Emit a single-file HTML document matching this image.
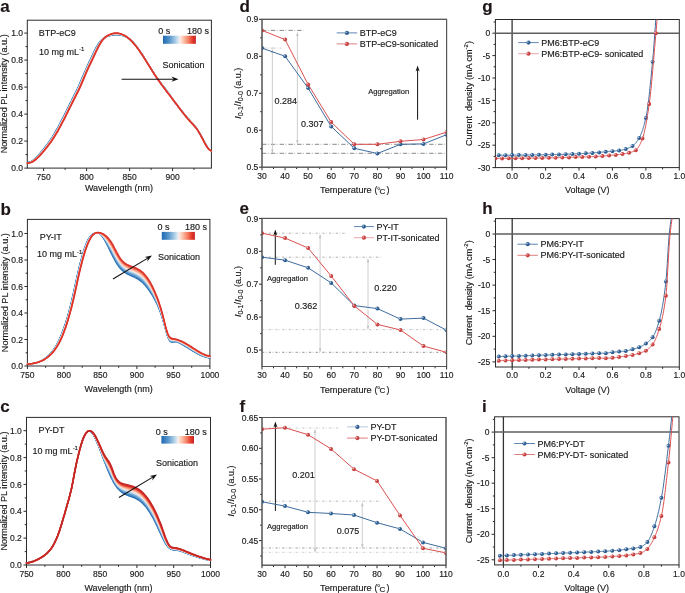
<!DOCTYPE html>
<html><head><meta charset="utf-8"><style>html,body{margin:0;padding:0;background:#fff;width:685px;height:593px;overflow:hidden}svg{display:block;will-change:transform}</style></head>
<body><svg width="685" height="593" viewBox="0 0 685 593" font-family="'Liberation Sans', sans-serif"><style>text{stroke:#1a1a1a;stroke-width:0.15;paint-order:fill}</style><defs><linearGradient id="cb1" x1="0" x2="1" y1="0" y2="0"><stop offset="0.0" stop-color="rgb(31, 104, 178)"/><stop offset="0.2" stop-color="rgb(88, 150, 203)"/><stop offset="0.38" stop-color="rgb(170, 204, 229)"/><stop offset="0.48" stop-color="rgb(225, 234, 244)"/><stop offset="0.52" stop-color="rgb(253, 236, 228)"/><stop offset="0.62" stop-color="rgb(251, 196, 174)"/><stop offset="0.78" stop-color="rgb(244, 126, 98)"/><stop offset="0.9" stop-color="rgb(229, 57, 44)"/><stop offset="1.0" stop-color="rgb(198, 38, 36)"/></linearGradient><linearGradient id="cb2" x1="0" x2="1" y1="0" y2="0"><stop offset="0.0" stop-color="rgb(31, 104, 178)"/><stop offset="0.2" stop-color="rgb(88, 150, 203)"/><stop offset="0.38" stop-color="rgb(170, 204, 229)"/><stop offset="0.48" stop-color="rgb(225, 234, 244)"/><stop offset="0.52" stop-color="rgb(253, 236, 228)"/><stop offset="0.62" stop-color="rgb(251, 196, 174)"/><stop offset="0.78" stop-color="rgb(244, 126, 98)"/><stop offset="0.9" stop-color="rgb(229, 57, 44)"/><stop offset="1.0" stop-color="rgb(198, 38, 36)"/></linearGradient><linearGradient id="cb3" x1="0" x2="1" y1="0" y2="0"><stop offset="0.0" stop-color="rgb(31, 104, 178)"/><stop offset="0.2" stop-color="rgb(88, 150, 203)"/><stop offset="0.38" stop-color="rgb(170, 204, 229)"/><stop offset="0.48" stop-color="rgb(225, 234, 244)"/><stop offset="0.52" stop-color="rgb(253, 236, 228)"/><stop offset="0.62" stop-color="rgb(251, 196, 174)"/><stop offset="0.78" stop-color="rgb(244, 126, 98)"/><stop offset="0.9" stop-color="rgb(229, 57, 44)"/><stop offset="1.0" stop-color="rgb(198, 38, 36)"/></linearGradient><radialGradient id="mb" cx="0.45" cy="0.4" r="0.6"><stop offset="0" stop-color="#dce8f5"/><stop offset="0.2" stop-color="#7fa3cb"/><stop offset="0.5" stop-color="#3d6c9f"/><stop offset="1" stop-color="#255583"/></radialGradient><radialGradient id="mr" cx="0.45" cy="0.4" r="0.6"><stop offset="0" stop-color="#fbe0e0"/><stop offset="0.2" stop-color="#e99494"/><stop offset="0.5" stop-color="#d24c4c"/><stop offset="1" stop-color="#b93636"/></radialGradient><clipPath id="cp1"><rect x="262" y="19.3" width="184.6" height="147.9"/></clipPath><clipPath id="cp2"><rect x="262" y="218.4" width="184.6" height="148.1"/></clipPath><clipPath id="cp3"><rect x="262" y="417.5" width="184" height="147.7"/></clipPath><clipPath id="cp4"><rect x="495.4" y="19.5" width="183.9" height="148.1"/></clipPath><clipPath id="cp5"><rect x="495.4" y="19.5" width="183.9" height="148.1"/></clipPath><clipPath id="cp6"><rect x="495.5" y="218.6" width="183.8" height="148.4"/></clipPath><clipPath id="cp7"><rect x="495.5" y="218.6" width="183.8" height="148.4"/></clipPath><clipPath id="cp8"><rect x="494.6" y="416.8" width="184.4" height="148.1"/></clipPath><clipPath id="cp9"><rect x="494.6" y="416.8" width="184.4" height="148.1"/></clipPath></defs><rect width="685" height="593" fill="#fff"/><text x="0.3" y="12.2" font-size="17" text-anchor="start" font-weight="bold" fill="#1e1414" >a</text><rect x="27.3" y="20.2" width="184.1" height="147.9" fill="none" stroke="#2b2b2b" stroke-width="1"/><line x1="43.6" y1="168.1" x2="43.6" y2="171.1" stroke="#2b2b2b" stroke-width="1" /><line x1="86.6" y1="168.1" x2="86.6" y2="171.1" stroke="#2b2b2b" stroke-width="1" /><line x1="129.6" y1="168.1" x2="129.6" y2="171.1" stroke="#2b2b2b" stroke-width="1" /><line x1="172.6" y1="168.1" x2="172.6" y2="171.1" stroke="#2b2b2b" stroke-width="1" /><line x1="65.1" y1="168.1" x2="65.1" y2="169.9" stroke="#2b2b2b" stroke-width="1" /><line x1="108.1" y1="168.1" x2="108.1" y2="169.9" stroke="#2b2b2b" stroke-width="1" /><line x1="151.1" y1="168.1" x2="151.1" y2="169.9" stroke="#2b2b2b" stroke-width="1" /><line x1="194" y1="168.1" x2="194" y2="169.9" stroke="#2b2b2b" stroke-width="1" /><text x="43.6" y="180" font-size="8.5" text-anchor="middle" font-weight="normal" fill="#1a1a1a" >750</text><text x="86.6" y="180" font-size="8.5" text-anchor="middle" font-weight="normal" fill="#1a1a1a" >800</text><text x="129.6" y="180" font-size="8.5" text-anchor="middle" font-weight="normal" fill="#1a1a1a" >850</text><text x="172.6" y="180" font-size="8.5" text-anchor="middle" font-weight="normal" fill="#1a1a1a" >900</text><line x1="24.3" y1="168.1" x2="27.3" y2="168.1" stroke="#2b2b2b" stroke-width="1" /><line x1="24.3" y1="141.1" x2="27.3" y2="141.1" stroke="#2b2b2b" stroke-width="1" /><line x1="24.3" y1="114.1" x2="27.3" y2="114.1" stroke="#2b2b2b" stroke-width="1" /><line x1="24.3" y1="87.1" x2="27.3" y2="87.1" stroke="#2b2b2b" stroke-width="1" /><line x1="24.3" y1="60.1" x2="27.3" y2="60.1" stroke="#2b2b2b" stroke-width="1" /><line x1="24.3" y1="33.1" x2="27.3" y2="33.1" stroke="#2b2b2b" stroke-width="1" /><line x1="25.5" y1="154.6" x2="27.3" y2="154.6" stroke="#2b2b2b" stroke-width="1" /><line x1="25.5" y1="127.6" x2="27.3" y2="127.6" stroke="#2b2b2b" stroke-width="1" /><line x1="25.5" y1="100.6" x2="27.3" y2="100.6" stroke="#2b2b2b" stroke-width="1" /><line x1="25.5" y1="73.6" x2="27.3" y2="73.6" stroke="#2b2b2b" stroke-width="1" /><line x1="25.5" y1="46.6" x2="27.3" y2="46.6" stroke="#2b2b2b" stroke-width="1" /><text x="23" y="171.2" font-size="8.5" text-anchor="end" font-weight="normal" fill="#1a1a1a" >0.0</text><text x="23" y="144.2" font-size="8.5" text-anchor="end" font-weight="normal" fill="#1a1a1a" >0.2</text><text x="23" y="117.2" font-size="8.5" text-anchor="end" font-weight="normal" fill="#1a1a1a" >0.4</text><text x="23" y="90.2" font-size="8.5" text-anchor="end" font-weight="normal" fill="#1a1a1a" >0.6</text><text x="23" y="63.2" font-size="8.5" text-anchor="end" font-weight="normal" fill="#1a1a1a" >0.8</text><text x="23" y="36.2" font-size="8.5" text-anchor="end" font-weight="normal" fill="#1a1a1a" >1.0</text><text x="119" y="191.2" font-size="9" text-anchor="middle" font-weight="normal" fill="#1a1a1a" >Wavelength (nm)</text><text x="0" y="0" font-size="9.1" text-anchor="middle" font-weight="normal" fill="#1a1a1a" transform="translate(7.4,93.8) rotate(-90)">Normalized PL intensity (a.u.)</text><text x="38.8" y="36.4" font-size="9" text-anchor="start" font-weight="normal" fill="#1a1a1a" >BTP-eC9</text><text x="39" y="54.8" font-size="9" text-anchor="start" font-weight="normal" fill="#1a1a1a" >10 mg mL<tspan font-size="6" dy="-3.5">-1</tspan></text><rect x="163" y="35.7" width="32.9" height="8.1" fill="url(#cb1)"/><text x="164.2" y="33.6" font-size="9" text-anchor="middle" font-weight="normal" fill="#1a1a1a" >0 s</text><text x="209" y="33.6" font-size="9" text-anchor="end" font-weight="normal" fill="#1a1a1a" >180 s</text><text x="162.6" y="68.1" font-size="9" text-anchor="start" font-weight="normal" fill="#1a1a1a" >Sonication</text><path d="M27.3,162.5 L28,162.4 L28.7,162.3 L29.4,162.1 L30.1,161.9 L30.9,161.6 L31.6,161.2 L32.3,160.7 L33,160.3 L33.7,159.7 L34.4,159.1 L35.1,158.5 L35.8,157.8 L36.5,157.1 L37.3,156.4 L38,155.6 L38.7,154.8 L39.4,154 L40.1,153.1 L40.8,152.3 L41.5,151.4 L42.2,150.6 L42.9,149.7 L43.6,148.8 L44.4,148 L45.1,147 L45.8,146.1 L46.5,145.2 L47.2,144.3 L47.9,143.3 L48.6,142.3 L49.3,141.3 L50,140.3 L50.8,139.2 L51.5,138.2 L52.2,137.1 L52.9,135.9 L53.6,134.8 L54.3,133.6 L55,132.4 L55.7,131.2 L56.4,129.9 L57.2,128.7 L57.9,127.4 L58.6,126.1 L59.3,124.7 L60,123.4 L60.7,122 L61.4,120.6 L62.1,119.3 L62.8,117.9 L63.6,116.4 L64.3,115 L65,113.6 L65.7,112.2 L66.4,110.8 L67.1,109.3 L67.8,107.9 L68.5,106.4 L69.2,105 L69.9,103.6 L70.7,102.1 L71.4,100.7 L72.1,99.3 L72.8,97.9 L73.5,96.5 L74.2,95.1 L74.9,93.7 L75.6,92.3 L76.3,90.8 L77.1,89.4 L77.8,87.9 L78.5,86.3 L79.2,84.7 L79.9,83.1 L80.6,81.4 L81.3,79.7 L82,78.1 L82.7,76.4 L83.5,74.7 L84.2,73.1 L84.9,71.5 L85.6,69.9 L86.3,68.3 L87,66.7 L87.7,65.1 L88.4,63.6 L89.1,62.1 L89.9,60.5 L90.6,59 L91.3,57.5 L92,56 L92.7,54.5 L93.4,53 L94.1,51.6 L94.8,50.1 L95.5,48.7 L96.2,47.4 L97,46.1 L97.7,44.9 L98.4,43.7 L99.1,42.7 L99.8,41.8 L100.5,40.9 L101.2,40.2 L101.9,39.5 L102.6,38.9 L103.4,38.4 L104.1,37.9 L104.8,37.5 L105.5,37.2 L106.2,36.9 L106.9,36.6 L107.6,36.3 L108.3,36.1 L109,35.9 L109.8,35.7 L110.5,35.5 L111.2,35.4 L111.9,35.2 L112.6,35.1 L113.3,35 L114,34.9 L114.7,34.8 L115.4,34.8 L116.2,34.8 L116.9,34.8 L117.6,34.8 L118.3,34.8 L119,34.9 L119.7,35 L120.4,35.1 L121.1,35.2 L121.8,35.4 L122.5,35.6 L123.3,35.8 L124,36 L124.7,36.3 L125.4,36.6 L126.1,36.9 L126.8,37.3 L127.5,37.7 L128.2,38.1 L128.9,38.6 L129.7,39.1 L130.4,39.7 L131.1,40.3 L131.8,40.9 L132.5,41.6 L133.2,42.4 L133.9,43.1 L134.6,43.9 L135.3,44.8 L136.1,45.7 L136.8,46.6 L137.5,47.5 L138.2,48.5 L138.9,49.5 L139.6,50.5 L140.3,51.6 L141,52.7 L141.7,53.7 L142.5,54.9 L143.2,56 L143.9,57.1 L144.6,58.2 L145.3,59.4 L146,60.6 L146.7,61.7 L147.4,62.9 L148.1,64.1 L148.8,65.2 L149.6,66.4 L150.3,67.5 L151,68.7 L151.7,69.8 L152.4,71 L153.1,72.1 L153.8,73.2 L154.5,74.3 L155.2,75.3 L156,76.4 L156.7,77.4 L157.4,78.4 L158.1,79.4 L158.8,80.3 L159.5,81.3 L160.2,82.2 L160.9,83.1 L161.6,84 L162.4,84.9 L163.1,85.8 L163.8,86.7 L164.5,87.6 L165.2,88.5 L165.9,89.4 L166.6,90.4 L167.3,91.4 L168,92.4 L168.8,93.4 L169.5,94.4 L170.2,95.5 L170.9,96.5 L171.6,97.5 L172.3,98.6 L173,99.6 L173.7,100.6 L174.4,101.6 L175.1,102.6 L175.9,103.6 L176.6,104.6 L177.3,105.5 L178,106.4 L178.7,107.3 L179.4,108.2 L180.1,109.1 L180.8,110 L181.5,110.8 L182.3,111.7 L183,112.5 L183.7,113.3 L184.4,114.1 L185.1,115 L185.8,115.8 L186.5,116.6 L187.2,117.4 L187.9,118.2 L188.7,119 L189.4,119.8 L190.1,120.6 L190.8,121.4 L191.5,122.3 L192.2,123.1 L192.9,123.9 L193.6,124.8 L194.3,125.7 L195.1,126.6 L195.8,127.5 L196.5,128.5 L197.2,129.4 L197.9,130.5 L198.6,131.5 L199.3,132.6 L200,133.7 L200.7,134.9 L201.4,136.2 L202.2,137.4 L202.9,138.8 L203.6,140.1 L204.3,141.5 L205,142.8 L205.7,144.1 L206.4,145.4 L207.1,146.5 L207.8,147.6 L208.6,148.6 L209.3,149.4 L210,150.1 L210.7,150.5 L211.4,150.8" fill="none" stroke="#1f68b2" stroke-width="1.3" stroke-linejoin="round" stroke-linecap="round" /><path d="M27.3,162.5 L28,162.5 L28.7,162.4 L29.4,162.2 L30.1,162 L30.9,161.7 L31.6,161.3 L32.3,160.9 L33,160.4 L33.7,159.9 L34.4,159.3 L35.1,158.7 L35.8,158 L36.5,157.3 L37.3,156.6 L38,155.8 L38.7,155 L39.4,154.2 L40.1,153.4 L40.8,152.6 L41.5,151.7 L42.2,150.9 L42.9,150 L43.6,149.1 L44.4,148.2 L45.1,147.3 L45.8,146.4 L46.5,145.5 L47.2,144.6 L47.9,143.6 L48.6,142.6 L49.3,141.6 L50,140.6 L50.8,139.6 L51.5,138.5 L52.2,137.4 L52.9,136.3 L53.6,135.1 L54.3,134 L55,132.8 L55.7,131.6 L56.4,130.3 L57.2,129.1 L57.9,127.8 L58.6,126.5 L59.3,125.1 L60,123.8 L60.7,122.4 L61.4,121.1 L62.1,119.7 L62.8,118.3 L63.6,116.9 L64.3,115.5 L65,114 L65.7,112.6 L66.4,111.2 L67.1,109.8 L67.8,108.3 L68.5,106.9 L69.2,105.5 L69.9,104 L70.7,102.6 L71.4,101.2 L72.1,99.8 L72.8,98.3 L73.5,96.9 L74.2,95.6 L74.9,94.1 L75.6,92.7 L76.3,91.3 L77.1,89.8 L77.8,88.3 L78.5,86.8 L79.2,85.2 L79.9,83.6 L80.6,81.9 L81.3,80.3 L82,78.6 L82.7,76.9 L83.5,75.2 L84.2,73.6 L84.9,72 L85.6,70.3 L86.3,68.8 L87,67.2 L87.7,65.6 L88.4,64.1 L89.1,62.5 L89.9,61 L90.6,59.5 L91.3,58 L92,56.5 L92.7,55 L93.4,53.5 L94.1,52.1 L94.8,50.6 L95.5,49.2 L96.2,47.8 L97,46.5 L97.7,45.3 L98.4,44.1 L99.1,43 L99.8,42.1 L100.5,41.2 L101.2,40.4 L101.9,39.7 L102.6,39.1 L103.4,38.5 L104.1,38 L104.8,37.6 L105.5,37.2 L106.2,36.8 L106.9,36.5 L107.6,36.3 L108.3,36 L109,35.8 L109.8,35.6 L110.5,35.4 L111.2,35.2 L111.9,35.1 L112.6,34.9 L113.3,34.8 L114,34.7 L114.7,34.7 L115.4,34.6 L116.2,34.6 L116.9,34.6 L117.6,34.6 L118.3,34.7 L119,34.7 L119.7,34.8 L120.4,34.9 L121.1,35.1 L121.8,35.3 L122.5,35.5 L123.3,35.7 L124,35.9 L124.7,36.2 L125.4,36.5 L126.1,36.9 L126.8,37.3 L127.5,37.7 L128.2,38.1 L128.9,38.6 L129.7,39.1 L130.4,39.7 L131.1,40.3 L131.8,41 L132.5,41.7 L133.2,42.4 L133.9,43.2 L134.6,44 L135.3,44.9 L136.1,45.7 L136.8,46.7 L137.5,47.6 L138.2,48.6 L138.9,49.6 L139.6,50.6 L140.3,51.7 L141,52.7 L141.7,53.8 L142.5,54.9 L143.2,56 L143.9,57.2 L144.6,58.3 L145.3,59.4 L146,60.6 L146.7,61.8 L147.4,62.9 L148.1,64.1 L148.8,65.2 L149.6,66.4 L150.3,67.6 L151,68.7 L151.7,69.9 L152.4,71 L153.1,72.1 L153.8,73.2 L154.5,74.3 L155.2,75.4 L156,76.4 L156.7,77.4 L157.4,78.5 L158.1,79.4 L158.8,80.4 L159.5,81.3 L160.2,82.3 L160.9,83.2 L161.6,84.1 L162.4,85 L163.1,85.9 L163.8,86.8 L164.5,87.7 L165.2,88.6 L165.9,89.6 L166.6,90.5 L167.3,91.5 L168,92.5 L168.8,93.5 L169.5,94.5 L170.2,95.5 L170.9,96.5 L171.6,97.6 L172.3,98.6 L173,99.6 L173.7,100.6 L174.4,101.6 L175.1,102.6 L175.9,103.6 L176.6,104.5 L177.3,105.5 L178,106.4 L178.7,107.3 L179.4,108.2 L180.1,109.1 L180.8,110 L181.5,110.8 L182.3,111.7 L183,112.5 L183.7,113.4 L184.4,114.2 L185.1,115 L185.8,115.8 L186.5,116.7 L187.2,117.5 L187.9,118.3 L188.7,119.1 L189.4,119.9 L190.1,120.7 L190.8,121.5 L191.5,122.3 L192.2,123.1 L192.9,124 L193.6,124.8 L194.3,125.7 L195.1,126.6 L195.8,127.5 L196.5,128.5 L197.2,129.4 L197.9,130.5 L198.6,131.5 L199.3,132.6 L200,133.8 L200.7,135 L201.4,136.2 L202.2,137.5 L202.9,138.8 L203.6,140.2 L204.3,141.6 L205,142.9 L205.7,144.2 L206.4,145.4 L207.1,146.6 L207.8,147.7 L208.6,148.6 L209.3,149.4 L210,150.1 L210.7,150.5 L211.4,150.8" fill="none" stroke="#3c80bf" stroke-width="1.3" stroke-linejoin="round" stroke-linecap="round" /><path d="M27.3,162.6 L28,162.6 L28.7,162.5 L29.4,162.3 L30.1,162.1 L30.9,161.8 L31.6,161.4 L32.3,161 L33,160.5 L33.7,160 L34.4,159.4 L35.1,158.8 L35.8,158.2 L36.5,157.5 L37.3,156.8 L38,156 L38.7,155.2 L39.4,154.4 L40.1,153.6 L40.8,152.8 L41.5,152 L42.2,151.1 L42.9,150.3 L43.6,149.4 L44.4,148.5 L45.1,147.6 L45.8,146.7 L46.5,145.8 L47.2,144.8 L47.9,143.9 L48.6,142.9 L49.3,141.9 L50,140.9 L50.8,139.9 L51.5,138.8 L52.2,137.7 L52.9,136.6 L53.6,135.5 L54.3,134.3 L55,133.2 L55.7,131.9 L56.4,130.7 L57.2,129.4 L57.9,128.2 L58.6,126.9 L59.3,125.5 L60,124.2 L60.7,122.9 L61.4,121.5 L62.1,120.1 L62.8,118.7 L63.6,117.3 L64.3,115.9 L65,114.5 L65.7,113.1 L66.4,111.6 L67.1,110.2 L67.8,108.8 L68.5,107.3 L69.2,105.9 L69.9,104.5 L70.7,103 L71.4,101.6 L72.1,100.2 L72.8,98.8 L73.5,97.4 L74.2,96 L74.9,94.6 L75.6,93.2 L76.3,91.8 L77.1,90.3 L77.8,88.8 L78.5,87.3 L79.2,85.7 L79.9,84.1 L80.6,82.4 L81.3,80.8 L82,79.1 L82.7,77.4 L83.5,75.8 L84.2,74.1 L84.9,72.5 L85.6,70.8 L86.3,69.2 L87,67.7 L87.7,66.1 L88.4,64.5 L89.1,63 L89.9,61.5 L90.6,60 L91.3,58.5 L92,57 L92.7,55.5 L93.4,54 L94.1,52.5 L94.8,51.1 L95.5,49.7 L96.2,48.3 L97,46.9 L97.7,45.7 L98.4,44.5 L99.1,43.4 L99.8,42.4 L100.5,41.4 L101.2,40.6 L101.9,39.9 L102.6,39.2 L103.4,38.6 L104.1,38.1 L104.8,37.6 L105.5,37.2 L106.2,36.8 L106.9,36.5 L107.6,36.2 L108.3,35.9 L109,35.7 L109.8,35.4 L110.5,35.2 L111.2,35 L111.9,34.9 L112.6,34.7 L113.3,34.6 L114,34.5 L114.7,34.5 L115.4,34.4 L116.2,34.4 L116.9,34.4 L117.6,34.4 L118.3,34.5 L119,34.6 L119.7,34.7 L120.4,34.8 L121.1,34.9 L121.8,35.1 L122.5,35.3 L123.3,35.6 L124,35.8 L124.7,36.1 L125.4,36.5 L126.1,36.8 L126.8,37.2 L127.5,37.6 L128.2,38.1 L128.9,38.6 L129.7,39.2 L130.4,39.7 L131.1,40.4 L131.8,41 L132.5,41.7 L133.2,42.5 L133.9,43.3 L134.6,44.1 L135.3,44.9 L136.1,45.8 L136.8,46.7 L137.5,47.7 L138.2,48.7 L138.9,49.7 L139.6,50.7 L140.3,51.7 L141,52.8 L141.7,53.9 L142.5,55 L143.2,56.1 L143.9,57.2 L144.6,58.3 L145.3,59.5 L146,60.6 L146.7,61.8 L147.4,62.9 L148.1,64.1 L148.8,65.3 L149.6,66.4 L150.3,67.6 L151,68.7 L151.7,69.9 L152.4,71 L153.1,72.1 L153.8,73.2 L154.5,74.3 L155.2,75.4 L156,76.4 L156.7,77.5 L157.4,78.5 L158.1,79.5 L158.8,80.4 L159.5,81.4 L160.2,82.3 L160.9,83.2 L161.6,84.2 L162.4,85.1 L163.1,86 L163.8,86.9 L164.5,87.8 L165.2,88.7 L165.9,89.7 L166.6,90.6 L167.3,91.6 L168,92.6 L168.8,93.6 L169.5,94.6 L170.2,95.6 L170.9,96.6 L171.6,97.6 L172.3,98.6 L173,99.6 L173.7,100.6 L174.4,101.6 L175.1,102.6 L175.9,103.5 L176.6,104.5 L177.3,105.4 L178,106.4 L178.7,107.3 L179.4,108.2 L180.1,109.1 L180.8,110 L181.5,110.8 L182.3,111.7 L183,112.6 L183.7,113.4 L184.4,114.3 L185.1,115.1 L185.8,115.9 L186.5,116.7 L187.2,117.6 L187.9,118.4 L188.7,119.2 L189.4,120 L190.1,120.8 L190.8,121.6 L191.5,122.4 L192.2,123.2 L192.9,124 L193.6,124.9 L194.3,125.7 L195.1,126.6 L195.8,127.5 L196.5,128.5 L197.2,129.5 L197.9,130.5 L198.6,131.6 L199.3,132.7 L200,133.8 L200.7,135 L201.4,136.3 L202.2,137.6 L202.9,138.9 L203.6,140.3 L204.3,141.6 L205,143 L205.7,144.3 L206.4,145.5 L207.1,146.7 L207.8,147.7 L208.6,148.7 L209.3,149.5 L210,150.1 L210.7,150.6 L211.4,150.8" fill="none" stroke="#5b98cc" stroke-width="1.3" stroke-linejoin="round" stroke-linecap="round" /><path d="M27.3,162.7 L28,162.7 L28.7,162.6 L29.4,162.4 L30.1,162.2 L30.9,161.9 L31.6,161.5 L32.3,161.1 L33,160.7 L33.7,160.2 L34.4,159.6 L35.1,159 L35.8,158.4 L36.5,157.7 L37.3,157 L38,156.2 L38.7,155.5 L39.4,154.7 L40.1,153.9 L40.8,153.1 L41.5,152.2 L42.2,151.4 L42.9,150.5 L43.6,149.7 L44.4,148.8 L45.1,147.9 L45.8,147 L46.5,146.1 L47.2,145.1 L47.9,144.2 L48.6,143.2 L49.3,142.2 L50,141.2 L50.8,140.2 L51.5,139.2 L52.2,138.1 L52.9,137 L53.6,135.9 L54.3,134.7 L55,133.5 L55.7,132.3 L56.4,131.1 L57.2,129.8 L57.9,128.6 L58.6,127.3 L59.3,126 L60,124.6 L60.7,123.3 L61.4,121.9 L62.1,120.5 L62.8,119.1 L63.6,117.7 L64.3,116.3 L65,114.9 L65.7,113.5 L66.4,112.1 L67.1,110.6 L67.8,109.2 L68.5,107.8 L69.2,106.3 L69.9,104.9 L70.7,103.5 L71.4,102.1 L72.1,100.6 L72.8,99.2 L73.5,97.8 L74.2,96.4 L74.9,95 L75.6,93.6 L76.3,92.2 L77.1,90.8 L77.8,89.3 L78.5,87.8 L79.2,86.2 L79.9,84.6 L80.6,83 L81.3,81.3 L82,79.6 L82.7,77.9 L83.5,76.3 L84.2,74.6 L84.9,73 L85.6,71.3 L86.3,69.7 L87,68.1 L87.7,66.6 L88.4,65 L89.1,63.5 L89.9,62 L90.6,60.5 L91.3,59 L92,57.5 L92.7,56 L93.4,54.5 L94.1,53 L94.8,51.6 L95.5,50.1 L96.2,48.7 L97,47.4 L97.7,46.1 L98.4,44.8 L99.1,43.7 L99.8,42.6 L100.5,41.7 L101.2,40.8 L101.9,40 L102.6,39.3 L103.4,38.7 L104.1,38.1 L104.8,37.6 L105.5,37.2 L106.2,36.8 L106.9,36.4 L107.6,36.1 L108.3,35.8 L109,35.5 L109.8,35.3 L110.5,35.1 L111.2,34.9 L111.9,34.7 L112.6,34.6 L113.3,34.4 L114,34.4 L114.7,34.3 L115.4,34.2 L116.2,34.2 L116.9,34.2 L117.6,34.2 L118.3,34.3 L119,34.4 L119.7,34.5 L120.4,34.6 L121.1,34.8 L121.8,35 L122.5,35.2 L123.3,35.5 L124,35.7 L124.7,36.1 L125.4,36.4 L126.1,36.8 L126.8,37.2 L127.5,37.6 L128.2,38.1 L128.9,38.6 L129.7,39.2 L130.4,39.8 L131.1,40.4 L131.8,41.1 L132.5,41.8 L133.2,42.5 L133.9,43.3 L134.6,44.1 L135.3,45 L136.1,45.9 L136.8,46.8 L137.5,47.8 L138.2,48.7 L138.9,49.7 L139.6,50.7 L140.3,51.8 L141,52.8 L141.7,53.9 L142.5,55 L143.2,56.1 L143.9,57.2 L144.6,58.4 L145.3,59.5 L146,60.7 L146.7,61.8 L147.4,63 L148.1,64.1 L148.8,65.3 L149.6,66.4 L150.3,67.6 L151,68.7 L151.7,69.9 L152.4,71 L153.1,72.1 L153.8,73.2 L154.5,74.3 L155.2,75.4 L156,76.5 L156.7,77.5 L157.4,78.5 L158.1,79.5 L158.8,80.5 L159.5,81.4 L160.2,82.4 L160.9,83.3 L161.6,84.2 L162.4,85.2 L163.1,86.1 L163.8,87 L164.5,87.9 L165.2,88.9 L165.9,89.8 L166.6,90.7 L167.3,91.7 L168,92.7 L168.8,93.7 L169.5,94.7 L170.2,95.6 L170.9,96.6 L171.6,97.6 L172.3,98.6 L173,99.6 L173.7,100.6 L174.4,101.6 L175.1,102.6 L175.9,103.5 L176.6,104.5 L177.3,105.4 L178,106.4 L178.7,107.3 L179.4,108.2 L180.1,109.1 L180.8,110 L181.5,110.9 L182.3,111.7 L183,112.6 L183.7,113.5 L184.4,114.3 L185.1,115.2 L185.8,116 L186.5,116.8 L187.2,117.6 L187.9,118.5 L188.7,119.3 L189.4,120.1 L190.1,120.9 L190.8,121.7 L191.5,122.5 L192.2,123.3 L192.9,124.1 L193.6,124.9 L194.3,125.8 L195.1,126.6 L195.8,127.5 L196.5,128.5 L197.2,129.5 L197.9,130.5 L198.6,131.6 L199.3,132.7 L200,133.9 L200.7,135.1 L201.4,136.4 L202.2,137.7 L202.9,139 L203.6,140.4 L204.3,141.7 L205,143.1 L205.7,144.4 L206.4,145.6 L207.1,146.7 L207.8,147.8 L208.6,148.7 L209.3,149.5 L210,150.1 L210.7,150.6 L211.4,150.8" fill="none" stroke="#8ab7db" stroke-width="1.3" stroke-linejoin="round" stroke-linecap="round" /><path d="M27.3,162.7 L28,162.7 L28.7,162.6 L29.4,162.5 L30.1,162.3 L30.9,162 L31.6,161.6 L32.3,161.2 L33,160.8 L33.7,160.3 L34.4,159.8 L35.1,159.2 L35.8,158.5 L36.5,157.9 L37.3,157.2 L38,156.5 L38.7,155.7 L39.4,154.9 L40.1,154.1 L40.8,153.3 L41.5,152.5 L42.2,151.6 L42.9,150.8 L43.6,149.9 L44.4,149.1 L45.1,148.2 L45.8,147.3 L46.5,146.4 L47.2,145.4 L47.9,144.5 L48.6,143.5 L49.3,142.6 L50,141.6 L50.8,140.5 L51.5,139.5 L52.2,138.4 L52.9,137.3 L53.6,136.2 L54.3,135.1 L55,133.9 L55.7,132.7 L56.4,131.5 L57.2,130.2 L57.9,129 L58.6,127.7 L59.3,126.4 L60,125 L60.7,123.7 L61.4,122.3 L62.1,121 L62.8,119.6 L63.6,118.2 L64.3,116.8 L65,115.4 L65.7,113.9 L66.4,112.5 L67.1,111.1 L67.8,109.7 L68.5,108.2 L69.2,106.8 L69.9,105.4 L70.7,103.9 L71.4,102.5 L72.1,101.1 L72.8,99.7 L73.5,98.3 L74.2,96.9 L74.9,95.5 L75.6,94.1 L76.3,92.7 L77.1,91.2 L77.8,89.7 L78.5,88.2 L79.2,86.7 L79.9,85.1 L80.6,83.5 L81.3,81.8 L82,80.1 L82.7,78.5 L83.5,76.8 L84.2,75.1 L84.9,73.5 L85.6,71.8 L86.3,70.2 L87,68.6 L87.7,67.1 L88.4,65.5 L89.1,64 L89.9,62.5 L90.6,60.9 L91.3,59.4 L92,58 L92.7,56.5 L93.4,55 L94.1,53.5 L94.8,52 L95.5,50.6 L96.2,49.2 L97,47.8 L97.7,46.5 L98.4,45.2 L99.1,44 L99.8,42.9 L100.5,41.9 L101.2,41 L101.9,40.2 L102.6,39.4 L103.4,38.8 L104.1,38.2 L104.8,37.6 L105.5,37.1 L106.2,36.7 L106.9,36.3 L107.6,36 L108.3,35.7 L109,35.4 L109.8,35.2 L110.5,34.9 L111.2,34.7 L111.9,34.5 L112.6,34.4 L113.3,34.3 L114,34.2 L114.7,34.1 L115.4,34 L116.2,34 L116.9,34 L117.6,34.1 L118.3,34.1 L119,34.2 L119.7,34.3 L120.4,34.5 L121.1,34.7 L121.8,34.9 L122.5,35.1 L123.3,35.4 L124,35.6 L124.7,36 L125.4,36.3 L126.1,36.7 L126.8,37.1 L127.5,37.6 L128.2,38.1 L128.9,38.6 L129.7,39.2 L130.4,39.8 L131.1,40.4 L131.8,41.1 L132.5,41.8 L133.2,42.6 L133.9,43.4 L134.6,44.2 L135.3,45.1 L136.1,46 L136.8,46.9 L137.5,47.8 L138.2,48.8 L138.9,49.8 L139.6,50.8 L140.3,51.8 L141,52.9 L141.7,54 L142.5,55.1 L143.2,56.2 L143.9,57.3 L144.6,58.4 L145.3,59.6 L146,60.7 L146.7,61.8 L147.4,63 L148.1,64.1 L148.8,65.3 L149.6,66.5 L150.3,67.6 L151,68.7 L151.7,69.9 L152.4,71 L153.1,72.1 L153.8,73.2 L154.5,74.3 L155.2,75.4 L156,76.5 L156.7,77.5 L157.4,78.5 L158.1,79.6 L158.8,80.5 L159.5,81.5 L160.2,82.5 L160.9,83.4 L161.6,84.3 L162.4,85.3 L163.1,86.2 L163.8,87.1 L164.5,88 L165.2,89 L165.9,89.9 L166.6,90.9 L167.3,91.8 L168,92.8 L168.8,93.8 L169.5,94.7 L170.2,95.7 L170.9,96.7 L171.6,97.7 L172.3,98.6 L173,99.6 L173.7,100.6 L174.4,101.6 L175.1,102.5 L175.9,103.5 L176.6,104.5 L177.3,105.4 L178,106.3 L178.7,107.3 L179.4,108.2 L180.1,109.1 L180.8,110 L181.5,110.9 L182.3,111.8 L183,112.6 L183.7,113.5 L184.4,114.4 L185.1,115.2 L185.8,116.1 L186.5,116.9 L187.2,117.7 L187.9,118.5 L188.7,119.4 L189.4,120.2 L190.1,121 L190.8,121.7 L191.5,122.5 L192.2,123.3 L192.9,124.1 L193.6,124.9 L194.3,125.8 L195.1,126.7 L195.8,127.6 L196.5,128.5 L197.2,129.5 L197.9,130.5 L198.6,131.6 L199.3,132.7 L200,133.9 L200.7,135.1 L201.4,136.4 L202.2,137.7 L202.9,139.1 L203.6,140.5 L204.3,141.8 L205,143.1 L205.7,144.4 L206.4,145.7 L207.1,146.8 L207.8,147.8 L208.6,148.7 L209.3,149.5 L210,150.1 L210.7,150.6 L211.4,150.8" fill="none" stroke="#bcd6ea" stroke-width="1.3" stroke-linejoin="round" stroke-linecap="round" /><path d="M27.3,162.8 L28,162.8 L28.7,162.7 L29.4,162.6 L30.1,162.4 L30.9,162.1 L31.6,161.8 L32.3,161.4 L33,160.9 L33.7,160.4 L34.4,159.9 L35.1,159.3 L35.8,158.7 L36.5,158.1 L37.3,157.4 L38,156.7 L38.7,155.9 L39.4,155.2 L40.1,154.4 L40.8,153.6 L41.5,152.7 L42.2,151.9 L42.9,151.1 L43.6,150.2 L44.4,149.3 L45.1,148.5 L45.8,147.6 L46.5,146.7 L47.2,145.7 L47.9,144.8 L48.6,143.9 L49.3,142.9 L50,141.9 L50.8,140.9 L51.5,139.8 L52.2,138.8 L52.9,137.7 L53.6,136.6 L54.3,135.4 L55,134.3 L55.7,133.1 L56.4,131.9 L57.2,130.6 L57.9,129.4 L58.6,128.1 L59.3,126.8 L60,125.4 L60.7,124.1 L61.4,122.8 L62.1,121.4 L62.8,120 L63.6,118.6 L64.3,117.2 L65,115.8 L65.7,114.4 L66.4,113 L67.1,111.5 L67.8,110.1 L68.5,108.7 L69.2,107.2 L69.9,105.8 L70.7,104.4 L71.4,102.9 L72.1,101.5 L72.8,100.1 L73.5,98.7 L74.2,97.3 L74.9,95.9 L75.6,94.5 L76.3,93.1 L77.1,91.7 L77.8,90.2 L78.5,88.7 L79.2,87.2 L79.9,85.6 L80.6,84 L81.3,82.3 L82,80.7 L82.7,79 L83.5,77.3 L84.2,75.6 L84.9,74 L85.6,72.3 L86.3,70.7 L87,69.1 L87.7,67.5 L88.4,66 L89.1,64.5 L89.9,62.9 L90.6,61.4 L91.3,59.9 L92,58.4 L92.7,56.9 L93.4,55.5 L94.1,54 L94.8,52.5 L95.5,51 L96.2,49.6 L97,48.2 L97.7,46.9 L98.4,45.6 L99.1,44.4 L99.8,43.2 L100.5,42.2 L101.2,41.2 L101.9,40.3 L102.6,39.6 L103.4,38.9 L104.1,38.2 L104.8,37.6 L105.5,37.1 L106.2,36.7 L106.9,36.3 L107.6,35.9 L108.3,35.6 L109,35.3 L109.8,35 L110.5,34.8 L111.2,34.6 L111.9,34.4 L112.6,34.2 L113.3,34.1 L114,34 L114.7,33.9 L115.4,33.9 L116.2,33.8 L116.9,33.8 L117.6,33.9 L118.3,34 L119,34 L119.7,34.2 L120.4,34.3 L121.1,34.5 L121.8,34.7 L122.5,35 L123.3,35.2 L124,35.5 L124.7,35.9 L125.4,36.3 L126.1,36.7 L126.8,37.1 L127.5,37.6 L128.2,38.1 L128.9,38.6 L129.7,39.2 L130.4,39.8 L131.1,40.5 L131.8,41.1 L132.5,41.9 L133.2,42.6 L133.9,43.4 L134.6,44.3 L135.3,45.1 L136.1,46 L136.8,46.9 L137.5,47.9 L138.2,48.9 L138.9,49.9 L139.6,50.9 L140.3,51.9 L141,53 L141.7,54 L142.5,55.1 L143.2,56.2 L143.9,57.3 L144.6,58.5 L145.3,59.6 L146,60.7 L146.7,61.9 L147.4,63 L148.1,64.2 L148.8,65.3 L149.6,66.5 L150.3,67.6 L151,68.8 L151.7,69.9 L152.4,71 L153.1,72.1 L153.8,73.3 L154.5,74.3 L155.2,75.4 L156,76.5 L156.7,77.6 L157.4,78.6 L158.1,79.6 L158.8,80.6 L159.5,81.6 L160.2,82.5 L160.9,83.5 L161.6,84.4 L162.4,85.4 L163.1,86.3 L163.8,87.2 L164.5,88.2 L165.2,89.1 L165.9,90 L166.6,91 L167.3,91.9 L168,92.9 L168.8,93.8 L169.5,94.8 L170.2,95.8 L170.9,96.7 L171.6,97.7 L172.3,98.7 L173,99.6 L173.7,100.6 L174.4,101.6 L175.1,102.5 L175.9,103.5 L176.6,104.4 L177.3,105.4 L178,106.3 L178.7,107.2 L179.4,108.2 L180.1,109.1 L180.8,110 L181.5,110.9 L182.3,111.8 L183,112.7 L183.7,113.6 L184.4,114.4 L185.1,115.3 L185.8,116.1 L186.5,117 L187.2,117.8 L187.9,118.6 L188.7,119.4 L189.4,120.2 L190.1,121 L190.8,121.8 L191.5,122.6 L192.2,123.4 L192.9,124.2 L193.6,125 L194.3,125.8 L195.1,126.7 L195.8,127.6 L196.5,128.5 L197.2,129.5 L197.9,130.5 L198.6,131.6 L199.3,132.8 L200,134 L200.7,135.2 L201.4,136.5 L202.2,137.8 L202.9,139.2 L203.6,140.5 L204.3,141.9 L205,143.2 L205.7,144.5 L206.4,145.7 L207.1,146.9 L207.8,147.9 L208.6,148.8 L209.3,149.6 L210,150.2 L210.7,150.6 L211.4,150.8" fill="none" stroke="#fbece5" stroke-width="1.3" stroke-linejoin="round" stroke-linecap="round" /><path d="M27.3,162.9 L28,162.9 L28.7,162.8 L29.4,162.7 L30.1,162.5 L30.9,162.2 L31.6,161.9 L32.3,161.5 L33,161.1 L33.7,160.6 L34.4,160.1 L35.1,159.5 L35.8,158.9 L36.5,158.3 L37.3,157.6 L38,156.9 L38.7,156.2 L39.4,155.4 L40.1,154.6 L40.8,153.8 L41.5,153 L42.2,152.2 L42.9,151.3 L43.6,150.5 L44.4,149.6 L45.1,148.8 L45.8,147.9 L46.5,147 L47.2,146 L47.9,145.1 L48.6,144.2 L49.3,143.2 L50,142.2 L50.8,141.2 L51.5,140.2 L52.2,139.1 L52.9,138 L53.6,136.9 L54.3,135.8 L55,134.6 L55.7,133.5 L56.4,132.2 L57.2,131 L57.9,129.8 L58.6,128.5 L59.3,127.2 L60,125.9 L60.7,124.5 L61.4,123.2 L62.1,121.8 L62.8,120.4 L63.6,119 L64.3,117.6 L65,116.2 L65.7,114.8 L66.4,113.4 L67.1,112 L67.8,110.5 L68.5,109.1 L69.2,107.7 L69.9,106.2 L70.7,104.8 L71.4,103.4 L72.1,102 L72.8,100.6 L73.5,99.2 L74.2,97.8 L74.9,96.4 L75.6,95 L76.3,93.6 L77.1,92.1 L77.8,90.7 L78.5,89.2 L79.2,87.7 L79.9,86.1 L80.6,84.5 L81.3,82.9 L82,81.2 L82.7,79.5 L83.5,77.8 L84.2,76.1 L84.9,74.5 L85.6,72.8 L86.3,71.2 L87,69.6 L87.7,68 L88.4,66.5 L89.1,64.9 L89.9,63.4 L90.6,61.9 L91.3,60.4 L92,58.9 L92.7,57.4 L93.4,55.9 L94.1,54.5 L94.8,53 L95.5,51.5 L96.2,50.1 L97,48.6 L97.7,47.3 L98.4,45.9 L99.1,44.7 L99.8,43.5 L100.5,42.4 L101.2,41.4 L101.9,40.5 L102.6,39.7 L103.4,38.9 L104.1,38.3 L104.8,37.7 L105.5,37.1 L106.2,36.6 L106.9,36.2 L107.6,35.8 L108.3,35.5 L109,35.2 L109.8,34.9 L110.5,34.6 L111.2,34.4 L111.9,34.2 L112.6,34 L113.3,33.9 L114,33.8 L114.7,33.7 L115.4,33.7 L116.2,33.7 L116.9,33.7 L117.6,33.7 L118.3,33.8 L119,33.9 L119.7,34 L120.4,34.2 L121.1,34.4 L121.8,34.6 L122.5,34.8 L123.3,35.1 L124,35.5 L124.7,35.8 L125.4,36.2 L126.1,36.6 L126.8,37.1 L127.5,37.5 L128.2,38.1 L128.9,38.6 L129.7,39.2 L130.4,39.8 L131.1,40.5 L131.8,41.2 L132.5,41.9 L133.2,42.7 L133.9,43.5 L134.6,44.3 L135.3,45.2 L136.1,46.1 L136.8,47 L137.5,48 L138.2,48.9 L138.9,49.9 L139.6,50.9 L140.3,52 L141,53 L141.7,54.1 L142.5,55.2 L143.2,56.3 L143.9,57.4 L144.6,58.5 L145.3,59.6 L146,60.8 L146.7,61.9 L147.4,63 L148.1,64.2 L148.8,65.3 L149.6,66.5 L150.3,67.6 L151,68.8 L151.7,69.9 L152.4,71 L153.1,72.2 L153.8,73.3 L154.5,74.4 L155.2,75.4 L156,76.5 L156.7,77.6 L157.4,78.6 L158.1,79.6 L158.8,80.6 L159.5,81.6 L160.2,82.6 L160.9,83.6 L161.6,84.5 L162.4,85.5 L163.1,86.4 L163.8,87.3 L164.5,88.3 L165.2,89.2 L165.9,90.1 L166.6,91.1 L167.3,92 L168,93 L168.8,93.9 L169.5,94.9 L170.2,95.8 L170.9,96.8 L171.6,97.7 L172.3,98.7 L173,99.6 L173.7,100.6 L174.4,101.6 L175.1,102.5 L175.9,103.5 L176.6,104.4 L177.3,105.4 L178,106.3 L178.7,107.2 L179.4,108.2 L180.1,109.1 L180.8,110 L181.5,110.9 L182.3,111.8 L183,112.7 L183.7,113.6 L184.4,114.5 L185.1,115.4 L185.8,116.2 L186.5,117.1 L187.2,117.9 L187.9,118.7 L188.7,119.5 L189.4,120.3 L190.1,121.1 L190.8,121.9 L191.5,122.7 L192.2,123.4 L192.9,124.2 L193.6,125 L194.3,125.8 L195.1,126.7 L195.8,127.6 L196.5,128.5 L197.2,129.5 L197.9,130.5 L198.6,131.6 L199.3,132.8 L200,134 L200.7,135.3 L201.4,136.6 L202.2,137.9 L202.9,139.3 L203.6,140.6 L204.3,142 L205,143.3 L205.7,144.6 L206.4,145.8 L207.1,146.9 L207.8,147.9 L208.6,148.8 L209.3,149.6 L210,150.2 L210.7,150.6 L211.4,150.8" fill="none" stroke="#fbc4ae" stroke-width="1.3" stroke-linejoin="round" stroke-linecap="round" /><path d="M27.3,162.9 L28,162.9 L28.7,162.9 L29.4,162.7 L30.1,162.5 L30.9,162.3 L31.6,162 L32.3,161.6 L33,161.2 L33.7,160.7 L34.4,160.2 L35.1,159.7 L35.8,159.1 L36.5,158.5 L37.3,157.8 L38,157.1 L38.7,156.4 L39.4,155.6 L40.1,154.9 L40.8,154.1 L41.5,153.3 L42.2,152.4 L42.9,151.6 L43.6,150.8 L44.4,149.9 L45.1,149 L45.8,148.2 L46.5,147.3 L47.2,146.3 L47.9,145.4 L48.6,144.5 L49.3,143.5 L50,142.5 L50.8,141.5 L51.5,140.5 L52.2,139.5 L52.9,138.4 L53.6,137.3 L54.3,136.2 L55,135 L55.7,133.8 L56.4,132.6 L57.2,131.4 L57.9,130.2 L58.6,128.9 L59.3,127.6 L60,126.3 L60.7,124.9 L61.4,123.6 L62.1,122.2 L62.8,120.9 L63.6,119.5 L64.3,118.1 L65,116.7 L65.7,115.3 L66.4,113.8 L67.1,112.4 L67.8,111 L68.5,109.6 L69.2,108.1 L69.9,106.7 L70.7,105.3 L71.4,103.8 L72.1,102.4 L72.8,101 L73.5,99.6 L74.2,98.2 L74.9,96.8 L75.6,95.4 L76.3,94 L77.1,92.6 L77.8,91.2 L78.5,89.7 L79.2,88.2 L79.9,86.6 L80.6,85 L81.3,83.4 L82,81.7 L82.7,80 L83.5,78.3 L84.2,76.6 L84.9,75 L85.6,73.3 L86.3,71.7 L87,70.1 L87.7,68.5 L88.4,66.9 L89.1,65.4 L89.9,63.9 L90.6,62.4 L91.3,60.9 L92,59.4 L92.7,57.9 L93.4,56.4 L94.1,54.9 L94.8,53.5 L95.5,52 L96.2,50.5 L97,49.1 L97.7,47.7 L98.4,46.3 L99.1,45 L99.8,43.8 L100.5,42.7 L101.2,41.6 L101.9,40.7 L102.6,39.8 L103.4,39 L104.1,38.3 L104.8,37.7 L105.5,37.1 L106.2,36.6 L106.9,36.1 L107.6,35.7 L108.3,35.4 L109,35 L109.8,34.7 L110.5,34.5 L111.2,34.2 L111.9,34 L112.6,33.9 L113.3,33.7 L114,33.6 L114.7,33.5 L115.4,33.5 L116.2,33.5 L116.9,33.5 L117.6,33.5 L118.3,33.6 L119,33.7 L119.7,33.8 L120.4,34 L121.1,34.2 L121.8,34.5 L122.5,34.7 L123.3,35 L124,35.4 L124.7,35.7 L125.4,36.1 L126.1,36.5 L126.8,37 L127.5,37.5 L128.2,38 L128.9,38.6 L129.7,39.2 L130.4,39.9 L131.1,40.5 L131.8,41.2 L132.5,42 L133.2,42.8 L133.9,43.6 L134.6,44.4 L135.3,45.3 L136.1,46.2 L136.8,47.1 L137.5,48 L138.2,49 L138.9,50 L139.6,51 L140.3,52 L141,53.1 L141.7,54.2 L142.5,55.2 L143.2,56.3 L143.9,57.4 L144.6,58.5 L145.3,59.7 L146,60.8 L146.7,61.9 L147.4,63.1 L148.1,64.2 L148.8,65.4 L149.6,66.5 L150.3,67.6 L151,68.8 L151.7,69.9 L152.4,71 L153.1,72.2 L153.8,73.3 L154.5,74.4 L155.2,75.5 L156,76.5 L156.7,77.6 L157.4,78.6 L158.1,79.7 L158.8,80.7 L159.5,81.7 L160.2,82.7 L160.9,83.6 L161.6,84.6 L162.4,85.6 L163.1,86.5 L163.8,87.4 L164.5,88.4 L165.2,89.3 L165.9,90.3 L166.6,91.2 L167.3,92.1 L168,93.1 L168.8,94 L169.5,94.9 L170.2,95.9 L170.9,96.8 L171.6,97.8 L172.3,98.7 L173,99.7 L173.7,100.6 L174.4,101.5 L175.1,102.5 L175.9,103.4 L176.6,104.4 L177.3,105.3 L178,106.3 L178.7,107.2 L179.4,108.2 L180.1,109.1 L180.8,110 L181.5,110.9 L182.3,111.8 L183,112.8 L183.7,113.7 L184.4,114.5 L185.1,115.4 L185.8,116.3 L186.5,117.1 L187.2,118 L187.9,118.8 L188.7,119.6 L189.4,120.4 L190.1,121.2 L190.8,122 L191.5,122.7 L192.2,123.5 L192.9,124.3 L193.6,125.1 L194.3,125.9 L195.1,126.7 L195.8,127.6 L196.5,128.5 L197.2,129.5 L197.9,130.5 L198.6,131.6 L199.3,132.8 L200,134 L200.7,135.3 L201.4,136.6 L202.2,138 L202.9,139.3 L203.6,140.7 L204.3,142.1 L205,143.4 L205.7,144.7 L206.4,145.9 L207.1,147 L207.8,148 L208.6,148.9 L209.3,149.6 L210,150.2 L210.7,150.6 L211.4,150.8" fill="none" stroke="#f6977d" stroke-width="1.3" stroke-linejoin="round" stroke-linecap="round" /><path d="M27.3,163 L28,163 L28.7,162.9 L29.4,162.8 L30.1,162.6 L30.9,162.4 L31.6,162.1 L32.3,161.7 L33,161.3 L33.7,160.9 L34.4,160.4 L35.1,159.9 L35.8,159.3 L36.5,158.7 L37.3,158 L38,157.3 L38.7,156.6 L39.4,155.9 L40.1,155.1 L40.8,154.3 L41.5,153.5 L42.2,152.7 L42.9,151.9 L43.6,151 L44.4,150.2 L45.1,149.3 L45.8,148.4 L46.5,147.6 L47.2,146.6 L47.9,145.7 L48.6,144.8 L49.3,143.8 L50,142.9 L50.8,141.9 L51.5,140.8 L52.2,139.8 L52.9,138.7 L53.6,137.6 L54.3,136.5 L55,135.4 L55.7,134.2 L56.4,133 L57.2,131.8 L57.9,130.6 L58.6,129.3 L59.3,128 L60,126.7 L60.7,125.4 L61.4,124 L62.1,122.7 L62.8,121.3 L63.6,119.9 L64.3,118.5 L65,117.1 L65.7,115.7 L66.4,114.3 L67.1,112.9 L67.8,111.4 L68.5,110 L69.2,108.6 L69.9,107.1 L70.7,105.7 L71.4,104.3 L72.1,102.9 L72.8,101.4 L73.5,100 L74.2,98.6 L74.9,97.2 L75.6,95.9 L76.3,94.5 L77.1,93.1 L77.8,91.6 L78.5,90.2 L79.2,88.7 L79.9,87.1 L80.6,85.5 L81.3,83.9 L82,82.2 L82.7,80.5 L83.5,78.8 L84.2,77.1 L84.9,75.5 L85.6,73.8 L86.3,72.2 L87,70.6 L87.7,69 L88.4,67.4 L89.1,65.9 L89.9,64.4 L90.6,62.9 L91.3,61.4 L92,59.9 L92.7,58.4 L93.4,56.9 L94.1,55.4 L94.8,53.9 L95.5,52.4 L96.2,50.9 L97,49.5 L97.7,48.1 L98.4,46.7 L99.1,45.3 L99.8,44.1 L100.5,42.9 L101.2,41.8 L101.9,40.8 L102.6,39.9 L103.4,39.1 L104.1,38.4 L104.8,37.7 L105.5,37.1 L106.2,36.6 L106.9,36.1 L107.6,35.6 L108.3,35.3 L109,34.9 L109.8,34.6 L110.5,34.3 L111.2,34.1 L111.9,33.9 L112.6,33.7 L113.3,33.5 L114,33.4 L114.7,33.3 L115.4,33.3 L116.2,33.3 L116.9,33.3 L117.6,33.3 L118.3,33.4 L119,33.5 L119.7,33.7 L120.4,33.9 L121.1,34.1 L121.8,34.3 L122.5,34.6 L123.3,34.9 L124,35.3 L124.7,35.6 L125.4,36 L126.1,36.5 L126.8,37 L127.5,37.5 L128.2,38 L128.9,38.6 L129.7,39.2 L130.4,39.9 L131.1,40.6 L131.8,41.3 L132.5,42 L133.2,42.8 L133.9,43.6 L134.6,44.5 L135.3,45.3 L136.1,46.2 L136.8,47.2 L137.5,48.1 L138.2,49.1 L138.9,50.1 L139.6,51.1 L140.3,52.1 L141,53.2 L141.7,54.2 L142.5,55.3 L143.2,56.4 L143.9,57.5 L144.6,58.6 L145.3,59.7 L146,60.8 L146.7,62 L147.4,63.1 L148.1,64.2 L148.8,65.4 L149.6,66.5 L150.3,67.7 L151,68.8 L151.7,69.9 L152.4,71.1 L153.1,72.2 L153.8,73.3 L154.5,74.4 L155.2,75.5 L156,76.6 L156.7,77.6 L157.4,78.7 L158.1,79.7 L158.8,80.7 L159.5,81.7 L160.2,82.7 L160.9,83.7 L161.6,84.7 L162.4,85.7 L163.1,86.6 L163.8,87.6 L164.5,88.5 L165.2,89.4 L165.9,90.4 L166.6,91.3 L167.3,92.2 L168,93.2 L168.8,94.1 L169.5,95 L170.2,95.9 L170.9,96.9 L171.6,97.8 L172.3,98.7 L173,99.7 L173.7,100.6 L174.4,101.5 L175.1,102.5 L175.9,103.4 L176.6,104.4 L177.3,105.3 L178,106.3 L178.7,107.2 L179.4,108.1 L180.1,109.1 L180.8,110 L181.5,111 L182.3,111.9 L183,112.8 L183.7,113.7 L184.4,114.6 L185.1,115.5 L185.8,116.4 L186.5,117.2 L187.2,118.1 L187.9,118.9 L188.7,119.7 L189.4,120.5 L190.1,121.3 L190.8,122.1 L191.5,122.8 L192.2,123.6 L192.9,124.3 L193.6,125.1 L194.3,125.9 L195.1,126.7 L195.8,127.6 L196.5,128.5 L197.2,129.5 L197.9,130.5 L198.6,131.7 L199.3,132.8 L200,134.1 L200.7,135.4 L201.4,136.7 L202.2,138 L202.9,139.4 L203.6,140.8 L204.3,142.2 L205,143.5 L205.7,144.7 L206.4,145.9 L207.1,147 L207.8,148 L208.6,148.9 L209.3,149.6 L210,150.2 L210.7,150.6 L211.4,150.8" fill="none" stroke="#ee634d" stroke-width="1.3" stroke-linejoin="round" stroke-linecap="round" /><path d="M27.3,163.1 L28,163.1 L28.7,163 L29.4,162.9 L30.1,162.7 L30.9,162.5 L31.6,162.2 L32.3,161.9 L33,161.5 L33.7,161 L34.4,160.6 L35.1,160 L35.8,159.5 L36.5,158.9 L37.3,158.2 L38,157.5 L38.7,156.8 L39.4,156.1 L40.1,155.4 L40.8,154.6 L41.5,153.8 L42.2,153 L42.9,152.1 L43.6,151.3 L44.4,150.5 L45.1,149.6 L45.8,148.7 L46.5,147.8 L47.2,146.9 L47.9,146 L48.6,145.1 L49.3,144.1 L50,143.2 L50.8,142.2 L51.5,141.2 L52.2,140.1 L52.9,139.1 L53.6,138 L54.3,136.9 L55,135.8 L55.7,134.6 L56.4,133.4 L57.2,132.2 L57.9,131 L58.6,129.7 L59.3,128.4 L60,127.1 L60.7,125.8 L61.4,124.4 L62.1,123.1 L62.8,121.7 L63.6,120.3 L64.3,119 L65,117.6 L65.7,116.1 L66.4,114.7 L67.1,113.3 L67.8,111.9 L68.5,110.4 L69.2,109 L69.9,107.6 L70.7,106.2 L71.4,104.7 L72.1,103.3 L72.8,101.9 L73.5,100.5 L74.2,99.1 L74.9,97.7 L75.6,96.3 L76.3,94.9 L77.1,93.5 L77.8,92.1 L78.5,90.7 L79.2,89.2 L79.9,87.6 L80.6,86.1 L81.3,84.4 L82,82.8 L82.7,81.1 L83.5,79.4 L84.2,77.6 L84.9,76 L85.6,74.3 L86.3,72.6 L87,71 L87.7,69.5 L88.4,67.9 L89.1,66.4 L89.9,64.9 L90.6,63.3 L91.3,61.9 L92,60.4 L92.7,58.9 L93.4,57.4 L94.1,55.9 L94.8,54.4 L95.5,52.9 L96.2,51.4 L97,49.9 L97.7,48.4 L98.4,47 L99.1,45.7 L99.8,44.4 L100.5,43.2 L101.2,42 L101.9,41 L102.6,40.1 L103.4,39.2 L104.1,38.4 L104.8,37.7 L105.5,37.1 L106.2,36.5 L106.9,36 L107.6,35.6 L108.3,35.2 L109,34.8 L109.8,34.5 L110.5,34.2 L111.2,33.9 L111.9,33.7 L112.6,33.5 L113.3,33.4 L114,33.2 L114.7,33.2 L115.4,33.1 L116.2,33.1 L116.9,33.1 L117.6,33.2 L118.3,33.2 L119,33.4 L119.7,33.5 L120.4,33.7 L121.1,33.9 L121.8,34.2 L122.5,34.5 L123.3,34.8 L124,35.2 L124.7,35.6 L125.4,36 L126.1,36.4 L126.8,36.9 L127.5,37.5 L128.2,38 L128.9,38.6 L129.7,39.2 L130.4,39.9 L131.1,40.6 L131.8,41.3 L132.5,42.1 L133.2,42.9 L133.9,43.7 L134.6,44.5 L135.3,45.4 L136.1,46.3 L136.8,47.2 L137.5,48.2 L138.2,49.1 L138.9,50.1 L139.6,51.1 L140.3,52.2 L141,53.2 L141.7,54.3 L142.5,55.3 L143.2,56.4 L143.9,57.5 L144.6,58.6 L145.3,59.7 L146,60.9 L146.7,62 L147.4,63.1 L148.1,64.3 L148.8,65.4 L149.6,66.5 L150.3,67.7 L151,68.8 L151.7,69.9 L152.4,71.1 L153.1,72.2 L153.8,73.3 L154.5,74.4 L155.2,75.5 L156,76.6 L156.7,77.7 L157.4,78.7 L158.1,79.8 L158.8,80.8 L159.5,81.8 L160.2,82.8 L160.9,83.8 L161.6,84.8 L162.4,85.8 L163.1,86.7 L163.8,87.7 L164.5,88.6 L165.2,89.6 L165.9,90.5 L166.6,91.4 L167.3,92.3 L168,93.3 L168.8,94.2 L169.5,95.1 L170.2,96 L170.9,96.9 L171.6,97.8 L172.3,98.8 L173,99.7 L173.7,100.6 L174.4,101.5 L175.1,102.5 L175.9,103.4 L176.6,104.3 L177.3,105.3 L178,106.2 L178.7,107.2 L179.4,108.1 L180.1,109.1 L180.8,110 L181.5,111 L182.3,111.9 L183,112.8 L183.7,113.7 L184.4,114.7 L185.1,115.6 L185.8,116.4 L186.5,117.3 L187.2,118.2 L187.9,119 L188.7,119.8 L189.4,120.6 L190.1,121.4 L190.8,122.1 L191.5,122.9 L192.2,123.6 L192.9,124.4 L193.6,125.1 L194.3,125.9 L195.1,126.8 L195.8,127.6 L196.5,128.5 L197.2,129.5 L197.9,130.6 L198.6,131.7 L199.3,132.9 L200,134.1 L200.7,135.4 L201.4,136.8 L202.2,138.1 L202.9,139.5 L203.6,140.9 L204.3,142.2 L205,143.6 L205.7,144.8 L206.4,146 L207.1,147.1 L207.8,148.1 L208.6,149 L209.3,149.7 L210,150.2 L210.7,150.6 L211.4,150.8" fill="none" stroke="#dc332a" stroke-width="1.7" stroke-linejoin="round" stroke-linecap="round" /><line x1="121.6" y1="79.2" x2="173.6" y2="79.2" stroke="#111" stroke-width="1.1" /><path d="M178.5,79.2 L171.5,81.8 L173.6,79.2 L171.5,76.6 Z" fill="#111"/><text x="0.5" y="214.5" font-size="17" text-anchor="start" font-weight="bold" fill="#1e1414" >b</text><rect x="27.4" y="219.4" width="182.5" height="146.6" fill="none" stroke="#2b2b2b" stroke-width="1"/><line x1="27.4" y1="366" x2="27.4" y2="369" stroke="#2b2b2b" stroke-width="1" /><line x1="63.9" y1="366" x2="63.9" y2="369" stroke="#2b2b2b" stroke-width="1" /><line x1="100.4" y1="366" x2="100.4" y2="369" stroke="#2b2b2b" stroke-width="1" /><line x1="136.9" y1="366" x2="136.9" y2="369" stroke="#2b2b2b" stroke-width="1" /><line x1="173.4" y1="366" x2="173.4" y2="369" stroke="#2b2b2b" stroke-width="1" /><line x1="209.9" y1="366" x2="209.9" y2="369" stroke="#2b2b2b" stroke-width="1" /><line x1="45.6" y1="366" x2="45.6" y2="367.8" stroke="#2b2b2b" stroke-width="1" /><line x1="82.2" y1="366" x2="82.2" y2="367.8" stroke="#2b2b2b" stroke-width="1" /><line x1="118.7" y1="366" x2="118.7" y2="367.8" stroke="#2b2b2b" stroke-width="1" /><line x1="155.1" y1="366" x2="155.1" y2="367.8" stroke="#2b2b2b" stroke-width="1" /><line x1="191.7" y1="366" x2="191.7" y2="367.8" stroke="#2b2b2b" stroke-width="1" /><text x="27.4" y="378.2" font-size="8.5" text-anchor="middle" font-weight="normal" fill="#1a1a1a" >750</text><text x="63.9" y="378.2" font-size="8.5" text-anchor="middle" font-weight="normal" fill="#1a1a1a" >800</text><text x="100.4" y="378.2" font-size="8.5" text-anchor="middle" font-weight="normal" fill="#1a1a1a" >850</text><text x="136.9" y="378.2" font-size="8.5" text-anchor="middle" font-weight="normal" fill="#1a1a1a" >900</text><text x="173.4" y="378.2" font-size="8.5" text-anchor="middle" font-weight="normal" fill="#1a1a1a" >950</text><text x="209.9" y="378.2" font-size="8.5" text-anchor="middle" font-weight="normal" fill="#1a1a1a" >1000</text><line x1="24.4" y1="366" x2="27.4" y2="366" stroke="#2b2b2b" stroke-width="1" /><line x1="24.4" y1="339.5" x2="27.4" y2="339.5" stroke="#2b2b2b" stroke-width="1" /><line x1="24.4" y1="313" x2="27.4" y2="313" stroke="#2b2b2b" stroke-width="1" /><line x1="24.4" y1="286.5" x2="27.4" y2="286.5" stroke="#2b2b2b" stroke-width="1" /><line x1="24.4" y1="260" x2="27.4" y2="260" stroke="#2b2b2b" stroke-width="1" /><line x1="24.4" y1="233.5" x2="27.4" y2="233.5" stroke="#2b2b2b" stroke-width="1" /><line x1="25.6" y1="352.8" x2="27.4" y2="352.8" stroke="#2b2b2b" stroke-width="1" /><line x1="25.6" y1="326.2" x2="27.4" y2="326.2" stroke="#2b2b2b" stroke-width="1" /><line x1="25.6" y1="299.8" x2="27.4" y2="299.8" stroke="#2b2b2b" stroke-width="1" /><line x1="25.6" y1="273.2" x2="27.4" y2="273.2" stroke="#2b2b2b" stroke-width="1" /><line x1="25.6" y1="246.8" x2="27.4" y2="246.8" stroke="#2b2b2b" stroke-width="1" /><text x="23" y="369.1" font-size="8.5" text-anchor="end" font-weight="normal" fill="#1a1a1a" >0.0</text><text x="23" y="342.6" font-size="8.5" text-anchor="end" font-weight="normal" fill="#1a1a1a" >0.2</text><text x="23" y="316.1" font-size="8.5" text-anchor="end" font-weight="normal" fill="#1a1a1a" >0.4</text><text x="23" y="289.6" font-size="8.5" text-anchor="end" font-weight="normal" fill="#1a1a1a" >0.6</text><text x="23" y="263.1" font-size="8.5" text-anchor="end" font-weight="normal" fill="#1a1a1a" >0.8</text><text x="23" y="236.6" font-size="8.5" text-anchor="end" font-weight="normal" fill="#1a1a1a" >1.0</text><text x="118.6" y="392" font-size="9" text-anchor="middle" font-weight="normal" fill="#1a1a1a" >Wavelength (nm)</text><text x="0" y="0" font-size="9.1" text-anchor="middle" font-weight="normal" fill="#1a1a1a" transform="translate(8.0,292.7) rotate(-90)">Normalized PL intensity (a.u.)</text><text x="39.7" y="239.5" font-size="9" text-anchor="start" font-weight="normal" fill="#1a1a1a" >PY-IT</text><text x="37" y="257" font-size="9" text-anchor="start" font-weight="normal" fill="#1a1a1a" >10 mg mL<tspan font-size="6" dy="-3.5">-1</tspan></text><rect x="161.8" y="231.9" width="33.1" height="7.9" fill="url(#cb2)"/><text x="163.5" y="230.4" font-size="9" text-anchor="middle" font-weight="normal" fill="#1a1a1a" >0 s</text><text x="207" y="230.4" font-size="9" text-anchor="end" font-weight="normal" fill="#1a1a1a" >180 s</text><text x="158.1" y="259.5" font-size="9" text-anchor="start" font-weight="normal" fill="#1a1a1a" >Sonication</text><path d="M27.4,364.2 L28.1,364.2 L28.8,364.2 L29.5,364.2 L30.2,364.1 L30.9,364 L31.6,363.9 L32.3,363.8 L33,363.7 L33.7,363.5 L34.4,363.4 L35.2,363.2 L35.9,363 L36.6,362.7 L37.3,362.5 L38,362.2 L38.7,361.9 L39.4,361.6 L40.1,361.3 L40.8,360.9 L41.5,360.6 L42.2,360.2 L42.9,359.7 L43.6,359.3 L44.3,358.8 L45,358.4 L45.7,357.8 L46.4,357.3 L47.1,356.7 L47.8,356.1 L48.5,355.5 L49.2,354.8 L49.9,354.1 L50.7,353.3 L51.4,352.5 L52.1,351.6 L52.8,350.7 L53.5,349.7 L54.2,348.7 L54.9,347.6 L55.6,346.5 L56.3,345.3 L57,344 L57.7,342.6 L58.4,341.2 L59.1,339.8 L59.8,338.2 L60.5,336.6 L61.2,334.9 L61.9,333.1 L62.6,331.3 L63.3,329.4 L64,327.4 L64.7,325.3 L65.5,323.2 L66.2,320.9 L66.9,318.6 L67.6,316.2 L68.3,313.7 L69,311.1 L69.7,308.5 L70.4,305.7 L71.1,302.9 L71.8,300 L72.5,297 L73.2,293.8 L73.9,290.7 L74.6,287.4 L75.3,284.2 L76,281 L76.7,277.8 L77.4,274.7 L78.1,271.6 L78.8,268.6 L79.5,265.7 L80.2,262.9 L81,260.2 L81.7,257.5 L82.4,255 L83.1,252.6 L83.8,250.3 L84.5,248.2 L85.2,246.2 L85.9,244.3 L86.6,242.6 L87.3,241.1 L88,239.7 L88.7,238.5 L89.4,237.5 L90.1,236.6 L90.8,235.8 L91.5,235.2 L92.2,234.6 L92.9,234.1 L93.6,233.6 L94.3,233.2 L95,232.9 L95.7,232.6 L96.5,232.5 L97.2,232.5 L97.9,232.6 L98.6,233 L99.3,233.4 L100,234 L100.7,234.7 L101.4,235.4 L102.1,236.3 L102.8,237.3 L103.5,238.4 L104.2,239.5 L104.9,240.7 L105.6,242 L106.3,243.3 L107,244.7 L107.7,246.1 L108.4,247.5 L109.1,249 L109.8,250.4 L110.5,251.9 L111.3,253.4 L112,254.8 L112.7,256.3 L113.4,257.7 L114.1,259 L114.8,260.3 L115.5,261.6 L116.2,262.8 L116.9,263.9 L117.6,265 L118.3,266 L119,266.9 L119.7,267.8 L120.4,268.6 L121.1,269.3 L121.8,270 L122.5,270.7 L123.2,271.3 L123.9,271.8 L124.6,272.3 L125.3,272.8 L126,273.3 L126.8,273.7 L127.5,274.1 L128.2,274.4 L128.9,274.8 L129.6,275.1 L130.3,275.5 L131,275.8 L131.7,276.1 L132.4,276.4 L133.1,276.7 L133.8,277 L134.5,277.3 L135.2,277.7 L135.9,278 L136.6,278.4 L137.3,278.8 L138,279.2 L138.7,279.7 L139.4,280.1 L140.1,280.7 L140.8,281.2 L141.6,281.8 L142.3,282.4 L143,283.1 L143.7,283.8 L144.4,284.6 L145.1,285.3 L145.8,286.2 L146.5,287 L147.2,287.9 L147.9,288.8 L148.6,289.8 L149.3,290.7 L150,291.8 L150.7,292.8 L151.4,293.9 L152.1,295 L152.8,296.1 L153.5,297.3 L154.2,298.6 L154.9,299.9 L155.6,301.3 L156.3,302.7 L157.1,304.2 L157.8,305.8 L158.5,307.5 L159.2,309.2 L159.9,311.1 L160.6,313 L161.3,315 L162,317.2 L162.7,319.5 L163.4,321.8 L164.1,324.3 L164.8,326.8 L165.5,329.4 L166.2,331.9 L166.9,334.3 L167.6,336.4 L168.3,338.2 L169,339.7 L169.7,340.8 L170.4,341.5 L171.1,342 L171.8,342.2 L172.6,342.2 L173.3,342.1 L174,342 L174.7,341.8 L175.4,341.7 L176.1,341.8 L176.8,341.9 L177.5,342.1 L178.2,342.4 L178.9,342.8 L179.6,343.2 L180.3,343.5 L181,343.9 L181.7,344.3 L182.4,344.7 L183.1,345.1 L183.8,345.6 L184.5,346 L185.2,346.4 L185.9,346.8 L186.6,347.3 L187.4,347.7 L188.1,348.1 L188.8,348.6 L189.5,349 L190.2,349.5 L190.9,349.9 L191.6,350.3 L192.3,350.7 L193,351.2 L193.7,351.6 L194.4,352 L195.1,352.4 L195.8,352.8 L196.5,353.2 L197.2,353.6 L197.9,353.9 L198.6,354.3 L199.3,354.7 L200,355 L200.7,355.3 L201.4,355.6 L202.1,355.9 L202.9,356.2 L203.6,356.5 L204.3,356.7 L205,357 L205.7,357.2 L206.4,357.4 L207.1,357.5 L207.8,357.7 L208.5,357.8 L209.2,358 L209.9,358" fill="none" stroke="#1f68b2" stroke-width="1.2" stroke-linejoin="round" stroke-linecap="round" /><path d="M27.4,364.2 L28.1,364.2 L28.8,364.2 L29.5,364.1 L30.2,364.1 L30.9,364 L31.6,363.9 L32.3,363.8 L33,363.7 L33.7,363.5 L34.4,363.3 L35.2,363.2 L35.9,362.9 L36.6,362.7 L37.3,362.5 L38,362.2 L38.7,361.9 L39.4,361.6 L40.1,361.3 L40.8,361 L41.5,360.6 L42.2,360.2 L42.9,359.8 L43.6,359.4 L44.3,358.9 L45,358.4 L45.7,357.9 L46.4,357.4 L47.1,356.8 L47.8,356.2 L48.5,355.6 L49.2,354.9 L49.9,354.2 L50.7,353.4 L51.4,352.6 L52.1,351.7 L52.8,350.8 L53.5,349.9 L54.2,348.9 L54.9,347.8 L55.6,346.6 L56.3,345.5 L57,344.2 L57.7,342.9 L58.4,341.5 L59.1,340 L59.8,338.5 L60.5,336.9 L61.2,335.2 L61.9,333.5 L62.6,331.6 L63.3,329.7 L64,327.7 L64.7,325.7 L65.5,323.5 L66.2,321.3 L66.9,319 L67.6,316.6 L68.3,314.1 L69,311.6 L69.7,308.9 L70.4,306.2 L71.1,303.4 L71.8,300.5 L72.5,297.5 L73.2,294.4 L73.9,291.2 L74.6,288 L75.3,284.8 L76,281.6 L76.7,278.4 L77.4,275.2 L78.1,272.2 L78.8,269.2 L79.5,266.2 L80.2,263.4 L81,260.6 L81.7,258 L82.4,255.5 L83.1,253 L83.8,250.8 L84.5,248.6 L85.2,246.6 L85.9,244.7 L86.6,243 L87.3,241.4 L88,240 L88.7,238.8 L89.4,237.7 L90.1,236.8 L90.8,236 L91.5,235.3 L92.2,234.7 L92.9,234.2 L93.6,233.7 L94.3,233.3 L95,232.9 L95.7,232.6 L96.5,232.5 L97.2,232.5 L97.9,232.6 L98.6,232.9 L99.3,233.3 L100,233.9 L100.7,234.5 L101.4,235.3 L102.1,236.1 L102.8,237 L103.5,238.1 L104.2,239.1 L104.9,240.3 L105.6,241.5 L106.3,242.8 L107,244.1 L107.7,245.5 L108.4,246.8 L109.1,248.2 L109.8,249.7 L110.5,251.1 L111.3,252.5 L112,254 L112.7,255.4 L113.4,256.8 L114.1,258.1 L114.8,259.4 L115.5,260.7 L116.2,261.9 L116.9,263.1 L117.6,264.2 L118.3,265.2 L119,266.1 L119.7,267 L120.4,267.8 L121.1,268.6 L121.8,269.3 L122.5,269.9 L123.2,270.5 L123.9,271.1 L124.6,271.6 L125.3,272.1 L126,272.5 L126.8,273 L127.5,273.4 L128.2,273.7 L128.9,274.1 L129.6,274.4 L130.3,274.7 L131,275 L131.7,275.3 L132.4,275.6 L133.1,276 L133.8,276.3 L134.5,276.6 L135.2,276.9 L135.9,277.3 L136.6,277.6 L137.3,278 L138,278.4 L138.7,278.9 L139.4,279.4 L140.1,279.9 L140.8,280.4 L141.6,281 L142.3,281.6 L143,282.3 L143.7,283 L144.4,283.8 L145.1,284.5 L145.8,285.4 L146.5,286.2 L147.2,287.1 L147.9,288 L148.6,289 L149.3,290 L150,291 L150.7,292.1 L151.4,293.2 L152.1,294.3 L152.8,295.5 L153.5,296.7 L154.2,298 L154.9,299.3 L155.6,300.7 L156.3,302.1 L157.1,303.7 L157.8,305.3 L158.5,307 L159.2,308.7 L159.9,310.6 L160.6,312.6 L161.3,314.7 L162,316.8 L162.7,319.1 L163.4,321.5 L164.1,324 L164.8,326.5 L165.5,329.1 L166.2,331.7 L166.9,334 L167.6,336.2 L168.3,338 L169,339.4 L169.7,340.5 L170.4,341.2 L171.1,341.7 L171.8,341.9 L172.6,341.9 L173.3,341.9 L174,341.7 L174.7,341.6 L175.4,341.5 L176.1,341.6 L176.8,341.7 L177.5,341.9 L178.2,342.2 L178.9,342.6 L179.6,342.9 L180.3,343.3 L181,343.7 L181.7,344.1 L182.4,344.5 L183.1,344.9 L183.8,345.3 L184.5,345.7 L185.2,346.2 L185.9,346.6 L186.6,347 L187.4,347.5 L188.1,347.9 L188.8,348.3 L189.5,348.8 L190.2,349.2 L190.9,349.6 L191.6,350.1 L192.3,350.5 L193,350.9 L193.7,351.3 L194.4,351.8 L195.1,352.2 L195.8,352.6 L196.5,353 L197.2,353.3 L197.9,353.7 L198.6,354.1 L199.3,354.4 L200,354.8 L200.7,355.1 L201.4,355.4 L202.1,355.7 L202.9,356 L203.6,356.3 L204.3,356.5 L205,356.8 L205.7,357 L206.4,357.2 L207.1,357.4 L207.8,357.5 L208.5,357.7 L209.2,357.8 L209.9,357.9" fill="none" stroke="#3378bb" stroke-width="1.2" stroke-linejoin="round" stroke-linecap="round" /><path d="M27.4,364.2 L28.1,364.2 L28.8,364.2 L29.5,364.1 L30.2,364.1 L30.9,364 L31.6,363.9 L32.3,363.8 L33,363.6 L33.7,363.5 L34.4,363.3 L35.2,363.1 L35.9,362.9 L36.6,362.7 L37.3,362.5 L38,362.2 L38.7,361.9 L39.4,361.6 L40.1,361.3 L40.8,361 L41.5,360.6 L42.2,360.2 L42.9,359.8 L43.6,359.4 L44.3,359 L45,358.5 L45.7,358 L46.4,357.5 L47.1,356.9 L47.8,356.3 L48.5,355.7 L49.2,355 L49.9,354.3 L50.7,353.5 L51.4,352.7 L52.1,351.9 L52.8,351 L53.5,350 L54.2,349 L54.9,347.9 L55.6,346.8 L56.3,345.6 L57,344.4 L57.7,343.1 L58.4,341.7 L59.1,340.3 L59.8,338.8 L60.5,337.2 L61.2,335.5 L61.9,333.8 L62.6,332 L63.3,330.1 L64,328.1 L64.7,326.1 L65.5,323.9 L66.2,321.7 L66.9,319.4 L67.6,317 L68.3,314.5 L69,312 L69.7,309.4 L70.4,306.7 L71.1,303.9 L71.8,301 L72.5,298 L73.2,294.9 L73.9,291.8 L74.6,288.6 L75.3,285.3 L76,282.1 L76.7,278.9 L77.4,275.8 L78.1,272.7 L78.8,269.7 L79.5,266.7 L80.2,263.9 L81,261.1 L81.7,258.5 L82.4,255.9 L83.1,253.5 L83.8,251.2 L84.5,249 L85.2,246.9 L85.9,245.1 L86.6,243.3 L87.3,241.7 L88,240.3 L88.7,239 L89.4,237.9 L90.1,237 L90.8,236.1 L91.5,235.4 L92.2,234.8 L92.9,234.2 L93.6,233.7 L94.3,233.3 L95,232.9 L95.7,232.7 L96.5,232.5 L97.2,232.5 L97.9,232.6 L98.6,232.9 L99.3,233.3 L100,233.8 L100.7,234.4 L101.4,235.1 L102.1,235.9 L102.8,236.8 L103.5,237.7 L104.2,238.8 L104.9,239.9 L105.6,241 L106.3,242.2 L107,243.5 L107.7,244.8 L108.4,246.1 L109.1,247.5 L109.8,248.9 L110.5,250.3 L111.3,251.7 L112,253.1 L112.7,254.5 L113.4,255.9 L114.1,257.2 L114.8,258.5 L115.5,259.8 L116.2,261 L116.9,262.2 L117.6,263.3 L118.3,264.3 L119,265.3 L119.7,266.2 L120.4,267 L121.1,267.8 L121.8,268.5 L122.5,269.2 L123.2,269.8 L123.9,270.4 L124.6,270.9 L125.3,271.4 L126,271.8 L126.8,272.2 L127.5,272.6 L128.2,273 L128.9,273.4 L129.6,273.7 L130.3,274 L131,274.3 L131.7,274.6 L132.4,274.9 L133.1,275.2 L133.8,275.5 L134.5,275.8 L135.2,276.2 L135.9,276.5 L136.6,276.9 L137.3,277.3 L138,277.7 L138.7,278.1 L139.4,278.6 L140.1,279.1 L140.8,279.6 L141.6,280.2 L142.3,280.9 L143,281.5 L143.7,282.2 L144.4,283 L145.1,283.7 L145.8,284.6 L146.5,285.4 L147.2,286.3 L147.9,287.3 L148.6,288.2 L149.3,289.2 L150,290.3 L150.7,291.3 L151.4,292.4 L152.1,293.6 L152.8,294.8 L153.5,296 L154.2,297.3 L154.9,298.7 L155.6,300.1 L156.3,301.6 L157.1,303.1 L157.8,304.8 L158.5,306.5 L159.2,308.3 L159.9,310.2 L160.6,312.2 L161.3,314.3 L162,316.5 L162.7,318.8 L163.4,321.2 L164.1,323.7 L164.8,326.3 L165.5,328.9 L166.2,331.4 L166.9,333.8 L167.6,335.9 L168.3,337.7 L169,339.1 L169.7,340.2 L170.4,340.9 L171.1,341.4 L171.8,341.6 L172.6,341.7 L173.3,341.6 L174,341.5 L174.7,341.4 L175.4,341.3 L176.1,341.4 L176.8,341.5 L177.5,341.8 L178.2,342 L178.9,342.4 L179.6,342.7 L180.3,343.1 L181,343.5 L181.7,343.9 L182.4,344.3 L183.1,344.7 L183.8,345.1 L184.5,345.5 L185.2,345.9 L185.9,346.3 L186.6,346.8 L187.4,347.2 L188.1,347.6 L188.8,348.1 L189.5,348.5 L190.2,348.9 L190.9,349.4 L191.6,349.8 L192.3,350.2 L193,350.7 L193.7,351.1 L194.4,351.5 L195.1,351.9 L195.8,352.3 L196.5,352.7 L197.2,353.1 L197.9,353.5 L198.6,353.9 L199.3,354.2 L200,354.6 L200.7,354.9 L201.4,355.2 L202.1,355.5 L202.9,355.8 L203.6,356.1 L204.3,356.4 L205,356.6 L205.7,356.8 L206.4,357 L207.1,357.2 L207.8,357.4 L208.5,357.5 L209.2,357.6 L209.9,357.7" fill="none" stroke="#4889c4" stroke-width="1.2" stroke-linejoin="round" stroke-linecap="round" /><path d="M27.4,364.3 L28.1,364.2 L28.8,364.2 L29.5,364.1 L30.2,364.1 L30.9,364 L31.6,363.9 L32.3,363.7 L33,363.6 L33.7,363.5 L34.4,363.3 L35.2,363.1 L35.9,362.9 L36.6,362.7 L37.3,362.5 L38,362.2 L38.7,361.9 L39.4,361.7 L40.1,361.3 L40.8,361 L41.5,360.7 L42.2,360.3 L42.9,359.9 L43.6,359.5 L44.3,359 L45,358.5 L45.7,358 L46.4,357.5 L47.1,357 L47.8,356.4 L48.5,355.7 L49.2,355.1 L49.9,354.4 L50.7,353.6 L51.4,352.8 L52.1,352 L52.8,351.1 L53.5,350.2 L54.2,349.2 L54.9,348.1 L55.6,347 L56.3,345.8 L57,344.6 L57.7,343.3 L58.4,341.9 L59.1,340.5 L59.8,339 L60.5,337.5 L61.2,335.8 L61.9,334.1 L62.6,332.3 L63.3,330.4 L64,328.5 L64.7,326.4 L65.5,324.3 L66.2,322.1 L66.9,319.8 L67.6,317.4 L68.3,314.9 L69,312.4 L69.7,309.8 L70.4,307.1 L71.1,304.4 L71.8,301.5 L72.5,298.5 L73.2,295.5 L73.9,292.3 L74.6,289.1 L75.3,285.9 L76,282.7 L76.7,279.5 L77.4,276.3 L78.1,273.2 L78.8,270.2 L79.5,267.2 L80.2,264.4 L81,261.6 L81.7,258.9 L82.4,256.4 L83.1,253.9 L83.8,251.6 L84.5,249.4 L85.2,247.3 L85.9,245.4 L86.6,243.6 L87.3,242 L88,240.6 L88.7,239.3 L89.4,238.2 L90.1,237.2 L90.8,236.3 L91.5,235.5 L92.2,234.9 L92.9,234.3 L93.6,233.8 L94.3,233.4 L95,233 L95.7,232.7 L96.5,232.5 L97.2,232.5 L97.9,232.6 L98.6,232.9 L99.3,233.2 L100,233.7 L100.7,234.3 L101.4,234.9 L102.1,235.7 L102.8,236.5 L103.5,237.4 L104.2,238.4 L104.9,239.4 L105.6,240.5 L106.3,241.7 L107,242.9 L107.7,244.1 L108.4,245.4 L109.1,246.7 L109.8,248.1 L110.5,249.4 L111.3,250.8 L112,252.2 L112.7,253.6 L113.4,255 L114.1,256.3 L114.8,257.6 L115.5,258.9 L116.2,260.2 L116.9,261.3 L117.6,262.5 L118.3,263.5 L119,264.5 L119.7,265.4 L120.4,266.3 L121.1,267 L121.8,267.8 L122.5,268.4 L123.2,269.1 L123.9,269.6 L124.6,270.2 L125.3,270.7 L126,271.1 L126.8,271.5 L127.5,271.9 L128.2,272.3 L128.9,272.6 L129.6,273 L130.3,273.3 L131,273.6 L131.7,273.9 L132.4,274.2 L133.1,274.5 L133.8,274.8 L134.5,275.1 L135.2,275.4 L135.9,275.7 L136.6,276.1 L137.3,276.5 L138,276.9 L138.7,277.3 L139.4,277.8 L140.1,278.3 L140.8,278.9 L141.6,279.4 L142.3,280.1 L143,280.7 L143.7,281.4 L144.4,282.2 L145.1,282.9 L145.8,283.8 L146.5,284.6 L147.2,285.5 L147.9,286.5 L148.6,287.4 L149.3,288.5 L150,289.5 L150.7,290.6 L151.4,291.7 L152.1,292.9 L152.8,294.1 L153.5,295.4 L154.2,296.7 L154.9,298.1 L155.6,299.5 L156.3,301 L157.1,302.6 L157.8,304.2 L158.5,306 L159.2,307.8 L159.9,309.7 L160.6,311.8 L161.3,313.9 L162,316.1 L162.7,318.5 L163.4,320.9 L164.1,323.4 L164.8,326 L165.5,328.6 L166.2,331.2 L166.9,333.6 L167.6,335.7 L168.3,337.4 L169,338.9 L169.7,339.9 L170.4,340.6 L171.1,341.1 L171.8,341.3 L172.6,341.4 L173.3,341.3 L174,341.3 L174.7,341.2 L175.4,341.1 L176.1,341.2 L176.8,341.3 L177.5,341.6 L178.2,341.9 L178.9,342.2 L179.6,342.5 L180.3,342.9 L181,343.3 L181.7,343.6 L182.4,344 L183.1,344.4 L183.8,344.8 L184.5,345.2 L185.2,345.6 L185.9,346.1 L186.6,346.5 L187.4,346.9 L188.1,347.4 L188.8,347.8 L189.5,348.2 L190.2,348.7 L190.9,349.1 L191.6,349.6 L192.3,350 L193,350.4 L193.7,350.8 L194.4,351.3 L195.1,351.7 L195.8,352.1 L196.5,352.5 L197.2,352.9 L197.9,353.3 L198.6,353.7 L199.3,354 L200,354.4 L200.7,354.7 L201.4,355 L202.1,355.3 L202.9,355.6 L203.6,355.9 L204.3,356.2 L205,356.4 L205.7,356.7 L206.4,356.9 L207.1,357.1 L207.8,357.2 L208.5,357.4 L209.2,357.5 L209.9,357.6" fill="none" stroke="#5f9acd" stroke-width="1.2" stroke-linejoin="round" stroke-linecap="round" /><path d="M27.4,364.3 L28.1,364.2 L28.8,364.2 L29.5,364.1 L30.2,364 L30.9,363.9 L31.6,363.8 L32.3,363.7 L33,363.6 L33.7,363.4 L34.4,363.3 L35.2,363.1 L35.9,362.9 L36.6,362.7 L37.3,362.5 L38,362.2 L38.7,362 L39.4,361.7 L40.1,361.4 L40.8,361 L41.5,360.7 L42.2,360.3 L42.9,359.9 L43.6,359.5 L44.3,359.1 L45,358.6 L45.7,358.1 L46.4,357.6 L47.1,357 L47.8,356.5 L48.5,355.8 L49.2,355.2 L49.9,354.5 L50.7,353.7 L51.4,352.9 L52.1,352.1 L52.8,351.2 L53.5,350.3 L54.2,349.3 L54.9,348.3 L55.6,347.2 L56.3,346 L57,344.8 L57.7,343.5 L58.4,342.2 L59.1,340.8 L59.8,339.3 L60.5,337.7 L61.2,336.1 L61.9,334.4 L62.6,332.6 L63.3,330.8 L64,328.8 L64.7,326.8 L65.5,324.7 L66.2,322.5 L66.9,320.2 L67.6,317.8 L68.3,315.3 L69,312.8 L69.7,310.3 L70.4,307.6 L71.1,304.9 L71.8,302 L72.5,299 L73.2,296 L73.9,292.9 L74.6,289.7 L75.3,286.4 L76,283.2 L76.7,280 L77.4,276.9 L78.1,273.8 L78.8,270.7 L79.5,267.7 L80.2,264.9 L81,262.1 L81.7,259.4 L82.4,256.8 L83.1,254.3 L83.8,252 L84.5,249.8 L85.2,247.7 L85.9,245.8 L86.6,244 L87.3,242.4 L88,240.9 L88.7,239.6 L89.4,238.4 L90.1,237.3 L90.8,236.4 L91.5,235.7 L92.2,235 L92.9,234.4 L93.6,233.9 L94.3,233.4 L95,233 L95.7,232.7 L96.5,232.6 L97.2,232.5 L97.9,232.6 L98.6,232.8 L99.3,233.2 L100,233.6 L100.7,234.1 L101.4,234.8 L102.1,235.5 L102.8,236.2 L103.5,237.1 L104.2,238 L104.9,239 L105.6,240 L106.3,241.1 L107,242.3 L107.7,243.5 L108.4,244.7 L109.1,246 L109.8,247.3 L110.5,248.6 L111.3,250 L112,251.3 L112.7,252.7 L113.4,254.1 L114.1,255.4 L114.8,256.7 L115.5,258 L116.2,259.3 L116.9,260.5 L117.6,261.6 L118.3,262.7 L119,263.7 L119.7,264.6 L120.4,265.5 L121.1,266.3 L121.8,267 L122.5,267.7 L123.2,268.3 L123.9,268.9 L124.6,269.5 L125.3,269.9 L126,270.4 L126.8,270.8 L127.5,271.2 L128.2,271.6 L128.9,271.9 L129.6,272.2 L130.3,272.5 L131,272.8 L131.7,273.1 L132.4,273.4 L133.1,273.7 L133.8,274 L134.5,274.3 L135.2,274.6 L135.9,275 L136.6,275.3 L137.3,275.7 L138,276.1 L138.7,276.6 L139.4,277 L140.1,277.5 L140.8,278.1 L141.6,278.6 L142.3,279.3 L143,279.9 L143.7,280.6 L144.4,281.4 L145.1,282.1 L145.8,283 L146.5,283.8 L147.2,284.7 L147.9,285.7 L148.6,286.7 L149.3,287.7 L150,288.8 L150.7,289.9 L151.4,291 L152.1,292.2 L152.8,293.4 L153.5,294.7 L154.2,296.1 L154.9,297.5 L155.6,298.9 L156.3,300.5 L157.1,302.1 L157.8,303.7 L158.5,305.5 L159.2,307.4 L159.9,309.3 L160.6,311.3 L161.3,313.5 L162,315.7 L162.7,318.1 L163.4,320.6 L164.1,323.1 L164.8,325.8 L165.5,328.4 L166.2,330.9 L166.9,333.3 L167.6,335.4 L168.3,337.2 L169,338.6 L169.7,339.6 L170.4,340.4 L171.1,340.8 L171.8,341 L172.6,341.1 L173.3,341.1 L174,341 L174.7,340.9 L175.4,340.9 L176.1,341 L176.8,341.2 L177.5,341.4 L178.2,341.7 L178.9,342 L179.6,342.3 L180.3,342.7 L181,343 L181.7,343.4 L182.4,343.8 L183.1,344.2 L183.8,344.6 L184.5,345 L185.2,345.4 L185.9,345.8 L186.6,346.2 L187.4,346.7 L188.1,347.1 L188.8,347.5 L189.5,348 L190.2,348.4 L190.9,348.9 L191.6,349.3 L192.3,349.7 L193,350.2 L193.7,350.6 L194.4,351 L195.1,351.4 L195.8,351.9 L196.5,352.3 L197.2,352.7 L197.9,353.1 L198.6,353.4 L199.3,353.8 L200,354.2 L200.7,354.5 L201.4,354.8 L202.1,355.2 L202.9,355.5 L203.6,355.7 L204.3,356 L205,356.3 L205.7,356.5 L206.4,356.7 L207.1,356.9 L207.8,357.1 L208.5,357.2 L209.2,357.3 L209.9,357.4" fill="none" stroke="#7fb0d7" stroke-width="1.2" stroke-linejoin="round" stroke-linecap="round" /><path d="M27.4,364.3 L28.1,364.2 L28.8,364.2 L29.5,364.1 L30.2,364 L30.9,363.9 L31.6,363.8 L32.3,363.7 L33,363.6 L33.7,363.4 L34.4,363.3 L35.2,363.1 L35.9,362.9 L36.6,362.7 L37.3,362.5 L38,362.2 L38.7,362 L39.4,361.7 L40.1,361.4 L40.8,361.1 L41.5,360.7 L42.2,360.4 L42.9,360 L43.6,359.6 L44.3,359.1 L45,358.7 L45.7,358.2 L46.4,357.7 L47.1,357.1 L47.8,356.5 L48.5,355.9 L49.2,355.3 L49.9,354.6 L50.7,353.8 L51.4,353.1 L52.1,352.2 L52.8,351.4 L53.5,350.4 L54.2,349.5 L54.9,348.4 L55.6,347.3 L56.3,346.2 L57,345 L57.7,343.7 L58.4,342.4 L59.1,341 L59.8,339.6 L60.5,338 L61.2,336.4 L61.9,334.7 L62.6,333 L63.3,331.1 L64,329.2 L64.7,327.2 L65.5,325 L66.2,322.8 L66.9,320.5 L67.6,318.2 L68.3,315.8 L69,313.3 L69.7,310.7 L70.4,308.1 L71.1,305.3 L71.8,302.5 L72.5,299.6 L73.2,296.5 L73.9,293.4 L74.6,290.2 L75.3,287 L76,283.8 L76.7,280.6 L77.4,277.4 L78.1,274.3 L78.8,271.2 L79.5,268.2 L80.2,265.3 L81,262.5 L81.7,259.8 L82.4,257.2 L83.1,254.8 L83.8,252.4 L84.5,250.2 L85.2,248.1 L85.9,246.1 L86.6,244.3 L87.3,242.7 L88,241.2 L88.7,239.8 L89.4,238.6 L90.1,237.5 L90.8,236.6 L91.5,235.8 L92.2,235.1 L92.9,234.4 L93.6,233.9 L94.3,233.4 L95,233.1 L95.7,232.8 L96.5,232.6 L97.2,232.5 L97.9,232.6 L98.6,232.8 L99.3,233.1 L100,233.5 L100.7,234 L101.4,234.6 L102.1,235.2 L102.8,236 L103.5,236.8 L104.2,237.6 L104.9,238.6 L105.6,239.6 L106.3,240.6 L107,241.7 L107.7,242.8 L108.4,244 L109.1,245.3 L109.8,246.5 L110.5,247.8 L111.3,249.1 L112,250.5 L112.7,251.8 L113.4,253.2 L114.1,254.5 L114.8,255.8 L115.5,257.1 L116.2,258.4 L116.9,259.6 L117.6,260.7 L118.3,261.8 L119,262.9 L119.7,263.8 L120.4,264.7 L121.1,265.5 L121.8,266.3 L122.5,267 L123.2,267.6 L123.9,268.2 L124.6,268.7 L125.3,269.2 L126,269.7 L126.8,270.1 L127.5,270.5 L128.2,270.8 L128.9,271.2 L129.6,271.5 L130.3,271.8 L131,272.1 L131.7,272.4 L132.4,272.7 L133.1,273 L133.8,273.3 L134.5,273.6 L135.2,273.9 L135.9,274.2 L136.6,274.6 L137.3,275 L138,275.4 L138.7,275.8 L139.4,276.2 L140.1,276.7 L140.8,277.3 L141.6,277.9 L142.3,278.5 L143,279.1 L143.7,279.8 L144.4,280.6 L145.1,281.4 L145.8,282.2 L146.5,283 L147.2,284 L147.9,284.9 L148.6,285.9 L149.3,286.9 L150,288 L150.7,289.1 L151.4,290.3 L152.1,291.5 L152.8,292.8 L153.5,294.1 L154.2,295.4 L154.9,296.9 L155.6,298.3 L156.3,299.9 L157.1,301.5 L157.8,303.2 L158.5,305 L159.2,306.9 L159.9,308.9 L160.6,310.9 L161.3,313.1 L162,315.4 L162.7,317.8 L163.4,320.3 L164.1,322.9 L164.8,325.5 L165.5,328.1 L166.2,330.7 L166.9,333.1 L167.6,335.2 L168.3,336.9 L169,338.3 L169.7,339.4 L170.4,340.1 L171.1,340.5 L171.8,340.7 L172.6,340.8 L173.3,340.8 L174,340.8 L174.7,340.7 L175.4,340.7 L176.1,340.8 L176.8,341 L177.5,341.2 L178.2,341.5 L178.9,341.8 L179.6,342.1 L180.3,342.4 L181,342.8 L181.7,343.2 L182.4,343.5 L183.1,343.9 L183.8,344.3 L184.5,344.7 L185.2,345.1 L185.9,345.6 L186.6,346 L187.4,346.4 L188.1,346.8 L188.8,347.3 L189.5,347.7 L190.2,348.2 L190.9,348.6 L191.6,349 L192.3,349.5 L193,349.9 L193.7,350.3 L194.4,350.8 L195.1,351.2 L195.8,351.6 L196.5,352 L197.2,352.4 L197.9,352.8 L198.6,353.2 L199.3,353.6 L200,354 L200.7,354.3 L201.4,354.6 L202.1,355 L202.9,355.3 L203.6,355.6 L204.3,355.8 L205,356.1 L205.7,356.3 L206.4,356.5 L207.1,356.7 L207.8,356.9 L208.5,357.1 L209.2,357.2 L209.9,357.3" fill="none" stroke="#a0c5e2" stroke-width="1.2" stroke-linejoin="round" stroke-linecap="round" /><path d="M27.4,364.3 L28.1,364.2 L28.8,364.2 L29.5,364.1 L30.2,364 L30.9,363.9 L31.6,363.8 L32.3,363.7 L33,363.6 L33.7,363.4 L34.4,363.3 L35.2,363.1 L35.9,362.9 L36.6,362.7 L37.3,362.5 L38,362.2 L38.7,362 L39.4,361.7 L40.1,361.4 L40.8,361.1 L41.5,360.8 L42.2,360.4 L42.9,360 L43.6,359.6 L44.3,359.2 L45,358.7 L45.7,358.2 L46.4,357.7 L47.1,357.2 L47.8,356.6 L48.5,356 L49.2,355.4 L49.9,354.7 L50.7,353.9 L51.4,353.2 L52.1,352.4 L52.8,351.5 L53.5,350.6 L54.2,349.6 L54.9,348.6 L55.6,347.5 L56.3,346.4 L57,345.2 L57.7,344 L58.4,342.7 L59.1,341.3 L59.8,339.8 L60.5,338.3 L61.2,336.7 L61.9,335.1 L62.6,333.3 L63.3,331.5 L64,329.6 L64.7,327.5 L65.5,325.4 L66.2,323.2 L66.9,320.9 L67.6,318.6 L68.3,316.2 L69,313.7 L69.7,311.2 L70.4,308.5 L71.1,305.8 L71.8,303 L72.5,300.1 L73.2,297.1 L73.9,293.9 L74.6,290.8 L75.3,287.6 L76,284.3 L76.7,281.1 L77.4,278 L78.1,274.8 L78.8,271.8 L79.5,268.7 L80.2,265.8 L81,263 L81.7,260.3 L82.4,257.7 L83.1,255.2 L83.8,252.8 L84.5,250.6 L85.2,248.5 L85.9,246.5 L86.6,244.7 L87.3,243 L88,241.5 L88.7,240.1 L89.4,238.8 L90.1,237.7 L90.8,236.8 L91.5,235.9 L92.2,235.2 L92.9,234.5 L93.6,234 L94.3,233.5 L95,233.1 L95.7,232.8 L96.5,232.6 L97.2,232.6 L97.9,232.6 L98.6,232.8 L99.3,233.1 L100,233.4 L100.7,233.9 L101.4,234.4 L102.1,235 L102.8,235.7 L103.5,236.5 L104.2,237.3 L104.9,238.1 L105.6,239.1 L106.3,240.1 L107,241.1 L107.7,242.2 L108.4,243.3 L109.1,244.5 L109.8,245.7 L110.5,247 L111.3,248.3 L112,249.6 L112.7,250.9 L113.4,252.3 L114.1,253.6 L114.8,254.9 L115.5,256.2 L116.2,257.5 L116.9,258.7 L117.6,259.9 L118.3,261 L119,262 L119.7,263 L120.4,263.9 L121.1,264.8 L121.8,265.5 L122.5,266.2 L123.2,266.9 L123.9,267.5 L124.6,268 L125.3,268.5 L126,269 L126.8,269.4 L127.5,269.8 L128.2,270.1 L128.9,270.5 L129.6,270.8 L130.3,271.1 L131,271.4 L131.7,271.7 L132.4,271.9 L133.1,272.2 L133.8,272.5 L134.5,272.8 L135.2,273.1 L135.9,273.5 L136.6,273.8 L137.3,274.2 L138,274.6 L138.7,275 L139.4,275.5 L140.1,276 L140.8,276.5 L141.6,277.1 L142.3,277.7 L143,278.3 L143.7,279 L144.4,279.8 L145.1,280.6 L145.8,281.4 L146.5,282.3 L147.2,283.2 L147.9,284.1 L148.6,285.1 L149.3,286.2 L150,287.3 L150.7,288.4 L151.4,289.6 L152.1,290.8 L152.8,292.1 L153.5,293.4 L154.2,294.8 L154.9,296.2 L155.6,297.8 L156.3,299.3 L157.1,301 L157.8,302.7 L158.5,304.5 L159.2,306.4 L159.9,308.4 L160.6,310.5 L161.3,312.7 L162,315 L162.7,317.4 L163.4,320 L164.1,322.6 L164.8,325.2 L165.5,327.9 L166.2,330.4 L166.9,332.8 L167.6,334.9 L168.3,336.7 L169,338 L169.7,339.1 L170.4,339.8 L171.1,340.2 L171.8,340.4 L172.6,340.5 L173.3,340.5 L174,340.5 L174.7,340.5 L175.4,340.5 L176.1,340.6 L176.8,340.8 L177.5,341 L178.2,341.3 L178.9,341.6 L179.6,341.9 L180.3,342.2 L181,342.6 L181.7,342.9 L182.4,343.3 L183.1,343.7 L183.8,344.1 L184.5,344.5 L185.2,344.9 L185.9,345.3 L186.6,345.7 L187.4,346.1 L188.1,346.6 L188.8,347 L189.5,347.5 L190.2,347.9 L190.9,348.3 L191.6,348.8 L192.3,349.2 L193,349.7 L193.7,350.1 L194.4,350.5 L195.1,351 L195.8,351.4 L196.5,351.8 L197.2,352.2 L197.9,352.6 L198.6,353 L199.3,353.4 L200,353.7 L200.7,354.1 L201.4,354.4 L202.1,354.8 L202.9,355.1 L203.6,355.4 L204.3,355.6 L205,355.9 L205.7,356.2 L206.4,356.4 L207.1,356.6 L207.8,356.7 L208.5,356.9 L209.2,357 L209.9,357.1" fill="none" stroke="#c5dbec" stroke-width="1.2" stroke-linejoin="round" stroke-linecap="round" /><path d="M27.4,364.3 L28.1,364.2 L28.8,364.2 L29.5,364.1 L30.2,364 L30.9,363.9 L31.6,363.8 L32.3,363.7 L33,363.5 L33.7,363.4 L34.4,363.2 L35.2,363.1 L35.9,362.9 L36.6,362.7 L37.3,362.5 L38,362.2 L38.7,362 L39.4,361.7 L40.1,361.4 L40.8,361.1 L41.5,360.8 L42.2,360.4 L42.9,360.1 L43.6,359.7 L44.3,359.2 L45,358.8 L45.7,358.3 L46.4,357.8 L47.1,357.3 L47.8,356.7 L48.5,356.1 L49.2,355.5 L49.9,354.8 L50.7,354 L51.4,353.3 L52.1,352.5 L52.8,351.6 L53.5,350.7 L54.2,349.8 L54.9,348.8 L55.6,347.7 L56.3,346.6 L57,345.4 L57.7,344.2 L58.4,342.9 L59.1,341.5 L59.8,340.1 L60.5,338.6 L61.2,337 L61.9,335.4 L62.6,333.7 L63.3,331.8 L64,329.9 L64.7,327.9 L65.5,325.8 L66.2,323.6 L66.9,321.3 L67.6,319 L68.3,316.6 L69,314.1 L69.7,311.6 L70.4,309 L71.1,306.3 L71.8,303.5 L72.5,300.6 L73.2,297.6 L73.9,294.5 L74.6,291.3 L75.3,288.1 L76,284.9 L76.7,281.7 L77.4,278.5 L78.1,275.4 L78.8,272.3 L79.5,269.3 L80.2,266.3 L81,263.5 L81.7,260.7 L82.4,258.1 L83.1,255.6 L83.8,253.2 L84.5,251 L85.2,248.9 L85.9,246.9 L86.6,245 L87.3,243.3 L88,241.7 L88.7,240.3 L89.4,239.1 L90.1,237.9 L90.8,236.9 L91.5,236 L92.2,235.3 L92.9,234.6 L93.6,234 L94.3,233.5 L95,233.1 L95.7,232.8 L96.5,232.6 L97.2,232.6 L97.9,232.6 L98.6,232.8 L99.3,233 L100,233.3 L100.7,233.8 L101.4,234.3 L102.1,234.8 L102.8,235.4 L103.5,236.1 L104.2,236.9 L104.9,237.7 L105.6,238.6 L106.3,239.5 L107,240.5 L107.7,241.5 L108.4,242.6 L109.1,243.8 L109.8,244.9 L110.5,246.2 L111.3,247.4 L112,248.7 L112.7,250.1 L113.4,251.4 L114.1,252.7 L114.8,254.1 L115.5,255.4 L116.2,256.6 L116.9,257.9 L117.6,259 L118.3,260.2 L119,261.2 L119.7,262.2 L120.4,263.1 L121.1,264 L121.8,264.8 L122.5,265.5 L123.2,266.1 L123.9,266.7 L124.6,267.3 L125.3,267.8 L126,268.2 L126.8,268.7 L127.5,269.1 L128.2,269.4 L128.9,269.7 L129.6,270.1 L130.3,270.4 L131,270.6 L131.7,270.9 L132.4,271.2 L133.1,271.5 L133.8,271.8 L134.5,272.1 L135.2,272.4 L135.9,272.7 L136.6,273 L137.3,273.4 L138,273.8 L138.7,274.2 L139.4,274.7 L140.1,275.2 L140.8,275.7 L141.6,276.3 L142.3,276.9 L143,277.5 L143.7,278.2 L144.4,279 L145.1,279.8 L145.8,280.6 L146.5,281.5 L147.2,282.4 L147.9,283.3 L148.6,284.4 L149.3,285.4 L150,286.5 L150.7,287.7 L151.4,288.9 L152.1,290.1 L152.8,291.4 L153.5,292.8 L154.2,294.2 L154.9,295.6 L155.6,297.2 L156.3,298.8 L157.1,300.4 L157.8,302.2 L158.5,304 L159.2,306 L159.9,308 L160.6,310.1 L161.3,312.3 L162,314.7 L162.7,317.1 L163.4,319.6 L164.1,322.3 L164.8,325 L165.5,327.6 L166.2,330.2 L166.9,332.6 L167.6,334.7 L168.3,336.4 L169,337.8 L169.7,338.8 L170.4,339.5 L171.1,339.9 L171.8,340.2 L172.6,340.3 L173.3,340.3 L174,340.3 L174.7,340.3 L175.4,340.3 L176.1,340.4 L176.8,340.6 L177.5,340.8 L178.2,341.1 L178.9,341.4 L179.6,341.7 L180.3,342 L181,342.3 L181.7,342.7 L182.4,343.1 L183.1,343.4 L183.8,343.8 L184.5,344.2 L185.2,344.6 L185.9,345 L186.6,345.5 L187.4,345.9 L188.1,346.3 L188.8,346.8 L189.5,347.2 L190.2,347.6 L190.9,348.1 L191.6,348.5 L192.3,349 L193,349.4 L193.7,349.9 L194.4,350.3 L195.1,350.7 L195.8,351.1 L196.5,351.6 L197.2,352 L197.9,352.4 L198.6,352.8 L199.3,353.2 L200,353.5 L200.7,353.9 L201.4,354.2 L202.1,354.6 L202.9,354.9 L203.6,355.2 L204.3,355.5 L205,355.7 L205.7,356 L206.4,356.2 L207.1,356.4 L207.8,356.6 L208.5,356.7 L209.2,356.9 L209.9,357" fill="none" stroke="#f0ebec" stroke-width="1.2" stroke-linejoin="round" stroke-linecap="round" /><path d="M27.4,364.3 L28.1,364.2 L28.8,364.2 L29.5,364.1 L30.2,364 L30.9,363.9 L31.6,363.8 L32.3,363.6 L33,363.5 L33.7,363.4 L34.4,363.2 L35.2,363 L35.9,362.9 L36.6,362.7 L37.3,362.5 L38,362.2 L38.7,362 L39.4,361.7 L40.1,361.4 L40.8,361.1 L41.5,360.8 L42.2,360.5 L42.9,360.1 L43.6,359.7 L44.3,359.3 L45,358.9 L45.7,358.4 L46.4,357.9 L47.1,357.4 L47.8,356.8 L48.5,356.2 L49.2,355.5 L49.9,354.9 L50.7,354.2 L51.4,353.4 L52.1,352.6 L52.8,351.7 L53.5,350.9 L54.2,349.9 L54.9,348.9 L55.6,347.9 L56.3,346.8 L57,345.6 L57.7,344.4 L58.4,343.1 L59.1,341.8 L59.8,340.4 L60.5,338.9 L61.2,337.3 L61.9,335.7 L62.6,334 L63.3,332.2 L64,330.3 L64.7,328.3 L65.5,326.2 L66.2,324 L66.9,321.7 L67.6,319.4 L68.3,317 L69,314.5 L69.7,312.1 L70.4,309.5 L71.1,306.8 L71.8,304 L72.5,301.1 L73.2,298.1 L73.9,295 L74.6,291.9 L75.3,288.7 L76,285.5 L76.7,282.2 L77.4,279.1 L78.1,275.9 L78.8,272.8 L79.5,269.8 L80.2,266.8 L81,263.9 L81.7,261.2 L82.4,258.6 L83.1,256 L83.8,253.6 L84.5,251.4 L85.2,249.2 L85.9,247.2 L86.6,245.4 L87.3,243.6 L88,242 L88.7,240.6 L89.4,239.3 L90.1,238.1 L90.8,237.1 L91.5,236.1 L92.2,235.3 L92.9,234.7 L93.6,234.1 L94.3,233.6 L95,233.2 L95.7,232.9 L96.5,232.7 L97.2,232.6 L97.9,232.6 L98.6,232.7 L99.3,233 L100,233.3 L100.7,233.6 L101.4,234.1 L102.1,234.6 L102.8,235.2 L103.5,235.8 L104.2,236.5 L104.9,237.3 L105.6,238.1 L106.3,239 L107,239.9 L107.7,240.9 L108.4,241.9 L109.1,243 L109.8,244.2 L110.5,245.3 L111.3,246.6 L112,247.9 L112.7,249.2 L113.4,250.5 L114.1,251.8 L114.8,253.2 L115.5,254.5 L116.2,255.7 L116.9,257 L117.6,258.2 L118.3,259.3 L119,260.4 L119.7,261.4 L120.4,262.4 L121.1,263.2 L121.8,264 L122.5,264.7 L123.2,265.4 L123.9,266 L124.6,266.6 L125.3,267.1 L126,267.5 L126.8,267.9 L127.5,268.3 L128.2,268.7 L128.9,269 L129.6,269.3 L130.3,269.6 L131,269.9 L131.7,270.2 L132.4,270.5 L133.1,270.7 L133.8,271 L134.5,271.3 L135.2,271.6 L135.9,271.9 L136.6,272.3 L137.3,272.6 L138,273 L138.7,273.5 L139.4,273.9 L140.1,274.4 L140.8,274.9 L141.6,275.5 L142.3,276.1 L143,276.7 L143.7,277.4 L144.4,278.2 L145.1,279 L145.8,279.8 L146.5,280.7 L147.2,281.6 L147.9,282.6 L148.6,283.6 L149.3,284.7 L150,285.8 L150.7,286.9 L151.4,288.2 L152.1,289.4 L152.8,290.7 L153.5,292.1 L154.2,293.5 L154.9,295 L155.6,296.6 L156.3,298.2 L157.1,299.9 L157.8,301.7 L158.5,303.5 L159.2,305.5 L159.9,307.5 L160.6,309.7 L161.3,311.9 L162,314.3 L162.7,316.8 L163.4,319.3 L164.1,322 L164.8,324.7 L165.5,327.4 L166.2,330 L166.9,332.3 L167.6,334.4 L168.3,336.2 L169,337.5 L169.7,338.5 L170.4,339.2 L171.1,339.6 L171.8,339.9 L172.6,340 L173.3,340 L174,340 L174.7,340.1 L175.4,340.1 L176.1,340.2 L176.8,340.4 L177.5,340.6 L178.2,340.9 L178.9,341.2 L179.6,341.5 L180.3,341.8 L181,342.1 L181.7,342.5 L182.4,342.8 L183.1,343.2 L183.8,343.6 L184.5,344 L185.2,344.4 L185.9,344.8 L186.6,345.2 L187.4,345.6 L188.1,346.1 L188.8,346.5 L189.5,346.9 L190.2,347.4 L190.9,347.8 L191.6,348.3 L192.3,348.7 L193,349.2 L193.7,349.6 L194.4,350 L195.1,350.5 L195.8,350.9 L196.5,351.3 L197.2,351.8 L197.9,352.2 L198.6,352.6 L199.3,352.9 L200,353.3 L200.7,353.7 L201.4,354 L202.1,354.4 L202.9,354.7 L203.6,355 L204.3,355.3 L205,355.6 L205.7,355.8 L206.4,356 L207.1,356.2 L207.8,356.4 L208.5,356.6 L209.2,356.7 L209.9,356.8" fill="none" stroke="#fcd7c8" stroke-width="1.2" stroke-linejoin="round" stroke-linecap="round" /><path d="M27.4,364.3 L28.1,364.2 L28.8,364.2 L29.5,364.1 L30.2,364 L30.9,363.9 L31.6,363.7 L32.3,363.6 L33,363.5 L33.7,363.4 L34.4,363.2 L35.2,363 L35.9,362.9 L36.6,362.7 L37.3,362.5 L38,362.2 L38.7,362 L39.4,361.7 L40.1,361.5 L40.8,361.2 L41.5,360.8 L42.2,360.5 L42.9,360.1 L43.6,359.8 L44.3,359.4 L45,358.9 L45.7,358.4 L46.4,358 L47.1,357.4 L47.8,356.9 L48.5,356.3 L49.2,355.6 L49.9,355 L50.7,354.3 L51.4,353.5 L52.1,352.7 L52.8,351.9 L53.5,351 L54.2,350.1 L54.9,349.1 L55.6,348 L56.3,347 L57,345.8 L57.7,344.6 L58.4,343.4 L59.1,342 L59.8,340.7 L60.5,339.2 L61.2,337.7 L61.9,336 L62.6,334.3 L63.3,332.5 L64,330.6 L64.7,328.7 L65.5,326.6 L66.2,324.4 L66.9,322.1 L67.6,319.8 L68.3,317.4 L69,315 L69.7,312.5 L70.4,310 L71.1,307.3 L71.8,304.6 L72.5,301.7 L73.2,298.7 L73.9,295.6 L74.6,292.4 L75.3,289.2 L76,286 L76.7,282.8 L77.4,279.6 L78.1,276.4 L78.8,273.3 L79.5,270.3 L80.2,267.3 L81,264.4 L81.7,261.7 L82.4,259 L83.1,256.5 L83.8,254.1 L84.5,251.8 L85.2,249.6 L85.9,247.6 L86.6,245.7 L87.3,243.9 L88,242.3 L88.7,240.8 L89.4,239.5 L90.1,238.3 L90.8,237.2 L91.5,236.3 L92.2,235.4 L92.9,234.7 L93.6,234.1 L94.3,233.6 L95,233.2 L95.7,232.9 L96.5,232.7 L97.2,232.6 L97.9,232.6 L98.6,232.7 L99.3,232.9 L100,233.2 L100.7,233.5 L101.4,233.9 L102.1,234.4 L102.8,234.9 L103.5,235.5 L104.2,236.1 L104.9,236.8 L105.6,237.6 L106.3,238.4 L107,239.3 L107.7,240.2 L108.4,241.2 L109.1,242.3 L109.8,243.4 L110.5,244.5 L111.3,245.7 L112,247 L112.7,248.3 L113.4,249.6 L114.1,250.9 L114.8,252.3 L115.5,253.6 L116.2,254.9 L116.9,256.1 L117.6,257.3 L118.3,258.5 L119,259.6 L119.7,260.6 L120.4,261.6 L121.1,262.5 L121.8,263.3 L122.5,264 L123.2,264.7 L123.9,265.3 L124.6,265.8 L125.3,266.3 L126,266.8 L126.8,267.2 L127.5,267.6 L128.2,268 L128.9,268.3 L129.6,268.6 L130.3,268.9 L131,269.2 L131.7,269.5 L132.4,269.7 L133.1,270 L133.8,270.3 L134.5,270.6 L135.2,270.9 L135.9,271.2 L136.6,271.5 L137.3,271.9 L138,272.3 L138.7,272.7 L139.4,273.1 L140.1,273.6 L140.8,274.1 L141.6,274.7 L142.3,275.3 L143,275.9 L143.7,276.6 L144.4,277.4 L145.1,278.2 L145.8,279 L146.5,279.9 L147.2,280.8 L147.9,281.8 L148.6,282.8 L149.3,283.9 L150,285 L150.7,286.2 L151.4,287.4 L152.1,288.7 L152.8,290.1 L153.5,291.5 L154.2,292.9 L154.9,294.4 L155.6,296 L156.3,297.6 L157.1,299.4 L157.8,301.2 L158.5,303.1 L159.2,305 L159.9,307.1 L160.6,309.3 L161.3,311.5 L162,313.9 L162.7,316.4 L163.4,319 L164.1,321.7 L164.8,324.4 L165.5,327.1 L166.2,329.7 L166.9,332.1 L167.6,334.2 L168.3,335.9 L169,337.2 L169.7,338.2 L170.4,338.9 L171.1,339.3 L171.8,339.6 L172.6,339.7 L173.3,339.7 L174,339.8 L174.7,339.8 L175.4,339.9 L176.1,340 L176.8,340.2 L177.5,340.4 L178.2,340.7 L178.9,341 L179.6,341.3 L180.3,341.6 L181,341.9 L181.7,342.2 L182.4,342.6 L183.1,343 L183.8,343.3 L184.5,343.7 L185.2,344.1 L185.9,344.5 L186.6,344.9 L187.4,345.4 L188.1,345.8 L188.8,346.2 L189.5,346.7 L190.2,347.1 L190.9,347.6 L191.6,348 L192.3,348.5 L193,348.9 L193.7,349.4 L194.4,349.8 L195.1,350.2 L195.8,350.7 L196.5,351.1 L197.2,351.5 L197.9,351.9 L198.6,352.3 L199.3,352.7 L200,353.1 L200.7,353.5 L201.4,353.8 L202.1,354.2 L202.9,354.5 L203.6,354.8 L204.3,355.1 L205,355.4 L205.7,355.6 L206.4,355.9 L207.1,356.1 L207.8,356.3 L208.5,356.4 L209.2,356.6 L209.9,356.7" fill="none" stroke="#fabaa3" stroke-width="1.2" stroke-linejoin="round" stroke-linecap="round" /><path d="M27.4,364.3 L28.1,364.3 L28.8,364.2 L29.5,364.1 L30.2,363.9 L30.9,363.8 L31.6,363.7 L32.3,363.6 L33,363.5 L33.7,363.3 L34.4,363.2 L35.2,363 L35.9,362.8 L36.6,362.7 L37.3,362.5 L38,362.2 L38.7,362 L39.4,361.8 L40.1,361.5 L40.8,361.2 L41.5,360.9 L42.2,360.5 L42.9,360.2 L43.6,359.8 L44.3,359.4 L45,359 L45.7,358.5 L46.4,358 L47.1,357.5 L47.8,356.9 L48.5,356.4 L49.2,355.7 L49.9,355.1 L50.7,354.4 L51.4,353.6 L52.1,352.8 L52.8,352 L53.5,351.1 L54.2,350.2 L54.9,349.2 L55.6,348.2 L56.3,347.1 L57,346 L57.7,344.8 L58.4,343.6 L59.1,342.3 L59.8,340.9 L60.5,339.5 L61.2,338 L61.9,336.4 L62.6,334.7 L63.3,332.9 L64,331 L64.7,329 L65.5,326.9 L66.2,324.8 L66.9,322.5 L67.6,320.2 L68.3,317.8 L69,315.4 L69.7,312.9 L70.4,310.4 L71.1,307.8 L71.8,305.1 L72.5,302.2 L73.2,299.2 L73.9,296.1 L74.6,293 L75.3,289.8 L76,286.6 L76.7,283.4 L77.4,280.1 L78.1,277 L78.8,273.8 L79.5,270.8 L80.2,267.8 L81,264.9 L81.7,262.1 L82.4,259.4 L83.1,256.9 L83.8,254.5 L84.5,252.2 L85.2,250 L85.9,248 L86.6,246 L87.3,244.3 L88,242.6 L88.7,241.1 L89.4,239.7 L90.1,238.5 L90.8,237.4 L91.5,236.4 L92.2,235.5 L92.9,234.8 L93.6,234.2 L94.3,233.7 L95,233.2 L95.7,232.9 L96.5,232.7 L97.2,232.6 L97.9,232.6 L98.6,232.7 L99.3,232.8 L100,233.1 L100.7,233.4 L101.4,233.7 L102.1,234.2 L102.8,234.6 L103.5,235.2 L104.2,235.8 L104.9,236.4 L105.6,237.1 L106.3,237.9 L107,238.7 L107.7,239.6 L108.4,240.5 L109.1,241.5 L109.8,242.6 L110.5,243.7 L111.3,244.9 L112,246.1 L112.7,247.4 L113.4,248.7 L114.1,250 L114.8,251.4 L115.5,252.7 L116.2,254 L116.9,255.3 L117.6,256.5 L118.3,257.7 L119,258.8 L119.7,259.8 L120.4,260.8 L121.1,261.7 L121.8,262.5 L122.5,263.3 L123.2,263.9 L123.9,264.6 L124.6,265.1 L125.3,265.6 L126,266.1 L126.8,266.5 L127.5,266.9 L128.2,267.3 L128.9,267.6 L129.6,267.9 L130.3,268.2 L131,268.5 L131.7,268.7 L132.4,269 L133.1,269.3 L133.8,269.5 L134.5,269.8 L135.2,270.1 L135.9,270.4 L136.6,270.8 L137.3,271.1 L138,271.5 L138.7,271.9 L139.4,272.3 L140.1,272.8 L140.8,273.3 L141.6,273.9 L142.3,274.5 L143,275.1 L143.7,275.8 L144.4,276.6 L145.1,277.4 L145.8,278.2 L146.5,279.1 L147.2,280 L147.9,281 L148.6,282 L149.3,283.1 L150,284.3 L150.7,285.5 L151.4,286.7 L152.1,288 L152.8,289.4 L153.5,290.8 L154.2,292.3 L154.9,293.8 L155.6,295.4 L156.3,297.1 L157.1,298.8 L157.8,300.7 L158.5,302.6 L159.2,304.6 L159.9,306.7 L160.6,308.9 L161.3,311.2 L162,313.6 L162.7,316.1 L163.4,318.7 L164.1,321.4 L164.8,324.2 L165.5,326.9 L166.2,329.5 L166.9,331.9 L167.6,333.9 L168.3,335.6 L169,337 L169.7,337.9 L170.4,338.6 L171.1,339 L171.8,339.3 L172.6,339.4 L173.3,339.5 L174,339.5 L174.7,339.6 L175.4,339.7 L176.1,339.8 L176.8,340 L177.5,340.2 L178.2,340.5 L178.9,340.8 L179.6,341.1 L180.3,341.4 L181,341.7 L181.7,342 L182.4,342.4 L183.1,342.7 L183.8,343.1 L184.5,343.5 L185.2,343.9 L185.9,344.3 L186.6,344.7 L187.4,345.1 L188.1,345.5 L188.8,346 L189.5,346.4 L190.2,346.9 L190.9,347.3 L191.6,347.8 L192.3,348.2 L193,348.7 L193.7,349.1 L194.4,349.6 L195.1,350 L195.8,350.4 L196.5,350.9 L197.2,351.3 L197.9,351.7 L198.6,352.1 L199.3,352.5 L200,352.9 L200.7,353.3 L201.4,353.6 L202.1,354 L202.9,354.3 L203.6,354.6 L204.3,354.9 L205,355.2 L205.7,355.5 L206.4,355.7 L207.1,355.9 L207.8,356.1 L208.5,356.3 L209.2,356.4 L209.9,356.5" fill="none" stroke="#f79a81" stroke-width="1.2" stroke-linejoin="round" stroke-linecap="round" /><path d="M27.4,364.4 L28.1,364.3 L28.8,364.1 L29.5,364 L30.2,363.9 L30.9,363.8 L31.6,363.7 L32.3,363.6 L33,363.5 L33.7,363.3 L34.4,363.2 L35.2,363 L35.9,362.8 L36.6,362.7 L37.3,362.5 L38,362.2 L38.7,362 L39.4,361.8 L40.1,361.5 L40.8,361.2 L41.5,360.9 L42.2,360.6 L42.9,360.2 L43.6,359.9 L44.3,359.5 L45,359 L45.7,358.6 L46.4,358.1 L47.1,357.6 L47.8,357 L48.5,356.4 L49.2,355.8 L49.9,355.2 L50.7,354.5 L51.4,353.7 L52.1,353 L52.8,352.1 L53.5,351.3 L54.2,350.4 L54.9,349.4 L55.6,348.4 L56.3,347.3 L57,346.2 L57.7,345.1 L58.4,343.8 L59.1,342.5 L59.8,341.2 L60.5,339.8 L61.2,338.3 L61.9,336.7 L62.6,335 L63.3,333.2 L64,331.4 L64.7,329.4 L65.5,327.3 L66.2,325.1 L66.9,322.9 L67.6,320.6 L68.3,318.2 L69,315.8 L69.7,313.4 L70.4,310.9 L71.1,308.3 L71.8,305.6 L72.5,302.7 L73.2,299.7 L73.9,296.7 L74.6,293.5 L75.3,290.4 L76,287.1 L76.7,283.9 L77.4,280.7 L78.1,277.5 L78.8,274.3 L79.5,271.3 L80.2,268.3 L81,265.4 L81.7,262.6 L82.4,259.9 L83.1,257.3 L83.8,254.9 L84.5,252.6 L85.2,250.4 L85.9,248.3 L86.6,246.4 L87.3,244.6 L88,242.9 L88.7,241.4 L89.4,240 L90.1,238.7 L90.8,237.5 L91.5,236.5 L92.2,235.6 L92.9,234.9 L93.6,234.2 L94.3,233.7 L95,233.3 L95.7,233 L96.5,232.7 L97.2,232.6 L97.9,232.6 L98.6,232.7 L99.3,232.8 L100,233 L100.7,233.3 L101.4,233.6 L102.1,233.9 L102.8,234.4 L103.5,234.8 L104.2,235.4 L104.9,236 L105.6,236.6 L106.3,237.3 L107,238.1 L107.7,238.9 L108.4,239.8 L109.1,240.8 L109.8,241.8 L110.5,242.9 L111.3,244 L112,245.3 L112.7,246.5 L113.4,247.8 L114.1,249.1 L114.8,250.5 L115.5,251.8 L116.2,253.1 L116.9,254.4 L117.6,255.6 L118.3,256.8 L119,258 L119.7,259 L120.4,260 L121.1,260.9 L121.8,261.8 L122.5,262.5 L123.2,263.2 L123.9,263.8 L124.6,264.4 L125.3,264.9 L126,265.4 L126.8,265.8 L127.5,266.2 L128.2,266.5 L128.9,266.9 L129.6,267.2 L130.3,267.4 L131,267.7 L131.7,268 L132.4,268.2 L133.1,268.5 L133.8,268.8 L134.5,269.1 L135.2,269.4 L135.9,269.7 L136.6,270 L137.3,270.3 L138,270.7 L138.7,271.1 L139.4,271.6 L140.1,272 L140.8,272.6 L141.6,273.1 L142.3,273.7 L143,274.3 L143.7,275 L144.4,275.8 L145.1,276.6 L145.8,277.4 L146.5,278.3 L147.2,279.2 L147.9,280.2 L148.6,281.3 L149.3,282.4 L150,283.5 L150.7,284.7 L151.4,286 L152.1,287.3 L152.8,288.7 L153.5,290.2 L154.2,291.6 L154.9,293.2 L155.6,294.8 L156.3,296.5 L157.1,298.3 L157.8,300.2 L158.5,302.1 L159.2,304.1 L159.9,306.2 L160.6,308.4 L161.3,310.8 L162,313.2 L162.7,315.7 L163.4,318.4 L164.1,321.1 L164.8,323.9 L165.5,326.6 L166.2,329.2 L166.9,331.6 L167.6,333.7 L168.3,335.4 L169,336.7 L169.7,337.6 L170.4,338.3 L171.1,338.7 L171.8,339 L172.6,339.1 L173.3,339.2 L174,339.3 L174.7,339.4 L175.4,339.5 L176.1,339.7 L176.8,339.8 L177.5,340.1 L178.2,340.3 L178.9,340.6 L179.6,340.8 L180.3,341.1 L181,341.4 L181.7,341.8 L182.4,342.1 L183.1,342.5 L183.8,342.8 L184.5,343.2 L185.2,343.6 L185.9,344 L186.6,344.4 L187.4,344.8 L188.1,345.3 L188.8,345.7 L189.5,346.2 L190.2,346.6 L190.9,347.1 L191.6,347.5 L192.3,348 L193,348.4 L193.7,348.9 L194.4,349.3 L195.1,349.8 L195.8,350.2 L196.5,350.6 L197.2,351.1 L197.9,351.5 L198.6,351.9 L199.3,352.3 L200,352.7 L200.7,353.1 L201.4,353.4 L202.1,353.8 L202.9,354.1 L203.6,354.5 L204.3,354.8 L205,355 L205.7,355.3 L206.4,355.5 L207.1,355.8 L207.8,355.9 L208.5,356.1 L209.2,356.3 L209.9,356.4" fill="none" stroke="#f37a5f" stroke-width="1.2" stroke-linejoin="round" stroke-linecap="round" /><path d="M27.4,364.4 L28.1,364.3 L28.8,364.1 L29.5,364 L30.2,363.9 L30.9,363.8 L31.6,363.7 L32.3,363.6 L33,363.4 L33.7,363.3 L34.4,363.1 L35.2,363 L35.9,362.8 L36.6,362.6 L37.3,362.5 L38,362.2 L38.7,362 L39.4,361.8 L40.1,361.5 L40.8,361.2 L41.5,360.9 L42.2,360.6 L42.9,360.3 L43.6,359.9 L44.3,359.5 L45,359.1 L45.7,358.6 L46.4,358.2 L47.1,357.7 L47.8,357.1 L48.5,356.5 L49.2,355.9 L49.9,355.3 L50.7,354.6 L51.4,353.9 L52.1,353.1 L52.8,352.3 L53.5,351.4 L54.2,350.5 L54.9,349.6 L55.6,348.6 L56.3,347.5 L57,346.4 L57.7,345.3 L58.4,344.1 L59.1,342.8 L59.8,341.5 L60.5,340.1 L61.2,338.6 L61.9,337 L62.6,335.3 L63.3,333.6 L64,331.7 L64.7,329.8 L65.5,327.7 L66.2,325.5 L66.9,323.3 L67.6,321 L68.3,318.6 L69,316.2 L69.7,313.8 L70.4,311.4 L71.1,308.8 L71.8,306.1 L72.5,303.2 L73.2,300.3 L73.9,297.2 L74.6,294.1 L75.3,290.9 L76,287.7 L76.7,284.5 L77.4,281.2 L78.1,278 L78.8,274.9 L79.5,271.8 L80.2,268.7 L81,265.8 L81.7,263 L82.4,260.3 L83.1,257.8 L83.8,255.3 L84.5,253 L85.2,250.8 L85.9,248.7 L86.6,246.7 L87.3,244.9 L88,243.2 L88.7,241.6 L89.4,240.2 L90.1,238.9 L90.8,237.7 L91.5,236.6 L92.2,235.7 L92.9,234.9 L93.6,234.3 L94.3,233.7 L95,233.3 L95.7,233 L96.5,232.8 L97.2,232.6 L97.9,232.6 L98.6,232.6 L99.3,232.7 L100,232.9 L100.7,233.1 L101.4,233.4 L102.1,233.7 L102.8,234.1 L103.5,234.5 L104.2,235 L104.9,235.5 L105.6,236.1 L106.3,236.8 L107,237.5 L107.7,238.3 L108.4,239.1 L109.1,240 L109.8,241 L110.5,242.1 L111.3,243.2 L112,244.4 L112.7,245.6 L113.4,246.9 L114.1,248.2 L114.8,249.6 L115.5,250.9 L116.2,252.2 L116.9,253.5 L117.6,254.8 L118.3,256 L119,257.2 L119.7,258.3 L120.4,259.3 L121.1,260.2 L121.8,261 L122.5,261.8 L123.2,262.5 L123.9,263.1 L124.6,263.7 L125.3,264.2 L126,264.7 L126.8,265.1 L127.5,265.5 L128.2,265.8 L128.9,266.1 L129.6,266.4 L130.3,266.7 L131,267 L131.7,267.2 L132.4,267.5 L133.1,267.8 L133.8,268 L134.5,268.3 L135.2,268.6 L135.9,268.9 L136.6,269.2 L137.3,269.6 L138,270 L138.7,270.4 L139.4,270.8 L140.1,271.3 L140.8,271.8 L141.6,272.3 L142.3,272.9 L143,273.5 L143.7,274.2 L144.4,275 L145.1,275.8 L145.8,276.6 L146.5,277.5 L147.2,278.4 L147.9,279.4 L148.6,280.5 L149.3,281.6 L150,282.8 L150.7,284 L151.4,285.3 L152.1,286.6 L152.8,288 L153.5,289.5 L154.2,291 L154.9,292.6 L155.6,294.2 L156.3,296 L157.1,297.8 L157.8,299.6 L158.5,301.6 L159.2,303.6 L159.9,305.8 L160.6,308 L161.3,310.4 L162,312.8 L162.7,315.4 L163.4,318.1 L164.1,320.8 L164.8,323.6 L165.5,326.4 L166.2,329 L166.9,331.4 L167.6,333.4 L168.3,335.1 L169,336.4 L169.7,337.4 L170.4,338 L171.1,338.4 L171.8,338.7 L172.6,338.8 L173.3,338.9 L174,339 L174.7,339.2 L175.4,339.3 L176.1,339.5 L176.8,339.7 L177.5,339.9 L178.2,340.1 L178.9,340.4 L179.6,340.6 L180.3,340.9 L181,341.2 L181.7,341.5 L182.4,341.9 L183.1,342.2 L183.8,342.6 L184.5,343 L185.2,343.4 L185.9,343.8 L186.6,344.2 L187.4,344.6 L188.1,345 L188.8,345.5 L189.5,345.9 L190.2,346.3 L190.9,346.8 L191.6,347.3 L192.3,347.7 L193,348.2 L193.7,348.6 L194.4,349.1 L195.1,349.5 L195.8,350 L196.5,350.4 L197.2,350.8 L197.9,351.3 L198.6,351.7 L199.3,352.1 L200,352.5 L200.7,352.9 L201.4,353.2 L202.1,353.6 L202.9,353.9 L203.6,354.3 L204.3,354.6 L205,354.9 L205.7,355.1 L206.4,355.4 L207.1,355.6 L207.8,355.8 L208.5,356 L209.2,356.1 L209.9,356.2" fill="none" stroke="#ea513f" stroke-width="1.2" stroke-linejoin="round" stroke-linecap="round" /><path d="M27.4,364.4 L28.1,364.3 L28.8,364.1 L29.5,364 L30.2,363.9 L30.9,363.8 L31.6,363.7 L32.3,363.5 L33,363.4 L33.7,363.3 L34.4,363.1 L35.2,363 L35.9,362.8 L36.6,362.6 L37.3,362.5 L38,362.2 L38.7,362 L39.4,361.8 L40.1,361.5 L40.8,361.3 L41.5,361 L42.2,360.7 L42.9,360.3 L43.6,360 L44.3,359.6 L45,359.2 L45.7,358.7 L46.4,358.2 L47.1,357.7 L47.8,357.2 L48.5,356.6 L49.2,356 L49.9,355.4 L50.7,354.7 L51.4,354 L52.1,353.2 L52.8,352.4 L53.5,351.6 L54.2,350.7 L54.9,349.7 L55.6,348.7 L56.3,347.7 L57,346.6 L57.7,345.5 L58.4,344.3 L59.1,343.1 L59.8,341.7 L60.5,340.3 L61.2,338.9 L61.9,337.3 L62.6,335.7 L63.3,333.9 L64,332.1 L64.7,330.1 L65.5,328.1 L66.2,325.9 L66.9,323.7 L67.6,321.4 L68.3,319 L69,316.7 L69.7,314.3 L70.4,311.8 L71.1,309.3 L71.8,306.6 L72.5,303.8 L73.2,300.8 L73.9,297.8 L74.6,294.7 L75.3,291.5 L76,288.3 L76.7,285 L77.4,281.8 L78.1,278.6 L78.8,275.4 L79.5,272.3 L80.2,269.2 L81,266.3 L81.7,263.5 L82.4,260.8 L83.1,258.2 L83.8,255.7 L84.5,253.4 L85.2,251.1 L85.9,249 L86.6,247.1 L87.3,245.2 L88,243.5 L88.7,241.9 L89.4,240.4 L90.1,239.1 L90.8,237.8 L91.5,236.8 L92.2,235.8 L92.9,235 L93.6,234.3 L94.3,233.8 L95,233.4 L95.7,233 L96.5,232.8 L97.2,232.6 L97.9,232.6 L98.6,232.6 L99.3,232.7 L100,232.8 L100.7,233 L101.4,233.2 L102.1,233.5 L102.8,233.8 L103.5,234.2 L104.2,234.6 L104.9,235.1 L105.6,235.6 L106.3,236.2 L107,236.9 L107.7,237.6 L108.4,238.4 L109.1,239.3 L109.8,240.2 L110.5,241.2 L111.3,242.3 L112,243.5 L112.7,244.7 L113.4,246 L114.1,247.3 L114.8,248.7 L115.5,250 L116.2,251.3 L116.9,252.7 L117.6,253.9 L118.3,255.2 L119,256.4 L119.7,257.5 L120.4,258.5 L121.1,259.4 L121.8,260.3 L122.5,261 L123.2,261.7 L123.9,262.4 L124.6,263 L125.3,263.5 L126,263.9 L126.8,264.4 L127.5,264.8 L128.2,265.1 L128.9,265.4 L129.6,265.7 L130.3,266 L131,266.3 L131.7,266.5 L132.4,266.8 L133.1,267 L133.8,267.3 L134.5,267.6 L135.2,267.8 L135.9,268.1 L136.6,268.5 L137.3,268.8 L138,269.2 L138.7,269.6 L139.4,270 L140.1,270.5 L140.8,271 L141.6,271.5 L142.3,272.1 L143,272.7 L143.7,273.4 L144.4,274.2 L145.1,275 L145.8,275.8 L146.5,276.7 L147.2,277.7 L147.9,278.7 L148.6,279.7 L149.3,280.9 L150,282 L150.7,283.3 L151.4,284.6 L152.1,285.9 L152.8,287.4 L153.5,288.8 L154.2,290.4 L154.9,292 L155.6,293.7 L156.3,295.4 L157.1,297.2 L157.8,299.1 L158.5,301.1 L159.2,303.2 L159.9,305.4 L160.6,307.6 L161.3,310 L162,312.5 L162.7,315 L163.4,317.8 L164.1,320.5 L164.8,323.4 L165.5,326.1 L166.2,328.7 L166.9,331.1 L167.6,333.2 L168.3,334.9 L169,336.1 L169.7,337.1 L170.4,337.7 L171.1,338.1 L171.8,338.4 L172.6,338.6 L173.3,338.7 L174,338.8 L174.7,338.9 L175.4,339.1 L176.1,339.3 L176.8,339.5 L177.5,339.7 L178.2,339.9 L178.9,340.2 L179.6,340.4 L180.3,340.7 L181,341 L181.7,341.3 L182.4,341.6 L183.1,342 L183.8,342.3 L184.5,342.7 L185.2,343.1 L185.9,343.5 L186.6,343.9 L187.4,344.3 L188.1,344.8 L188.8,345.2 L189.5,345.6 L190.2,346.1 L190.9,346.5 L191.6,347 L192.3,347.5 L193,347.9 L193.7,348.4 L194.4,348.8 L195.1,349.3 L195.8,349.7 L196.5,350.2 L197.2,350.6 L197.9,351 L198.6,351.5 L199.3,351.9 L200,352.3 L200.7,352.7 L201.4,353 L202.1,353.4 L202.9,353.8 L203.6,354.1 L204.3,354.4 L205,354.7 L205.7,355 L206.4,355.2 L207.1,355.4 L207.8,355.6 L208.5,355.8 L209.2,356 L209.9,356.1" fill="none" stroke="#dc332a" stroke-width="1.6" stroke-linejoin="round" stroke-linecap="round" /><line x1="113" y1="279" x2="147.8" y2="258.1" stroke="#111" stroke-width="1.1" /><path d="M152,255.6 L147.3,261.4 L147.8,258.1 L144.7,257 Z" fill="#111"/><text x="0.3" y="411.9" font-size="17" text-anchor="start" font-weight="bold" fill="#1e1414" >c</text><rect x="26.5" y="417.4" width="184" height="147.6" fill="none" stroke="#2b2b2b" stroke-width="1"/><line x1="26.5" y1="565" x2="26.5" y2="568" stroke="#2b2b2b" stroke-width="1" /><line x1="63.3" y1="565" x2="63.3" y2="568" stroke="#2b2b2b" stroke-width="1" /><line x1="100.1" y1="565" x2="100.1" y2="568" stroke="#2b2b2b" stroke-width="1" /><line x1="136.9" y1="565" x2="136.9" y2="568" stroke="#2b2b2b" stroke-width="1" /><line x1="173.7" y1="565" x2="173.7" y2="568" stroke="#2b2b2b" stroke-width="1" /><line x1="210.5" y1="565" x2="210.5" y2="568" stroke="#2b2b2b" stroke-width="1" /><line x1="44.9" y1="565" x2="44.9" y2="566.8" stroke="#2b2b2b" stroke-width="1" /><line x1="81.7" y1="565" x2="81.7" y2="566.8" stroke="#2b2b2b" stroke-width="1" /><line x1="118.5" y1="565" x2="118.5" y2="566.8" stroke="#2b2b2b" stroke-width="1" /><line x1="155.3" y1="565" x2="155.3" y2="566.8" stroke="#2b2b2b" stroke-width="1" /><line x1="192.1" y1="565" x2="192.1" y2="566.8" stroke="#2b2b2b" stroke-width="1" /><text x="26.5" y="576.5" font-size="8.5" text-anchor="middle" font-weight="normal" fill="#1a1a1a" >750</text><text x="63.3" y="576.5" font-size="8.5" text-anchor="middle" font-weight="normal" fill="#1a1a1a" >800</text><text x="100.1" y="576.5" font-size="8.5" text-anchor="middle" font-weight="normal" fill="#1a1a1a" >850</text><text x="136.9" y="576.5" font-size="8.5" text-anchor="middle" font-weight="normal" fill="#1a1a1a" >900</text><text x="173.7" y="576.5" font-size="8.5" text-anchor="middle" font-weight="normal" fill="#1a1a1a" >950</text><text x="210.5" y="576.5" font-size="8.5" text-anchor="middle" font-weight="normal" fill="#1a1a1a" >1000</text><line x1="23.5" y1="565" x2="26.5" y2="565" stroke="#2b2b2b" stroke-width="1" /><line x1="23.5" y1="538.1" x2="26.5" y2="538.1" stroke="#2b2b2b" stroke-width="1" /><line x1="23.5" y1="511.3" x2="26.5" y2="511.3" stroke="#2b2b2b" stroke-width="1" /><line x1="23.5" y1="484.4" x2="26.5" y2="484.4" stroke="#2b2b2b" stroke-width="1" /><line x1="23.5" y1="457.6" x2="26.5" y2="457.6" stroke="#2b2b2b" stroke-width="1" /><line x1="23.5" y1="430.7" x2="26.5" y2="430.7" stroke="#2b2b2b" stroke-width="1" /><line x1="24.7" y1="551.6" x2="26.5" y2="551.6" stroke="#2b2b2b" stroke-width="1" /><line x1="24.7" y1="524.7" x2="26.5" y2="524.7" stroke="#2b2b2b" stroke-width="1" /><line x1="24.7" y1="497.9" x2="26.5" y2="497.9" stroke="#2b2b2b" stroke-width="1" /><line x1="24.7" y1="471" x2="26.5" y2="471" stroke="#2b2b2b" stroke-width="1" /><line x1="24.7" y1="444.1" x2="26.5" y2="444.1" stroke="#2b2b2b" stroke-width="1" /><text x="21.8" y="568.1" font-size="8.5" text-anchor="end" font-weight="normal" fill="#1a1a1a" >0.0</text><text x="21.8" y="541.2" font-size="8.5" text-anchor="end" font-weight="normal" fill="#1a1a1a" >0.2</text><text x="21.8" y="514.4" font-size="8.5" text-anchor="end" font-weight="normal" fill="#1a1a1a" >0.4</text><text x="21.8" y="487.5" font-size="8.5" text-anchor="end" font-weight="normal" fill="#1a1a1a" >0.6</text><text x="21.8" y="460.7" font-size="8.5" text-anchor="end" font-weight="normal" fill="#1a1a1a" >0.8</text><text x="21.8" y="433.8" font-size="8.5" text-anchor="end" font-weight="normal" fill="#1a1a1a" >1.0</text><text x="118.5" y="590.8" font-size="9" text-anchor="middle" font-weight="normal" fill="#1a1a1a" >Wavelength (nm)</text><text x="0" y="0" font-size="9.1" text-anchor="middle" font-weight="normal" fill="#1a1a1a" transform="translate(7.0,491.0) rotate(-90)">Normalized PL intensity (a.u.)</text><text x="38.4" y="432.7" font-size="9" text-anchor="start" font-weight="normal" fill="#1a1a1a" >PY-DT</text><text x="32.6" y="453.7" font-size="9" text-anchor="start" font-weight="normal" fill="#1a1a1a" >10 mg mL<tspan font-size="6" dy="-3.5">-1</tspan></text><rect x="161.4" y="436" width="32.6" height="7.6" fill="url(#cb3)"/><text x="161.8" y="434.7" font-size="9" text-anchor="middle" font-weight="normal" fill="#1a1a1a" >0 s</text><text x="206.7" y="434.7" font-size="9" text-anchor="end" font-weight="normal" fill="#1a1a1a" >180 s</text><text x="156.1" y="465.6" font-size="9" text-anchor="start" font-weight="normal" fill="#1a1a1a" >Sonication</text><path d="M26.5,563.2 L27.2,562.9 L27.9,562.7 L28.6,562.4 L29.3,562.2 L30.1,562 L30.8,561.8 L31.5,561.6 L32.2,561.4 L32.9,561.1 L33.6,560.9 L34.3,560.7 L35,560.5 L35.7,560.2 L36.4,560 L37.2,559.7 L37.9,559.5 L38.6,559.2 L39.3,558.8 L40,558.5 L40.7,558.1 L41.4,557.7 L42.1,557.3 L42.8,556.8 L43.6,556.4 L44.3,555.8 L45,555.2 L45.7,554.6 L46.4,554 L47.1,553.3 L47.8,552.5 L48.5,551.7 L49.2,550.9 L49.9,550 L50.7,549 L51.4,548 L52.1,546.9 L52.8,545.7 L53.5,544.5 L54.2,543.2 L54.9,541.9 L55.6,540.4 L56.3,538.9 L57,537.3 L57.8,535.5 L58.5,533.7 L59.2,531.8 L59.9,529.8 L60.6,527.6 L61.3,525.3 L62,522.9 L62.7,520.5 L63.4,517.9 L64.2,515.4 L64.9,512.8 L65.6,510.3 L66.3,507.8 L67,505.4 L67.7,503.1 L68.4,500.8 L69.1,498.3 L69.8,495.5 L70.5,492.6 L71.3,489.4 L72,486 L72.7,482.3 L73.4,478.5 L74.1,474.8 L74.8,471.1 L75.5,467.7 L76.2,464.3 L76.9,461.1 L77.7,458.1 L78.4,455.2 L79.1,452.4 L79.8,449.7 L80.5,447.2 L81.2,444.8 L81.9,442.5 L82.6,440.4 L83.3,438.4 L84,436.7 L84.8,435.1 L85.5,433.7 L86.2,432.6 L86.9,431.7 L87.6,431.1 L88.3,430.8 L89,430.7 L89.7,430.9 L90.4,431.3 L91.1,431.9 L91.9,432.7 L92.6,433.6 L93.3,434.7 L94,436 L94.7,437.3 L95.4,438.8 L96.1,440.3 L96.8,441.9 L97.5,443.6 L98.3,445.3 L99,447.1 L99.7,448.9 L100.4,450.7 L101.1,452.6 L101.8,454.5 L102.5,456.4 L103.2,458.3 L103.9,460.1 L104.6,462 L105.4,463.8 L106.1,465.7 L106.8,467.4 L107.5,469.2 L108.2,470.9 L108.9,472.6 L109.6,474.2 L110.3,475.8 L111,477.4 L111.8,478.8 L112.5,480.2 L113.2,481.6 L113.9,482.8 L114.6,484 L115.3,485.1 L116,486.1 L116.7,487.1 L117.4,488 L118.1,488.9 L118.9,489.6 L119.6,490.4 L120.3,491 L121,491.6 L121.7,492.2 L122.4,492.7 L123.1,493.2 L123.8,493.6 L124.5,494 L125.2,494.3 L126,494.6 L126.7,495 L127.4,495.2 L128.1,495.5 L128.8,495.8 L129.5,496 L130.2,496.3 L130.9,496.5 L131.6,496.8 L132.4,497 L133.1,497.3 L133.8,497.6 L134.5,497.9 L135.2,498.2 L135.9,498.6 L136.6,499 L137.3,499.4 L138,499.8 L138.7,500.3 L139.5,500.8 L140.2,501.3 L140.9,501.8 L141.6,502.4 L142.3,503.1 L143,503.7 L143.7,504.5 L144.4,505.2 L145.1,506.1 L145.9,506.9 L146.6,507.8 L147.3,508.8 L148,509.8 L148.7,510.8 L149.4,511.9 L150.1,513 L150.8,514.2 L151.5,515.4 L152.2,516.6 L153,517.9 L153.7,519.2 L154.4,520.6 L155.1,522 L155.8,523.5 L156.5,524.9 L157.2,526.4 L157.9,528 L158.6,529.5 L159.3,531.1 L160.1,532.6 L160.8,534.2 L161.5,535.7 L162.2,537.2 L162.9,538.6 L163.6,540 L164.3,541.3 L165,542.6 L165.7,543.8 L166.5,544.9 L167.2,545.8 L167.9,546.7 L168.6,547.5 L169.3,548.1 L170,548.6 L170.7,549 L171.4,549.4 L172.1,549.6 L172.8,549.8 L173.6,549.9 L174.3,550 L175,550.1 L175.7,550.1 L176.4,550.2 L177.1,550.2 L177.8,550.3 L178.5,550.5 L179.2,550.6 L180,550.8 L180.7,551.1 L181.4,551.3 L182.1,551.6 L182.8,551.8 L183.5,552.1 L184.2,552.4 L184.9,552.7 L185.6,553 L186.3,553.2 L187.1,553.5 L187.8,553.8 L188.5,554 L189.2,554.3 L189.9,554.5 L190.6,554.8 L191.3,555 L192,555.3 L192.7,555.5 L193.4,555.8 L194.2,556 L194.9,556.2 L195.6,556.5 L196.3,556.7 L197,556.9 L197.7,557.1 L198.4,557.4 L199.1,557.6 L199.8,557.8 L200.6,558 L201.3,558.2 L202,558.4 L202.7,558.6 L203.4,558.8 L204.1,559 L204.8,559.2 L205.5,559.4 L206.2,559.6 L206.9,559.7 L207.7,559.9 L208.4,560.1 L209.1,560.3 L209.8,560.4 L210.5,560.6" fill="none" stroke="#1f68b2" stroke-width="1.3" stroke-linejoin="round" stroke-linecap="round" /><path d="M26.5,563.2 L27.2,562.9 L27.9,562.7 L28.6,562.5 L29.3,562.2 L30.1,562 L30.8,561.8 L31.5,561.6 L32.2,561.4 L32.9,561.2 L33.6,561 L34.3,560.7 L35,560.5 L35.7,560.3 L36.4,560 L37.2,559.7 L37.9,559.4 L38.6,559.1 L39.3,558.8 L40,558.5 L40.7,558.1 L41.4,557.7 L42.1,557.3 L42.8,556.8 L43.6,556.3 L44.3,555.8 L45,555.2 L45.7,554.6 L46.4,554 L47.1,553.3 L47.8,552.5 L48.5,551.7 L49.2,550.9 L49.9,550 L50.7,549 L51.4,548 L52.1,546.9 L52.8,545.8 L53.5,544.5 L54.2,543.2 L54.9,541.9 L55.6,540.4 L56.3,538.9 L57,537.3 L57.8,535.5 L58.5,533.7 L59.2,531.8 L59.9,529.7 L60.6,527.6 L61.3,525.3 L62,522.9 L62.7,520.4 L63.4,517.9 L64.2,515.4 L64.9,512.8 L65.6,510.3 L66.3,507.8 L67,505.4 L67.7,503.1 L68.4,500.8 L69.1,498.2 L69.8,495.5 L70.5,492.6 L71.3,489.4 L72,486 L72.7,482.3 L73.4,478.6 L74.1,474.8 L74.8,471.2 L75.5,467.7 L76.2,464.3 L76.9,461.1 L77.7,458.1 L78.4,455.2 L79.1,452.4 L79.8,449.7 L80.5,447.2 L81.2,444.7 L81.9,442.5 L82.6,440.4 L83.3,438.4 L84,436.7 L84.8,435.1 L85.5,433.8 L86.2,432.7 L86.9,431.8 L87.6,431.2 L88.3,430.8 L89,430.7 L89.7,430.9 L90.4,431.2 L91.1,431.8 L91.9,432.6 L92.6,433.5 L93.3,434.6 L94,435.8 L94.7,437.2 L95.4,438.6 L96.1,440.1 L96.8,441.7 L97.5,443.4 L98.3,445.1 L99,446.8 L99.7,448.6 L100.4,450.5 L101.1,452.3 L101.8,454.2 L102.5,456 L103.2,457.9 L103.9,459.7 L104.6,461.6 L105.4,463.4 L106.1,465.1 L106.8,466.9 L107.5,468.6 L108.2,470.2 L108.9,471.9 L109.6,473.5 L110.3,475.1 L111,476.6 L111.8,478.1 L112.5,479.5 L113.2,480.9 L113.9,482.2 L114.6,483.4 L115.3,484.6 L116,485.6 L116.7,486.6 L117.4,487.5 L118.1,488.3 L118.9,489.1 L119.6,489.8 L120.3,490.5 L121,491.1 L121.7,491.6 L122.4,492.1 L123.1,492.5 L123.8,492.9 L124.5,493.3 L125.2,493.7 L126,494 L126.7,494.3 L127.4,494.6 L128.1,494.8 L128.8,495.1 L129.5,495.3 L130.2,495.6 L130.9,495.8 L131.6,496.1 L132.4,496.3 L133.1,496.6 L133.8,496.9 L134.5,497.2 L135.2,497.5 L135.9,497.9 L136.6,498.3 L137.3,498.7 L138,499.1 L138.7,499.5 L139.5,500 L140.2,500.6 L140.9,501.1 L141.6,501.7 L142.3,502.4 L143,503 L143.7,503.8 L144.4,504.5 L145.1,505.3 L145.9,506.2 L146.6,507.1 L147.3,508 L148,509 L148.7,510.1 L149.4,511.2 L150.1,512.3 L150.8,513.5 L151.5,514.7 L152.2,515.9 L153,517.2 L153.7,518.5 L154.4,519.9 L155.1,521.3 L155.8,522.7 L156.5,524.2 L157.2,525.7 L157.9,527.3 L158.6,528.8 L159.3,530.4 L160.1,532 L160.8,533.5 L161.5,535.1 L162.2,536.6 L162.9,538.1 L163.6,539.5 L164.3,540.9 L165,542.2 L165.7,543.4 L166.5,544.5 L167.2,545.6 L167.9,546.5 L168.6,547.3 L169.3,547.9 L170,548.5 L170.7,548.9 L171.4,549.2 L172.1,549.5 L172.8,549.6 L173.6,549.8 L174.3,549.9 L175,549.9 L175.7,550 L176.4,550 L177.1,550.1 L177.8,550.2 L178.5,550.3 L179.2,550.5 L180,550.7 L180.7,550.9 L181.4,551.2 L182.1,551.4 L182.8,551.7 L183.5,552 L184.2,552.3 L184.9,552.6 L185.6,552.8 L186.3,553.1 L187.1,553.4 L187.8,553.7 L188.5,553.9 L189.2,554.2 L189.9,554.4 L190.6,554.7 L191.3,554.9 L192,555.2 L192.7,555.4 L193.4,555.7 L194.2,555.9 L194.9,556.2 L195.6,556.4 L196.3,556.6 L197,556.8 L197.7,557.1 L198.4,557.3 L199.1,557.5 L199.8,557.7 L200.6,557.9 L201.3,558.1 L202,558.3 L202.7,558.5 L203.4,558.7 L204.1,558.9 L204.8,559.1 L205.5,559.3 L206.2,559.5 L206.9,559.7 L207.7,559.9 L208.4,560 L209.1,560.2 L209.8,560.4 L210.5,560.5" fill="none" stroke="#3277ba" stroke-width="1.3" stroke-linejoin="round" stroke-linecap="round" /><path d="M26.5,563.2 L27.2,562.9 L27.9,562.7 L28.6,562.5 L29.3,562.3 L30.1,562 L30.8,561.8 L31.5,561.6 L32.2,561.4 L32.9,561.2 L33.6,561 L34.3,560.8 L35,560.5 L35.7,560.3 L36.4,560 L37.2,559.7 L37.9,559.4 L38.6,559.1 L39.3,558.8 L40,558.5 L40.7,558.1 L41.4,557.7 L42.1,557.2 L42.8,556.8 L43.6,556.3 L44.3,555.8 L45,555.2 L45.7,554.6 L46.4,553.9 L47.1,553.3 L47.8,552.5 L48.5,551.7 L49.2,550.9 L49.9,550 L50.7,549 L51.4,548 L52.1,546.9 L52.8,545.8 L53.5,544.6 L54.2,543.3 L54.9,541.9 L55.6,540.4 L56.3,538.9 L57,537.3 L57.8,535.5 L58.5,533.7 L59.2,531.8 L59.9,529.7 L60.6,527.6 L61.3,525.3 L62,522.9 L62.7,520.4 L63.4,517.9 L64.2,515.4 L64.9,512.8 L65.6,510.3 L66.3,507.8 L67,505.5 L67.7,503.1 L68.4,500.7 L69.1,498.2 L69.8,495.5 L70.5,492.6 L71.3,489.4 L72,486 L72.7,482.4 L73.4,478.6 L74.1,474.8 L74.8,471.2 L75.5,467.7 L76.2,464.3 L76.9,461.1 L77.7,458.1 L78.4,455.1 L79.1,452.3 L79.8,449.7 L80.5,447.1 L81.2,444.7 L81.9,442.5 L82.6,440.3 L83.3,438.4 L84,436.7 L84.8,435.1 L85.5,433.8 L86.2,432.7 L86.9,431.8 L87.6,431.2 L88.3,430.8 L89,430.7 L89.7,430.9 L90.4,431.2 L91.1,431.8 L91.9,432.5 L92.6,433.4 L93.3,434.5 L94,435.7 L94.7,437 L95.4,438.4 L96.1,439.9 L96.8,441.5 L97.5,443.1 L98.3,444.8 L99,446.6 L99.7,448.4 L100.4,450.2 L101.1,452 L101.8,453.9 L102.5,455.7 L103.2,457.5 L103.9,459.4 L104.6,461.1 L105.4,462.9 L106.1,464.6 L106.8,466.3 L107.5,467.9 L108.2,469.6 L108.9,471.2 L109.6,472.7 L110.3,474.3 L111,475.8 L111.8,477.4 L112.5,478.8 L113.2,480.3 L113.9,481.6 L114.6,482.9 L115.3,484 L116,485.1 L116.7,486.1 L117.4,487 L118.1,487.8 L118.9,488.6 L119.6,489.3 L120.3,489.9 L121,490.5 L121.7,491 L122.4,491.5 L123.1,491.9 L123.8,492.3 L124.5,492.7 L125.2,493 L126,493.3 L126.7,493.6 L127.4,493.9 L128.1,494.1 L128.8,494.4 L129.5,494.6 L130.2,494.8 L130.9,495.1 L131.6,495.3 L132.4,495.6 L133.1,495.9 L133.8,496.2 L134.5,496.5 L135.2,496.8 L135.9,497.2 L136.6,497.5 L137.3,497.9 L138,498.4 L138.7,498.8 L139.5,499.3 L140.2,499.8 L140.9,500.4 L141.6,501 L142.3,501.6 L143,502.3 L143.7,503 L144.4,503.8 L145.1,504.6 L145.9,505.5 L146.6,506.4 L147.3,507.3 L148,508.3 L148.7,509.4 L149.4,510.4 L150.1,511.6 L150.8,512.7 L151.5,513.9 L152.2,515.2 L153,516.5 L153.7,517.8 L154.4,519.2 L155.1,520.6 L155.8,522 L156.5,523.5 L157.2,525 L157.9,526.6 L158.6,528.1 L159.3,529.7 L160.1,531.3 L160.8,532.9 L161.5,534.4 L162.2,536 L162.9,537.5 L163.6,539 L164.3,540.4 L165,541.8 L165.7,543 L166.5,544.2 L167.2,545.3 L167.9,546.2 L168.6,547.1 L169.3,547.7 L170,548.3 L170.7,548.7 L171.4,549.1 L172.1,549.3 L172.8,549.5 L173.6,549.6 L174.3,549.7 L175,549.8 L175.7,549.8 L176.4,549.9 L177.1,550 L177.8,550.1 L178.5,550.2 L179.2,550.4 L180,550.6 L180.7,550.8 L181.4,551.1 L182.1,551.3 L182.8,551.6 L183.5,551.9 L184.2,552.2 L184.9,552.4 L185.6,552.7 L186.3,553 L187.1,553.3 L187.8,553.5 L188.5,553.8 L189.2,554.1 L189.9,554.3 L190.6,554.6 L191.3,554.8 L192,555.1 L192.7,555.3 L193.4,555.6 L194.2,555.8 L194.9,556.1 L195.6,556.3 L196.3,556.5 L197,556.8 L197.7,557 L198.4,557.2 L199.1,557.4 L199.8,557.6 L200.6,557.9 L201.3,558.1 L202,558.3 L202.7,558.5 L203.4,558.7 L204.1,558.9 L204.8,559.1 L205.5,559.2 L206.2,559.4 L206.9,559.6 L207.7,559.8 L208.4,560 L209.1,560.1 L209.8,560.3 L210.5,560.5" fill="none" stroke="#4587c3" stroke-width="1.3" stroke-linejoin="round" stroke-linecap="round" /><path d="M26.5,563.2 L27.2,562.9 L27.9,562.7 L28.6,562.5 L29.3,562.3 L30.1,562.1 L30.8,561.9 L31.5,561.7 L32.2,561.4 L32.9,561.2 L33.6,561 L34.3,560.8 L35,560.5 L35.7,560.3 L36.4,560 L37.2,559.7 L37.9,559.4 L38.6,559.1 L39.3,558.8 L40,558.4 L40.7,558 L41.4,557.6 L42.1,557.2 L42.8,556.8 L43.6,556.3 L44.3,555.7 L45,555.2 L45.7,554.6 L46.4,553.9 L47.1,553.2 L47.8,552.5 L48.5,551.7 L49.2,550.9 L49.9,550 L50.7,549 L51.4,548 L52.1,546.9 L52.8,545.8 L53.5,544.6 L54.2,543.3 L54.9,541.9 L55.6,540.5 L56.3,538.9 L57,537.3 L57.8,535.5 L58.5,533.7 L59.2,531.8 L59.9,529.7 L60.6,527.5 L61.3,525.3 L62,522.9 L62.7,520.4 L63.4,517.9 L64.2,515.4 L64.9,512.8 L65.6,510.3 L66.3,507.8 L67,505.5 L67.7,503.1 L68.4,500.7 L69.1,498.2 L69.8,495.5 L70.5,492.6 L71.3,489.4 L72,486 L72.7,482.4 L73.4,478.6 L74.1,474.9 L74.8,471.2 L75.5,467.7 L76.2,464.3 L76.9,461.1 L77.7,458.1 L78.4,455.1 L79.1,452.3 L79.8,449.7 L80.5,447.1 L81.2,444.7 L81.9,442.4 L82.6,440.3 L83.3,438.4 L84,436.7 L84.8,435.1 L85.5,433.8 L86.2,432.7 L86.9,431.8 L87.6,431.2 L88.3,430.9 L89,430.7 L89.7,430.9 L90.4,431.2 L91.1,431.7 L91.9,432.5 L92.6,433.4 L93.3,434.4 L94,435.6 L94.7,436.9 L95.4,438.3 L96.1,439.7 L96.8,441.3 L97.5,442.9 L98.3,444.6 L99,446.4 L99.7,448.1 L100.4,449.9 L101.1,451.8 L101.8,453.6 L102.5,455.4 L103.2,457.2 L103.9,459 L104.6,460.7 L105.4,462.4 L106.1,464.1 L106.8,465.7 L107.5,467.3 L108.2,468.9 L108.9,470.4 L109.6,472 L110.3,473.5 L111,475.1 L111.8,476.6 L112.5,478.2 L113.2,479.6 L113.9,481 L114.6,482.3 L115.3,483.5 L116,484.5 L116.7,485.5 L117.4,486.5 L118.1,487.3 L118.9,488 L119.6,488.7 L120.3,489.4 L121,489.9 L121.7,490.4 L122.4,490.9 L123.1,491.3 L123.8,491.7 L124.5,492 L125.2,492.3 L126,492.6 L126.7,492.9 L127.4,493.2 L128.1,493.4 L128.8,493.7 L129.5,493.9 L130.2,494.1 L130.9,494.4 L131.6,494.6 L132.4,494.9 L133.1,495.2 L133.8,495.5 L134.5,495.8 L135.2,496.1 L135.9,496.4 L136.6,496.8 L137.3,497.2 L138,497.6 L138.7,498.1 L139.5,498.6 L140.2,499.1 L140.9,499.7 L141.6,500.3 L142.3,500.9 L143,501.6 L143.7,502.3 L144.4,503.1 L145.1,503.9 L145.9,504.8 L146.6,505.7 L147.3,506.6 L148,507.6 L148.7,508.6 L149.4,509.7 L150.1,510.8 L150.8,512 L151.5,513.2 L152.2,514.5 L153,515.7 L153.7,517.1 L154.4,518.4 L155.1,519.8 L155.8,521.3 L156.5,522.8 L157.2,524.3 L157.9,525.9 L158.6,527.4 L159.3,529 L160.1,530.6 L160.8,532.2 L161.5,533.8 L162.2,535.4 L162.9,537 L163.6,538.5 L164.3,540 L165,541.4 L165.7,542.7 L166.5,543.9 L167.2,545 L167.9,546 L168.6,546.9 L169.3,547.6 L170,548.1 L170.7,548.6 L171.4,548.9 L172.1,549.2 L172.8,549.4 L173.6,549.5 L174.3,549.6 L175,549.6 L175.7,549.7 L176.4,549.8 L177.1,549.8 L177.8,549.9 L178.5,550.1 L179.2,550.3 L180,550.5 L180.7,550.7 L181.4,550.9 L182.1,551.2 L182.8,551.5 L183.5,551.8 L184.2,552 L184.9,552.3 L185.6,552.6 L186.3,552.9 L187.1,553.2 L187.8,553.4 L188.5,553.7 L189.2,554 L189.9,554.2 L190.6,554.5 L191.3,554.8 L192,555 L192.7,555.3 L193.4,555.5 L194.2,555.7 L194.9,556 L195.6,556.2 L196.3,556.5 L197,556.7 L197.7,556.9 L198.4,557.1 L199.1,557.4 L199.8,557.6 L200.6,557.8 L201.3,558 L202,558.2 L202.7,558.4 L203.4,558.6 L204.1,558.8 L204.8,559 L205.5,559.2 L206.2,559.4 L206.9,559.6 L207.7,559.7 L208.4,559.9 L209.1,560.1 L209.8,560.3 L210.5,560.4" fill="none" stroke="#5896cb" stroke-width="1.3" stroke-linejoin="round" stroke-linecap="round" /><path d="M26.5,563.1 L27.2,562.9 L27.9,562.7 L28.6,562.5 L29.3,562.3 L30.1,562.1 L30.8,561.9 L31.5,561.7 L32.2,561.5 L32.9,561.3 L33.6,561 L34.3,560.8 L35,560.5 L35.7,560.3 L36.4,560 L37.2,559.7 L37.9,559.4 L38.6,559.1 L39.3,558.8 L40,558.4 L40.7,558 L41.4,557.6 L42.1,557.2 L42.8,556.7 L43.6,556.2 L44.3,555.7 L45,555.1 L45.7,554.6 L46.4,553.9 L47.1,553.2 L47.8,552.5 L48.5,551.7 L49.2,550.9 L49.9,550 L50.7,549.1 L51.4,548 L52.1,547 L52.8,545.8 L53.5,544.6 L54.2,543.3 L54.9,541.9 L55.6,540.5 L56.3,538.9 L57,537.3 L57.8,535.5 L58.5,533.7 L59.2,531.7 L59.9,529.7 L60.6,527.5 L61.3,525.3 L62,522.9 L62.7,520.4 L63.4,517.9 L64.2,515.4 L64.9,512.8 L65.6,510.3 L66.3,507.8 L67,505.5 L67.7,503.1 L68.4,500.7 L69.1,498.2 L69.8,495.5 L70.5,492.6 L71.3,489.4 L72,486 L72.7,482.4 L73.4,478.6 L74.1,474.9 L74.8,471.2 L75.5,467.7 L76.2,464.3 L76.9,461.1 L77.7,458 L78.4,455.1 L79.1,452.3 L79.8,449.6 L80.5,447.1 L81.2,444.7 L81.9,442.4 L82.6,440.3 L83.3,438.4 L84,436.7 L84.8,435.1 L85.5,433.8 L86.2,432.7 L86.9,431.9 L87.6,431.2 L88.3,430.9 L89,430.8 L89.7,430.9 L90.4,431.2 L91.1,431.7 L91.9,432.4 L92.6,433.3 L93.3,434.3 L94,435.4 L94.7,436.7 L95.4,438.1 L96.1,439.6 L96.8,441.1 L97.5,442.7 L98.3,444.4 L99,446.1 L99.7,447.9 L100.4,449.7 L101.1,451.5 L101.8,453.3 L102.5,455.1 L103.2,456.8 L103.9,458.6 L104.6,460.3 L105.4,462 L106.1,463.6 L106.8,465.1 L107.5,466.7 L108.2,468.2 L108.9,469.7 L109.6,471.2 L110.3,472.8 L111,474.3 L111.8,475.9 L112.5,477.5 L113.2,479 L113.9,480.4 L114.6,481.7 L115.3,482.9 L116,484 L116.7,485 L117.4,485.9 L118.1,486.8 L118.9,487.5 L119.6,488.2 L120.3,488.8 L121,489.4 L121.7,489.8 L122.4,490.3 L123.1,490.7 L123.8,491 L124.5,491.4 L125.2,491.7 L126,492 L126.7,492.2 L127.4,492.5 L128.1,492.7 L128.8,493 L129.5,493.2 L130.2,493.4 L130.9,493.7 L131.6,493.9 L132.4,494.2 L133.1,494.5 L133.8,494.7 L134.5,495 L135.2,495.4 L135.9,495.7 L136.6,496.1 L137.3,496.5 L138,496.9 L138.7,497.4 L139.5,497.9 L140.2,498.4 L140.9,499 L141.6,499.6 L142.3,500.2 L143,500.9 L143.7,501.6 L144.4,502.4 L145.1,503.2 L145.9,504 L146.6,504.9 L147.3,505.9 L148,506.9 L148.7,507.9 L149.4,509 L150.1,510.1 L150.8,511.3 L151.5,512.5 L152.2,513.7 L153,515 L153.7,516.3 L154.4,517.7 L155.1,519.1 L155.8,520.6 L156.5,522.1 L157.2,523.6 L157.9,525.1 L158.6,526.7 L159.3,528.3 L160.1,529.9 L160.8,531.6 L161.5,533.2 L162.2,534.8 L162.9,536.4 L163.6,538 L164.3,539.5 L165,541 L165.7,542.3 L166.5,543.6 L167.2,544.7 L167.9,545.8 L168.6,546.6 L169.3,547.4 L170,548 L170.7,548.4 L171.4,548.8 L172.1,549 L172.8,549.2 L173.6,549.3 L174.3,549.4 L175,549.5 L175.7,549.5 L176.4,549.6 L177.1,549.7 L177.8,549.8 L178.5,550 L179.2,550.1 L180,550.3 L180.7,550.6 L181.4,550.8 L182.1,551.1 L182.8,551.4 L183.5,551.6 L184.2,551.9 L184.9,552.2 L185.6,552.5 L186.3,552.8 L187.1,553.1 L187.8,553.3 L188.5,553.6 L189.2,553.9 L189.9,554.1 L190.6,554.4 L191.3,554.7 L192,554.9 L192.7,555.2 L193.4,555.4 L194.2,555.7 L194.9,555.9 L195.6,556.1 L196.3,556.4 L197,556.6 L197.7,556.8 L198.4,557.1 L199.1,557.3 L199.8,557.5 L200.6,557.7 L201.3,557.9 L202,558.1 L202.7,558.3 L203.4,558.5 L204.1,558.7 L204.8,558.9 L205.5,559.1 L206.2,559.3 L206.9,559.5 L207.7,559.7 L208.4,559.9 L209.1,560 L209.8,560.2 L210.5,560.4" fill="none" stroke="#76aad5" stroke-width="1.3" stroke-linejoin="round" stroke-linecap="round" /><path d="M26.5,563.1 L27.2,562.9 L27.9,562.7 L28.6,562.5 L29.3,562.3 L30.1,562.1 L30.8,561.9 L31.5,561.7 L32.2,561.5 L32.9,561.3 L33.6,561.1 L34.3,560.8 L35,560.6 L35.7,560.3 L36.4,560 L37.2,559.7 L37.9,559.4 L38.6,559.1 L39.3,558.8 L40,558.4 L40.7,558 L41.4,557.6 L42.1,557.1 L42.8,556.7 L43.6,556.2 L44.3,555.7 L45,555.1 L45.7,554.5 L46.4,553.9 L47.1,553.2 L47.8,552.5 L48.5,551.7 L49.2,550.9 L49.9,550 L50.7,549.1 L51.4,548.1 L52.1,547 L52.8,545.8 L53.5,544.6 L54.2,543.3 L54.9,542 L55.6,540.5 L56.3,538.9 L57,537.3 L57.8,535.5 L58.5,533.7 L59.2,531.7 L59.9,529.7 L60.6,527.5 L61.3,525.2 L62,522.9 L62.7,520.4 L63.4,517.9 L64.2,515.4 L64.9,512.8 L65.6,510.3 L66.3,507.8 L67,505.5 L67.7,503.1 L68.4,500.7 L69.1,498.2 L69.8,495.5 L70.5,492.6 L71.3,489.4 L72,486 L72.7,482.4 L73.4,478.7 L74.1,474.9 L74.8,471.2 L75.5,467.7 L76.2,464.4 L76.9,461.1 L77.7,458 L78.4,455.1 L79.1,452.3 L79.8,449.6 L80.5,447.1 L81.2,444.6 L81.9,442.4 L82.6,440.3 L83.3,438.4 L84,436.7 L84.8,435.2 L85.5,433.8 L86.2,432.8 L86.9,431.9 L87.6,431.3 L88.3,430.9 L89,430.8 L89.7,430.9 L90.4,431.2 L91.1,431.7 L91.9,432.3 L92.6,433.2 L93.3,434.2 L94,435.3 L94.7,436.6 L95.4,437.9 L96.1,439.4 L96.8,440.9 L97.5,442.5 L98.3,444.2 L99,445.9 L99.7,447.6 L100.4,449.4 L101.1,451.2 L101.8,453 L102.5,454.7 L103.2,456.5 L103.9,458.2 L104.6,459.9 L105.4,461.5 L106.1,463 L106.8,464.6 L107.5,466 L108.2,467.5 L108.9,469 L109.6,470.5 L110.3,472 L111,473.6 L111.8,475.2 L112.5,476.8 L113.2,478.4 L113.9,479.8 L114.6,481.1 L115.3,482.4 L116,483.5 L116.7,484.5 L117.4,485.4 L118.1,486.2 L118.9,487 L119.6,487.7 L120.3,488.2 L121,488.8 L121.7,489.3 L122.4,489.7 L123.1,490.1 L123.8,490.4 L124.5,490.7 L125.2,491 L126,491.3 L126.7,491.6 L127.4,491.8 L128.1,492 L128.8,492.3 L129.5,492.5 L130.2,492.7 L130.9,493 L131.6,493.2 L132.4,493.5 L133.1,493.7 L133.8,494 L134.5,494.3 L135.2,494.7 L135.9,495 L136.6,495.4 L137.3,495.8 L138,496.2 L138.7,496.7 L139.5,497.1 L140.2,497.7 L140.9,498.2 L141.6,498.8 L142.3,499.5 L143,500.2 L143.7,500.9 L144.4,501.6 L145.1,502.5 L145.9,503.3 L146.6,504.2 L147.3,505.2 L148,506.2 L148.7,507.2 L149.4,508.3 L150.1,509.4 L150.8,510.5 L151.5,511.8 L152.2,513 L153,514.3 L153.7,515.6 L154.4,517 L155.1,518.4 L155.8,519.9 L156.5,521.3 L157.2,522.9 L157.9,524.4 L158.6,526 L159.3,527.6 L160.1,529.3 L160.8,530.9 L161.5,532.6 L162.2,534.2 L162.9,535.9 L163.6,537.5 L164.3,539 L165,540.5 L165.7,542 L166.5,543.3 L167.2,544.5 L167.9,545.5 L168.6,546.4 L169.3,547.2 L170,547.8 L170.7,548.3 L171.4,548.7 L172.1,548.9 L172.8,549.1 L173.6,549.2 L174.3,549.3 L175,549.3 L175.7,549.4 L176.4,549.5 L177.1,549.6 L177.8,549.7 L178.5,549.8 L179.2,550 L180,550.2 L180.7,550.4 L181.4,550.7 L182.1,551 L182.8,551.2 L183.5,551.5 L184.2,551.8 L184.9,552.1 L185.6,552.4 L186.3,552.7 L187.1,552.9 L187.8,553.2 L188.5,553.5 L189.2,553.8 L189.9,554 L190.6,554.3 L191.3,554.6 L192,554.8 L192.7,555.1 L193.4,555.3 L194.2,555.6 L194.9,555.8 L195.6,556.1 L196.3,556.3 L197,556.5 L197.7,556.8 L198.4,557 L199.1,557.2 L199.8,557.4 L200.6,557.7 L201.3,557.9 L202,558.1 L202.7,558.3 L203.4,558.5 L204.1,558.7 L204.8,558.9 L205.5,559.1 L206.2,559.3 L206.9,559.4 L207.7,559.6 L208.4,559.8 L209.1,560 L209.8,560.1 L210.5,560.3" fill="none" stroke="#95bede" stroke-width="1.3" stroke-linejoin="round" stroke-linecap="round" /><path d="M26.5,563.1 L27.2,562.9 L27.9,562.7 L28.6,562.5 L29.3,562.3 L30.1,562.2 L30.8,562 L31.5,561.7 L32.2,561.5 L32.9,561.3 L33.6,561.1 L34.3,560.8 L35,560.6 L35.7,560.3 L36.4,560 L37.2,559.7 L37.9,559.4 L38.6,559.1 L39.3,558.7 L40,558.4 L40.7,558 L41.4,557.6 L42.1,557.1 L42.8,556.7 L43.6,556.2 L44.3,555.6 L45,555.1 L45.7,554.5 L46.4,553.9 L47.1,553.2 L47.8,552.5 L48.5,551.7 L49.2,550.9 L49.9,550 L50.7,549.1 L51.4,548.1 L52.1,547 L52.8,545.9 L53.5,544.7 L54.2,543.4 L54.9,542 L55.6,540.5 L56.3,539 L57,537.3 L57.8,535.5 L58.5,533.7 L59.2,531.7 L59.9,529.7 L60.6,527.5 L61.3,525.2 L62,522.8 L62.7,520.4 L63.4,517.9 L64.2,515.4 L64.9,512.8 L65.6,510.3 L66.3,507.9 L67,505.5 L67.7,503.1 L68.4,500.7 L69.1,498.2 L69.8,495.5 L70.5,492.6 L71.3,489.4 L72,486.1 L72.7,482.4 L73.4,478.7 L74.1,474.9 L74.8,471.3 L75.5,467.7 L76.2,464.4 L76.9,461.1 L77.7,458 L78.4,455.1 L79.1,452.3 L79.8,449.6 L80.5,447 L81.2,444.6 L81.9,442.4 L82.6,440.3 L83.3,438.4 L84,436.7 L84.8,435.2 L85.5,433.9 L86.2,432.8 L86.9,431.9 L87.6,431.3 L88.3,430.9 L89,430.8 L89.7,430.9 L90.4,431.1 L91.1,431.6 L91.9,432.3 L92.6,433.1 L93.3,434.1 L94,435.2 L94.7,436.4 L95.4,437.7 L96.1,439.2 L96.8,440.7 L97.5,442.3 L98.3,443.9 L99,445.6 L99.7,447.4 L100.4,449.1 L101.1,450.9 L101.8,452.7 L102.5,454.4 L103.2,456.1 L103.9,457.8 L104.6,459.4 L105.4,461 L106.1,462.5 L106.8,464 L107.5,465.4 L108.2,466.8 L108.9,468.3 L109.6,469.7 L110.3,471.2 L111,472.8 L111.8,474.5 L112.5,476.1 L113.2,477.7 L113.9,479.2 L114.6,480.6 L115.3,481.8 L116,483 L116.7,484 L117.4,484.9 L118.1,485.7 L118.9,486.5 L119.6,487.1 L120.3,487.7 L121,488.2 L121.7,488.7 L122.4,489.1 L123.1,489.4 L123.8,489.8 L124.5,490.1 L125.2,490.4 L126,490.6 L126.7,490.9 L127.4,491.1 L128.1,491.4 L128.8,491.6 L129.5,491.8 L130.2,492 L130.9,492.3 L131.6,492.5 L132.4,492.8 L133.1,493 L133.8,493.3 L134.5,493.6 L135.2,493.9 L135.9,494.3 L136.6,494.7 L137.3,495 L138,495.5 L138.7,495.9 L139.5,496.4 L140.2,496.9 L140.9,497.5 L141.6,498.1 L142.3,498.8 L143,499.4 L143.7,500.2 L144.4,500.9 L145.1,501.7 L145.9,502.6 L146.6,503.5 L147.3,504.4 L148,505.4 L148.7,506.5 L149.4,507.5 L150.1,508.7 L150.8,509.8 L151.5,511 L152.2,512.3 L153,513.6 L153.7,514.9 L154.4,516.3 L155.1,517.7 L155.8,519.1 L156.5,520.6 L157.2,522.2 L157.9,523.7 L158.6,525.3 L159.3,527 L160.1,528.6 L160.8,530.3 L161.5,531.9 L162.2,533.6 L162.9,535.3 L163.6,537 L164.3,538.6 L165,540.1 L165.7,541.6 L166.5,542.9 L167.2,544.2 L167.9,545.3 L168.6,546.2 L169.3,547 L170,547.7 L170.7,548.2 L171.4,548.5 L172.1,548.8 L172.8,548.9 L173.6,549 L174.3,549.1 L175,549.2 L175.7,549.2 L176.4,549.3 L177.1,549.4 L177.8,549.5 L178.5,549.7 L179.2,549.9 L180,550.1 L180.7,550.3 L181.4,550.6 L182.1,550.8 L182.8,551.1 L183.5,551.4 L184.2,551.7 L184.9,552 L185.6,552.3 L186.3,552.5 L187.1,552.8 L187.8,553.1 L188.5,553.4 L189.2,553.7 L189.9,553.9 L190.6,554.2 L191.3,554.5 L192,554.7 L192.7,555 L193.4,555.2 L194.2,555.5 L194.9,555.7 L195.6,556 L196.3,556.2 L197,556.5 L197.7,556.7 L198.4,556.9 L199.1,557.1 L199.8,557.4 L200.6,557.6 L201.3,557.8 L202,558 L202.7,558.2 L203.4,558.4 L204.1,558.6 L204.8,558.8 L205.5,559 L206.2,559.2 L206.9,559.4 L207.7,559.6 L208.4,559.7 L209.1,559.9 L209.8,560.1 L210.5,560.2" fill="none" stroke="#b5d2e8" stroke-width="1.3" stroke-linejoin="round" stroke-linecap="round" /><path d="M26.5,563.1 L27.2,562.9 L27.9,562.7 L28.6,562.6 L29.3,562.4 L30.1,562.2 L30.8,562 L31.5,561.8 L32.2,561.6 L32.9,561.3 L33.6,561.1 L34.3,560.9 L35,560.6 L35.7,560.3 L36.4,560 L37.2,559.7 L37.9,559.4 L38.6,559.1 L39.3,558.7 L40,558.3 L40.7,557.9 L41.4,557.5 L42.1,557.1 L42.8,556.6 L43.6,556.1 L44.3,555.6 L45,555.1 L45.7,554.5 L46.4,553.9 L47.1,553.2 L47.8,552.5 L48.5,551.7 L49.2,550.9 L49.9,550 L50.7,549.1 L51.4,548.1 L52.1,547 L52.8,545.9 L53.5,544.7 L54.2,543.4 L54.9,542 L55.6,540.5 L56.3,539 L57,537.3 L57.8,535.5 L58.5,533.7 L59.2,531.7 L59.9,529.6 L60.6,527.5 L61.3,525.2 L62,522.8 L62.7,520.4 L63.4,517.9 L64.2,515.4 L64.9,512.8 L65.6,510.3 L66.3,507.9 L67,505.5 L67.7,503.1 L68.4,500.7 L69.1,498.2 L69.8,495.5 L70.5,492.6 L71.3,489.5 L72,486.1 L72.7,482.4 L73.4,478.7 L74.1,474.9 L74.8,471.3 L75.5,467.8 L76.2,464.4 L76.9,461.1 L77.7,458 L78.4,455.1 L79.1,452.2 L79.8,449.5 L80.5,447 L81.2,444.6 L81.9,442.4 L82.6,440.3 L83.3,438.4 L84,436.7 L84.8,435.2 L85.5,433.9 L86.2,432.8 L86.9,432 L87.6,431.3 L88.3,430.9 L89,430.8 L89.7,430.9 L90.4,431.1 L91.1,431.6 L91.9,432.2 L92.6,433 L93.3,433.9 L94,435 L94.7,436.2 L95.4,437.6 L96.1,439 L96.8,440.5 L97.5,442.1 L98.3,443.7 L99,445.4 L99.7,447.1 L100.4,448.9 L101.1,450.6 L101.8,452.4 L102.5,454.1 L103.2,455.8 L103.9,457.4 L104.6,459 L105.4,460.6 L106.1,462 L106.8,463.4 L107.5,464.8 L108.2,466.1 L108.9,467.5 L109.6,469 L110.3,470.5 L111,472.1 L111.8,473.7 L112.5,475.4 L113.2,477.1 L113.9,478.6 L114.6,480 L115.3,481.3 L116,482.4 L116.7,483.4 L117.4,484.4 L118.1,485.2 L118.9,485.9 L119.6,486.6 L120.3,487.1 L121,487.6 L121.7,488.1 L122.4,488.5 L123.1,488.8 L123.8,489.1 L124.5,489.4 L125.2,489.7 L126,490 L126.7,490.2 L127.4,490.4 L128.1,490.7 L128.8,490.9 L129.5,491.1 L130.2,491.3 L130.9,491.6 L131.6,491.8 L132.4,492 L133.1,492.3 L133.8,492.6 L134.5,492.9 L135.2,493.2 L135.9,493.6 L136.6,493.9 L137.3,494.3 L138,494.8 L138.7,495.2 L139.5,495.7 L140.2,496.2 L140.9,496.8 L141.6,497.4 L142.3,498 L143,498.7 L143.7,499.4 L144.4,500.2 L145.1,501 L145.9,501.9 L146.6,502.8 L147.3,503.7 L148,504.7 L148.7,505.7 L149.4,506.8 L150.1,507.9 L150.8,509.1 L151.5,510.3 L152.2,511.5 L153,512.8 L153.7,514.2 L154.4,515.5 L155.1,517 L155.8,518.4 L156.5,519.9 L157.2,521.4 L157.9,523 L158.6,524.6 L159.3,526.3 L160.1,527.9 L160.8,529.6 L161.5,531.3 L162.2,533 L162.9,534.7 L163.6,536.5 L164.3,538.1 L165,539.7 L165.7,541.2 L166.5,542.6 L167.2,543.9 L167.9,545 L168.6,546 L169.3,546.9 L170,547.5 L170.7,548 L171.4,548.4 L172.1,548.6 L172.8,548.8 L173.6,548.9 L174.3,549 L175,549 L175.7,549.1 L176.4,549.2 L177.1,549.3 L177.8,549.4 L178.5,549.6 L179.2,549.8 L180,550 L180.7,550.2 L181.4,550.5 L182.1,550.7 L182.8,551 L183.5,551.3 L184.2,551.6 L184.9,551.9 L185.6,552.1 L186.3,552.4 L187.1,552.7 L187.8,553 L188.5,553.3 L189.2,553.6 L189.9,553.8 L190.6,554.1 L191.3,554.4 L192,554.6 L192.7,554.9 L193.4,555.2 L194.2,555.4 L194.9,555.7 L195.6,555.9 L196.3,556.1 L197,556.4 L197.7,556.6 L198.4,556.8 L199.1,557.1 L199.8,557.3 L200.6,557.5 L201.3,557.7 L202,557.9 L202.7,558.2 L203.4,558.4 L204.1,558.6 L204.8,558.8 L205.5,558.9 L206.2,559.1 L206.9,559.3 L207.7,559.5 L208.4,559.7 L209.1,559.8 L209.8,560 L210.5,560.2" fill="none" stroke="#dae6f2" stroke-width="1.3" stroke-linejoin="round" stroke-linecap="round" /><path d="M26.5,563.1 L27.2,562.9 L27.9,562.7 L28.6,562.6 L29.3,562.4 L30.1,562.2 L30.8,562 L31.5,561.8 L32.2,561.6 L32.9,561.4 L33.6,561.1 L34.3,560.9 L35,560.6 L35.7,560.3 L36.4,560 L37.2,559.7 L37.9,559.4 L38.6,559.1 L39.3,558.7 L40,558.3 L40.7,557.9 L41.4,557.5 L42.1,557.1 L42.8,556.6 L43.6,556.1 L44.3,555.6 L45,555 L45.7,554.5 L46.4,553.8 L47.1,553.2 L47.8,552.5 L48.5,551.7 L49.2,550.9 L49.9,550 L50.7,549.1 L51.4,548.1 L52.1,547.1 L52.8,545.9 L53.5,544.7 L54.2,543.4 L54.9,542 L55.6,540.5 L56.3,539 L57,537.3 L57.8,535.5 L58.5,533.7 L59.2,531.7 L59.9,529.6 L60.6,527.4 L61.3,525.2 L62,522.8 L62.7,520.4 L63.4,517.9 L64.2,515.4 L64.9,512.8 L65.6,510.3 L66.3,507.9 L67,505.5 L67.7,503.1 L68.4,500.7 L69.1,498.2 L69.8,495.5 L70.5,492.6 L71.3,489.5 L72,486.1 L72.7,482.5 L73.4,478.7 L74.1,475 L74.8,471.3 L75.5,467.8 L76.2,464.4 L76.9,461.1 L77.7,458 L78.4,455 L79.1,452.2 L79.8,449.5 L80.5,447 L81.2,444.6 L81.9,442.3 L82.6,440.3 L83.3,438.4 L84,436.7 L84.8,435.2 L85.5,433.9 L86.2,432.8 L86.9,432 L87.6,431.4 L88.3,431 L89,430.8 L89.7,430.9 L90.4,431.1 L91.1,431.5 L91.9,432.1 L92.6,432.9 L93.3,433.8 L94,434.9 L94.7,436.1 L95.4,437.4 L96.1,438.8 L96.8,440.3 L97.5,441.9 L98.3,443.5 L99,445.2 L99.7,446.9 L100.4,448.6 L101.1,450.3 L101.8,452.1 L102.5,453.8 L103.2,455.4 L103.9,457 L104.6,458.6 L105.4,460.1 L106.1,461.5 L106.8,462.8 L107.5,464.1 L108.2,465.5 L108.9,466.8 L109.6,468.2 L110.3,469.7 L111,471.3 L111.8,473 L112.5,474.7 L113.2,476.4 L113.9,478 L114.6,479.4 L115.3,480.7 L116,481.9 L116.7,482.9 L117.4,483.8 L118.1,484.7 L118.9,485.4 L119.6,486 L120.3,486.6 L121,487.1 L121.7,487.5 L122.4,487.9 L123.1,488.2 L123.8,488.5 L124.5,488.8 L125.2,489.1 L126,489.3 L126.7,489.5 L127.4,489.8 L128.1,490 L128.8,490.2 L129.5,490.4 L130.2,490.6 L130.9,490.8 L131.6,491.1 L132.4,491.3 L133.1,491.6 L133.8,491.9 L134.5,492.2 L135.2,492.5 L135.9,492.8 L136.6,493.2 L137.3,493.6 L138,494 L138.7,494.5 L139.5,495 L140.2,495.5 L140.9,496.1 L141.6,496.7 L142.3,497.3 L143,498 L143.7,498.7 L144.4,499.5 L145.1,500.3 L145.9,501.2 L146.6,502.1 L147.3,503 L148,504 L148.7,505 L149.4,506.1 L150.1,507.2 L150.8,508.4 L151.5,509.6 L152.2,510.8 L153,512.1 L153.7,513.4 L154.4,514.8 L155.1,516.2 L155.8,517.7 L156.5,519.2 L157.2,520.7 L157.9,522.3 L158.6,523.9 L159.3,525.6 L160.1,527.3 L160.8,529 L161.5,530.7 L162.2,532.4 L162.9,534.2 L163.6,535.9 L164.3,537.7 L165,539.3 L165.7,540.9 L166.5,542.3 L167.2,543.6 L167.9,544.8 L168.6,545.8 L169.3,546.7 L170,547.3 L170.7,547.9 L171.4,548.2 L172.1,548.5 L172.8,548.6 L173.6,548.7 L174.3,548.8 L175,548.9 L175.7,549 L176.4,549 L177.1,549.2 L177.8,549.3 L178.5,549.4 L179.2,549.6 L180,549.9 L180.7,550.1 L181.4,550.3 L182.1,550.6 L182.8,550.9 L183.5,551.2 L184.2,551.5 L184.9,551.7 L185.6,552 L186.3,552.3 L187.1,552.6 L187.8,552.9 L188.5,553.2 L189.2,553.5 L189.9,553.7 L190.6,554 L191.3,554.3 L192,554.5 L192.7,554.8 L193.4,555.1 L194.2,555.3 L194.9,555.6 L195.6,555.8 L196.3,556.1 L197,556.3 L197.7,556.5 L198.4,556.8 L199.1,557 L199.8,557.2 L200.6,557.4 L201.3,557.7 L202,557.9 L202.7,558.1 L203.4,558.3 L204.1,558.5 L204.8,558.7 L205.5,558.9 L206.2,559.1 L206.9,559.3 L207.7,559.4 L208.4,559.6 L209.1,559.8 L209.8,560 L210.5,560.1" fill="none" stroke="#fde7dd" stroke-width="1.3" stroke-linejoin="round" stroke-linecap="round" /><path d="M26.5,563 L27.2,562.9 L27.9,562.7 L28.6,562.6 L29.3,562.4 L30.1,562.2 L30.8,562 L31.5,561.8 L32.2,561.6 L32.9,561.4 L33.6,561.2 L34.3,560.9 L35,560.6 L35.7,560.3 L36.4,560 L37.2,559.7 L37.9,559.4 L38.6,559 L39.3,558.7 L40,558.3 L40.7,557.9 L41.4,557.5 L42.1,557 L42.8,556.6 L43.6,556.1 L44.3,555.6 L45,555 L45.7,554.4 L46.4,553.8 L47.1,553.2 L47.8,552.5 L48.5,551.7 L49.2,550.9 L49.9,550.1 L50.7,549.1 L51.4,548.1 L52.1,547.1 L52.8,545.9 L53.5,544.7 L54.2,543.4 L54.9,542 L55.6,540.6 L56.3,539 L57,537.3 L57.8,535.5 L58.5,533.7 L59.2,531.7 L59.9,529.6 L60.6,527.4 L61.3,525.2 L62,522.8 L62.7,520.4 L63.4,517.9 L64.2,515.4 L64.9,512.8 L65.6,510.3 L66.3,507.9 L67,505.5 L67.7,503.1 L68.4,500.7 L69.1,498.1 L69.8,495.5 L70.5,492.6 L71.3,489.5 L72,486.1 L72.7,482.5 L73.4,478.7 L74.1,475 L74.8,471.3 L75.5,467.8 L76.2,464.4 L76.9,461.1 L77.7,458 L78.4,455 L79.1,452.2 L79.8,449.5 L80.5,446.9 L81.2,444.5 L81.9,442.3 L82.6,440.3 L83.3,438.4 L84,436.7 L84.8,435.2 L85.5,433.9 L86.2,432.9 L86.9,432 L87.6,431.4 L88.3,431 L89,430.8 L89.7,430.8 L90.4,431.1 L91.1,431.5 L91.9,432.1 L92.6,432.8 L93.3,433.7 L94,434.8 L94.7,435.9 L95.4,437.2 L96.1,438.6 L96.8,440.1 L97.5,441.7 L98.3,443.3 L99,444.9 L99.7,446.6 L100.4,448.3 L101.1,450.1 L101.8,451.8 L102.5,453.4 L103.2,455.1 L103.9,456.7 L104.6,458.2 L105.4,459.6 L106.1,461 L106.8,462.3 L107.5,463.5 L108.2,464.8 L108.9,466.1 L109.6,467.5 L110.3,468.9 L111,470.5 L111.8,472.3 L112.5,474.1 L113.2,475.8 L113.9,477.4 L114.6,478.9 L115.3,480.2 L116,481.4 L116.7,482.4 L117.4,483.3 L118.1,484.1 L118.9,484.9 L119.6,485.5 L120.3,486 L121,486.5 L121.7,486.9 L122.4,487.3 L123.1,487.6 L123.8,487.9 L124.5,488.1 L125.2,488.4 L126,488.6 L126.7,488.9 L127.4,489.1 L128.1,489.3 L128.8,489.5 L129.5,489.7 L130.2,489.9 L130.9,490.1 L131.6,490.4 L132.4,490.6 L133.1,490.9 L133.8,491.2 L134.5,491.5 L135.2,491.8 L135.9,492.1 L136.6,492.5 L137.3,492.9 L138,493.3 L138.7,493.8 L139.5,494.3 L140.2,494.8 L140.9,495.4 L141.6,496 L142.3,496.6 L143,497.3 L143.7,498 L144.4,498.8 L145.1,499.6 L145.9,500.4 L146.6,501.3 L147.3,502.3 L148,503.3 L148.7,504.3 L149.4,505.4 L150.1,506.5 L150.8,507.6 L151.5,508.8 L152.2,510.1 L153,511.4 L153.7,512.7 L154.4,514.1 L155.1,515.5 L155.8,517 L156.5,518.5 L157.2,520 L157.9,521.6 L158.6,523.2 L159.3,524.9 L160.1,526.6 L160.8,528.3 L161.5,530.1 L162.2,531.8 L162.9,533.6 L163.6,535.4 L164.3,537.2 L165,538.9 L165.7,540.5 L166.5,542 L167.2,543.4 L167.9,544.6 L168.6,545.6 L169.3,546.5 L170,547.2 L170.7,547.7 L171.4,548.1 L172.1,548.3 L172.8,548.5 L173.6,548.6 L174.3,548.7 L175,548.7 L175.7,548.8 L176.4,548.9 L177.1,549 L177.8,549.2 L178.5,549.3 L179.2,549.5 L180,549.7 L180.7,550 L181.4,550.2 L182.1,550.5 L182.8,550.8 L183.5,551 L184.2,551.3 L184.9,551.6 L185.6,551.9 L186.3,552.2 L187.1,552.5 L187.8,552.8 L188.5,553.1 L189.2,553.4 L189.9,553.6 L190.6,553.9 L191.3,554.2 L192,554.4 L192.7,554.7 L193.4,555 L194.2,555.2 L194.9,555.5 L195.6,555.7 L196.3,556 L197,556.2 L197.7,556.5 L198.4,556.7 L199.1,556.9 L199.8,557.2 L200.6,557.4 L201.3,557.6 L202,557.8 L202.7,558 L203.4,558.2 L204.1,558.4 L204.8,558.6 L205.5,558.8 L206.2,559 L206.9,559.2 L207.7,559.4 L208.4,559.6 L209.1,559.7 L209.8,559.9 L210.5,560.1" fill="none" stroke="#fbccb9" stroke-width="1.3" stroke-linejoin="round" stroke-linecap="round" /><path d="M26.5,563 L27.2,562.9 L27.9,562.8 L28.6,562.6 L29.3,562.4 L30.1,562.3 L30.8,562.1 L31.5,561.9 L32.2,561.7 L32.9,561.4 L33.6,561.2 L34.3,560.9 L35,560.6 L35.7,560.4 L36.4,560.1 L37.2,559.7 L37.9,559.4 L38.6,559 L39.3,558.7 L40,558.3 L40.7,557.9 L41.4,557.4 L42.1,557 L42.8,556.5 L43.6,556 L44.3,555.5 L45,555 L45.7,554.4 L46.4,553.8 L47.1,553.2 L47.8,552.5 L48.5,551.7 L49.2,550.9 L49.9,550.1 L50.7,549.1 L51.4,548.2 L52.1,547.1 L52.8,546 L53.5,544.8 L54.2,543.5 L54.9,542.1 L55.6,540.6 L56.3,539 L57,537.3 L57.8,535.5 L58.5,533.6 L59.2,531.7 L59.9,529.6 L60.6,527.4 L61.3,525.1 L62,522.8 L62.7,520.3 L63.4,517.9 L64.2,515.4 L64.9,512.8 L65.6,510.3 L66.3,507.9 L67,505.5 L67.7,503.1 L68.4,500.7 L69.1,498.1 L69.8,495.4 L70.5,492.6 L71.3,489.5 L72,486.1 L72.7,482.5 L73.4,478.8 L74.1,475 L74.8,471.3 L75.5,467.8 L76.2,464.4 L76.9,461.1 L77.7,458 L78.4,455 L79.1,452.2 L79.8,449.5 L80.5,446.9 L81.2,444.5 L81.9,442.3 L82.6,440.2 L83.3,438.4 L84,436.7 L84.8,435.2 L85.5,433.9 L86.2,432.9 L86.9,432 L87.6,431.4 L88.3,431 L89,430.8 L89.7,430.8 L90.4,431.1 L91.1,431.4 L91.9,432 L92.6,432.7 L93.3,433.6 L94,434.6 L94.7,435.8 L95.4,437.1 L96.1,438.4 L96.8,439.9 L97.5,441.4 L98.3,443 L99,444.7 L99.7,446.4 L100.4,448.1 L101.1,449.8 L101.8,451.5 L102.5,453.1 L103.2,454.7 L103.9,456.3 L104.6,457.8 L105.4,459.1 L106.1,460.4 L106.8,461.7 L107.5,462.9 L108.2,464.1 L108.9,465.4 L109.6,466.7 L110.3,468.2 L111,469.8 L111.8,471.5 L112.5,473.4 L113.2,475.2 L113.9,476.8 L114.6,478.3 L115.3,479.6 L116,480.8 L116.7,481.9 L117.4,482.8 L118.1,483.6 L118.9,484.3 L119.6,484.9 L120.3,485.5 L121,485.9 L121.7,486.3 L122.4,486.7 L123.1,487 L123.8,487.2 L124.5,487.5 L125.2,487.7 L126,488 L126.7,488.2 L127.4,488.4 L128.1,488.6 L128.8,488.8 L129.5,489 L130.2,489.2 L130.9,489.4 L131.6,489.7 L132.4,489.9 L133.1,490.2 L133.8,490.4 L134.5,490.7 L135.2,491.1 L135.9,491.4 L136.6,491.8 L137.3,492.2 L138,492.6 L138.7,493 L139.5,493.5 L140.2,494.1 L140.9,494.6 L141.6,495.2 L142.3,495.9 L143,496.6 L143.7,497.3 L144.4,498.1 L145.1,498.9 L145.9,499.7 L146.6,500.6 L147.3,501.6 L148,502.5 L148.7,503.6 L149.4,504.6 L150.1,505.8 L150.8,506.9 L151.5,508.1 L152.2,509.4 L153,510.7 L153.7,512 L154.4,513.4 L155.1,514.8 L155.8,516.2 L156.5,517.8 L157.2,519.3 L157.9,520.9 L158.6,522.5 L159.3,524.2 L160.1,525.9 L160.8,527.7 L161.5,529.4 L162.2,531.2 L162.9,533.1 L163.6,534.9 L164.3,536.7 L165,538.5 L165.7,540.1 L166.5,541.7 L167.2,543.1 L167.9,544.3 L168.6,545.4 L169.3,546.3 L170,547 L170.7,547.6 L171.4,547.9 L172.1,548.2 L172.8,548.4 L173.6,548.5 L174.3,548.5 L175,548.6 L175.7,548.7 L176.4,548.8 L177.1,548.9 L177.8,549 L178.5,549.2 L179.2,549.4 L180,549.6 L180.7,549.8 L181.4,550.1 L182.1,550.4 L182.8,550.6 L183.5,550.9 L184.2,551.2 L184.9,551.5 L185.6,551.8 L186.3,552.1 L187.1,552.4 L187.8,552.7 L188.5,553 L189.2,553.3 L189.9,553.5 L190.6,553.8 L191.3,554.1 L192,554.4 L192.7,554.6 L193.4,554.9 L194.2,555.1 L194.9,555.4 L195.6,555.7 L196.3,555.9 L197,556.1 L197.7,556.4 L198.4,556.6 L199.1,556.9 L199.8,557.1 L200.6,557.3 L201.3,557.5 L202,557.7 L202.7,558 L203.4,558.2 L204.1,558.4 L204.8,558.6 L205.5,558.8 L206.2,559 L206.9,559.1 L207.7,559.3 L208.4,559.5 L209.1,559.7 L209.8,559.8 L210.5,560" fill="none" stroke="#f9b098" stroke-width="1.3" stroke-linejoin="round" stroke-linecap="round" /><path d="M26.5,563 L27.2,562.9 L27.9,562.8 L28.6,562.6 L29.3,562.5 L30.1,562.3 L30.8,562.1 L31.5,561.9 L32.2,561.7 L32.9,561.5 L33.6,561.2 L34.3,560.9 L35,560.7 L35.7,560.4 L36.4,560.1 L37.2,559.7 L37.9,559.4 L38.6,559 L39.3,558.6 L40,558.3 L40.7,557.8 L41.4,557.4 L42.1,557 L42.8,556.5 L43.6,556 L44.3,555.5 L45,555 L45.7,554.4 L46.4,553.8 L47.1,553.2 L47.8,552.5 L48.5,551.7 L49.2,550.9 L49.9,550.1 L50.7,549.2 L51.4,548.2 L52.1,547.1 L52.8,546 L53.5,544.8 L54.2,543.5 L54.9,542.1 L55.6,540.6 L56.3,539 L57,537.3 L57.8,535.5 L58.5,533.6 L59.2,531.7 L59.9,529.6 L60.6,527.4 L61.3,525.1 L62,522.8 L62.7,520.3 L63.4,517.9 L64.2,515.4 L64.9,512.8 L65.6,510.4 L66.3,507.9 L67,505.5 L67.7,503.1 L68.4,500.6 L69.1,498.1 L69.8,495.4 L70.5,492.6 L71.3,489.5 L72,486.1 L72.7,482.5 L73.4,478.8 L74.1,475 L74.8,471.4 L75.5,467.8 L76.2,464.4 L76.9,461.1 L77.7,458 L78.4,455 L79.1,452.1 L79.8,449.4 L80.5,446.9 L81.2,444.5 L81.9,442.3 L82.6,440.2 L83.3,438.4 L84,436.7 L84.8,435.2 L85.5,434 L86.2,432.9 L86.9,432.1 L87.6,431.5 L88.3,431 L89,430.8 L89.7,430.8 L90.4,431 L91.1,431.4 L91.9,431.9 L92.6,432.6 L93.3,433.5 L94,434.5 L94.7,435.6 L95.4,436.9 L96.1,438.2 L96.8,439.7 L97.5,441.2 L98.3,442.8 L99,444.5 L99.7,446.1 L100.4,447.8 L101.1,449.5 L101.8,451.2 L102.5,452.8 L103.2,454.4 L103.9,455.9 L104.6,457.3 L105.4,458.7 L106.1,459.9 L106.8,461.1 L107.5,462.3 L108.2,463.4 L108.9,464.6 L109.6,465.9 L110.3,467.4 L111,469 L111.8,470.8 L112.5,472.7 L113.2,474.5 L113.9,476.2 L114.6,477.7 L115.3,479.1 L116,480.3 L116.7,481.4 L117.4,482.3 L118.1,483.1 L118.9,483.8 L119.6,484.4 L120.3,484.9 L121,485.4 L121.7,485.7 L122.4,486.1 L123.1,486.4 L123.8,486.6 L124.5,486.8 L125.2,487.1 L126,487.3 L126.7,487.5 L127.4,487.7 L128.1,487.9 L128.8,488.1 L129.5,488.3 L130.2,488.5 L130.9,488.7 L131.6,489 L132.4,489.2 L133.1,489.5 L133.8,489.7 L134.5,490 L135.2,490.3 L135.9,490.7 L136.6,491 L137.3,491.4 L138,491.9 L138.7,492.3 L139.5,492.8 L140.2,493.3 L140.9,493.9 L141.6,494.5 L142.3,495.2 L143,495.8 L143.7,496.6 L144.4,497.3 L145.1,498.1 L145.9,499 L146.6,499.9 L147.3,500.8 L148,501.8 L148.7,502.8 L149.4,503.9 L150.1,505 L150.8,506.2 L151.5,507.4 L152.2,508.6 L153,509.9 L153.7,511.3 L154.4,512.6 L155.1,514.1 L155.8,515.5 L156.5,517 L157.2,518.6 L157.9,520.2 L158.6,521.8 L159.3,523.5 L160.1,525.2 L160.8,527 L161.5,528.8 L162.2,530.6 L162.9,532.5 L163.6,534.4 L164.3,536.3 L165,538.1 L165.7,539.8 L166.5,541.4 L167.2,542.8 L167.9,544.1 L168.6,545.2 L169.3,546.1 L170,546.9 L170.7,547.4 L171.4,547.8 L172.1,548.1 L172.8,548.2 L173.6,548.3 L174.3,548.4 L175,548.4 L175.7,548.5 L176.4,548.6 L177.1,548.7 L177.8,548.9 L178.5,549.1 L179.2,549.3 L180,549.5 L180.7,549.7 L181.4,550 L182.1,550.2 L182.8,550.5 L183.5,550.8 L184.2,551.1 L184.9,551.4 L185.6,551.7 L186.3,552 L187.1,552.3 L187.8,552.6 L188.5,552.9 L189.2,553.1 L189.9,553.4 L190.6,553.7 L191.3,554 L192,554.3 L192.7,554.5 L193.4,554.8 L194.2,555.1 L194.9,555.3 L195.6,555.6 L196.3,555.8 L197,556.1 L197.7,556.3 L198.4,556.6 L199.1,556.8 L199.8,557 L200.6,557.2 L201.3,557.5 L202,557.7 L202.7,557.9 L203.4,558.1 L204.1,558.3 L204.8,558.5 L205.5,558.7 L206.2,558.9 L206.9,559.1 L207.7,559.3 L208.4,559.4 L209.1,559.6 L209.8,559.8 L210.5,559.9" fill="none" stroke="#f69278" stroke-width="1.3" stroke-linejoin="round" stroke-linecap="round" /><path d="M26.5,563 L27.2,562.9 L27.9,562.8 L28.6,562.6 L29.3,562.5 L30.1,562.3 L30.8,562.1 L31.5,561.9 L32.2,561.7 L32.9,561.5 L33.6,561.2 L34.3,561 L35,560.7 L35.7,560.4 L36.4,560.1 L37.2,559.7 L37.9,559.4 L38.6,559 L39.3,558.6 L40,558.2 L40.7,557.8 L41.4,557.4 L42.1,556.9 L42.8,556.5 L43.6,556 L44.3,555.5 L45,554.9 L45.7,554.4 L46.4,553.8 L47.1,553.1 L47.8,552.5 L48.5,551.7 L49.2,550.9 L49.9,550.1 L50.7,549.2 L51.4,548.2 L52.1,547.1 L52.8,546 L53.5,544.8 L54.2,543.5 L54.9,542.1 L55.6,540.6 L56.3,539 L57,537.3 L57.8,535.5 L58.5,533.6 L59.2,531.6 L59.9,529.5 L60.6,527.4 L61.3,525.1 L62,522.7 L62.7,520.3 L63.4,517.9 L64.2,515.4 L64.9,512.9 L65.6,510.4 L66.3,507.9 L67,505.5 L67.7,503.1 L68.4,500.6 L69.1,498.1 L69.8,495.4 L70.5,492.6 L71.3,489.5 L72,486.1 L72.7,482.5 L73.4,478.8 L74.1,475.1 L74.8,471.4 L75.5,467.8 L76.2,464.4 L76.9,461.1 L77.7,458 L78.4,455 L79.1,452.1 L79.8,449.4 L80.5,446.9 L81.2,444.5 L81.9,442.3 L82.6,440.2 L83.3,438.4 L84,436.7 L84.8,435.2 L85.5,434 L86.2,432.9 L86.9,432.1 L87.6,431.5 L88.3,431.1 L89,430.9 L89.7,430.8 L90.4,431 L91.1,431.4 L91.9,431.9 L92.6,432.6 L93.3,433.4 L94,434.4 L94.7,435.5 L95.4,436.7 L96.1,438.1 L96.8,439.5 L97.5,441 L98.3,442.6 L99,444.2 L99.7,445.9 L100.4,447.5 L101.1,449.2 L101.8,450.9 L102.5,452.5 L103.2,454 L103.9,455.5 L104.6,456.9 L105.4,458.2 L106.1,459.4 L106.8,460.5 L107.5,461.6 L108.2,462.7 L108.9,463.9 L109.6,465.2 L110.3,466.6 L111,468.3 L111.8,470.1 L112.5,472 L113.2,473.9 L113.9,475.6 L114.6,477.2 L115.3,478.5 L116,479.8 L116.7,480.8 L117.4,481.8 L118.1,482.6 L118.9,483.3 L119.6,483.9 L120.3,484.4 L121,484.8 L121.7,485.2 L122.4,485.5 L123.1,485.7 L123.8,486 L124.5,486.2 L125.2,486.4 L126,486.6 L126.7,486.8 L127.4,487 L128.1,487.2 L128.8,487.4 L129.5,487.6 L130.2,487.8 L130.9,488 L131.6,488.2 L132.4,488.5 L133.1,488.7 L133.8,489 L134.5,489.3 L135.2,489.6 L135.9,490 L136.6,490.3 L137.3,490.7 L138,491.1 L138.7,491.6 L139.5,492.1 L140.2,492.6 L140.9,493.2 L141.6,493.8 L142.3,494.4 L143,495.1 L143.7,495.8 L144.4,496.6 L145.1,497.4 L145.9,498.3 L146.6,499.2 L147.3,500.1 L148,501.1 L148.7,502.1 L149.4,503.2 L150.1,504.3 L150.8,505.5 L151.5,506.7 L152.2,507.9 L153,509.2 L153.7,510.5 L154.4,511.9 L155.1,513.3 L155.8,514.8 L156.5,516.3 L157.2,517.9 L157.9,519.5 L158.6,521.1 L159.3,522.8 L160.1,524.6 L160.8,526.3 L161.5,528.2 L162.2,530.1 L162.9,532 L163.6,533.9 L164.3,535.8 L165,537.7 L165.7,539.4 L166.5,541 L167.2,542.5 L167.9,543.8 L168.6,545 L169.3,546 L170,546.7 L170.7,547.3 L171.4,547.7 L172.1,547.9 L172.8,548.1 L173.6,548.2 L174.3,548.2 L175,548.3 L175.7,548.4 L176.4,548.5 L177.1,548.6 L177.8,548.8 L178.5,548.9 L179.2,549.1 L180,549.4 L180.7,549.6 L181.4,549.9 L182.1,550.1 L182.8,550.4 L183.5,550.7 L184.2,551 L184.9,551.3 L185.6,551.6 L186.3,551.9 L187.1,552.2 L187.8,552.5 L188.5,552.8 L189.2,553 L189.9,553.3 L190.6,553.6 L191.3,553.9 L192,554.2 L192.7,554.4 L193.4,554.7 L194.2,555 L194.9,555.2 L195.6,555.5 L196.3,555.7 L197,556 L197.7,556.2 L198.4,556.5 L199.1,556.7 L199.8,556.9 L200.6,557.2 L201.3,557.4 L202,557.6 L202.7,557.8 L203.4,558 L204.1,558.2 L204.8,558.5 L205.5,558.6 L206.2,558.8 L206.9,559 L207.7,559.2 L208.4,559.4 L209.1,559.6 L209.8,559.7 L210.5,559.9" fill="none" stroke="#f27259" stroke-width="1.3" stroke-linejoin="round" stroke-linecap="round" /><path d="M26.5,563 L27.2,562.9 L27.9,562.8 L28.6,562.7 L29.3,562.5 L30.1,562.3 L30.8,562.2 L31.5,562 L32.2,561.7 L32.9,561.5 L33.6,561.3 L34.3,561 L35,560.7 L35.7,560.4 L36.4,560.1 L37.2,559.7 L37.9,559.4 L38.6,559 L39.3,558.6 L40,558.2 L40.7,557.8 L41.4,557.4 L42.1,556.9 L42.8,556.4 L43.6,556 L44.3,555.4 L45,554.9 L45.7,554.4 L46.4,553.8 L47.1,553.1 L47.8,552.5 L48.5,551.7 L49.2,550.9 L49.9,550.1 L50.7,549.2 L51.4,548.2 L52.1,547.2 L52.8,546 L53.5,544.8 L54.2,543.5 L54.9,542.1 L55.6,540.6 L56.3,539 L57,537.3 L57.8,535.5 L58.5,533.6 L59.2,531.6 L59.9,529.5 L60.6,527.3 L61.3,525.1 L62,522.7 L62.7,520.3 L63.4,517.8 L64.2,515.4 L64.9,512.9 L65.6,510.4 L66.3,507.9 L67,505.5 L67.7,503.1 L68.4,500.6 L69.1,498.1 L69.8,495.4 L70.5,492.6 L71.3,489.5 L72,486.1 L72.7,482.6 L73.4,478.8 L74.1,475.1 L74.8,471.4 L75.5,467.8 L76.2,464.4 L76.9,461.1 L77.7,458 L78.4,455 L79.1,452.1 L79.8,449.4 L80.5,446.8 L81.2,444.4 L81.9,442.2 L82.6,440.2 L83.3,438.3 L84,436.7 L84.8,435.2 L85.5,434 L86.2,433 L86.9,432.1 L87.6,431.5 L88.3,431.1 L89,430.9 L89.7,430.8 L90.4,431 L91.1,431.3 L91.9,431.8 L92.6,432.5 L93.3,433.3 L94,434.2 L94.7,435.3 L95.4,436.5 L96.1,437.9 L96.8,439.3 L97.5,440.8 L98.3,442.4 L99,444 L99.7,445.6 L100.4,447.3 L101.1,448.9 L101.8,450.5 L102.5,452.1 L103.2,453.7 L103.9,455.1 L104.6,456.5 L105.4,457.7 L106.1,458.9 L106.8,459.9 L107.5,461 L108.2,462 L108.9,463.2 L109.6,464.4 L110.3,465.9 L111,467.5 L111.8,469.4 L112.5,471.3 L113.2,473.2 L113.9,475 L114.6,476.6 L115.3,478 L116,479.2 L116.7,480.3 L117.4,481.2 L118.1,482.1 L118.9,482.7 L119.6,483.3 L120.3,483.8 L121,484.2 L121.7,484.6 L122.4,484.9 L123.1,485.1 L123.8,485.3 L124.5,485.6 L125.2,485.8 L126,486 L126.7,486.1 L127.4,486.3 L128.1,486.5 L128.8,486.7 L129.5,486.9 L130.2,487.1 L130.9,487.3 L131.6,487.5 L132.4,487.8 L133.1,488 L133.8,488.3 L134.5,488.6 L135.2,488.9 L135.9,489.2 L136.6,489.6 L137.3,490 L138,490.4 L138.7,490.9 L139.5,491.4 L140.2,491.9 L140.9,492.5 L141.6,493.1 L142.3,493.7 L143,494.4 L143.7,495.1 L144.4,495.9 L145.1,496.7 L145.9,497.6 L146.6,498.5 L147.3,499.4 L148,500.4 L148.7,501.4 L149.4,502.5 L150.1,503.6 L150.8,504.7 L151.5,505.9 L152.2,507.2 L153,508.5 L153.7,509.8 L154.4,511.2 L155.1,512.6 L155.8,514.1 L156.5,515.6 L157.2,517.2 L157.9,518.8 L158.6,520.4 L159.3,522.1 L160.1,523.9 L160.8,525.7 L161.5,527.5 L162.2,529.5 L162.9,531.4 L163.6,533.4 L164.3,535.4 L165,537.3 L165.7,539.1 L166.5,540.7 L167.2,542.2 L167.9,543.6 L168.6,544.8 L169.3,545.8 L170,546.6 L170.7,547.1 L171.4,547.5 L172.1,547.8 L172.8,547.9 L173.6,548 L174.3,548.1 L175,548.1 L175.7,548.2 L176.4,548.3 L177.1,548.5 L177.8,548.6 L178.5,548.8 L179.2,549 L180,549.2 L180.7,549.5 L181.4,549.7 L182.1,550 L182.8,550.3 L183.5,550.6 L184.2,550.9 L184.9,551.2 L185.6,551.5 L186.3,551.8 L187.1,552.1 L187.8,552.4 L188.5,552.6 L189.2,552.9 L189.9,553.2 L190.6,553.5 L191.3,553.8 L192,554.1 L192.7,554.3 L193.4,554.6 L194.2,554.9 L194.9,555.1 L195.6,555.4 L196.3,555.7 L197,555.9 L197.7,556.2 L198.4,556.4 L199.1,556.6 L199.8,556.9 L200.6,557.1 L201.3,557.3 L202,557.6 L202.7,557.8 L203.4,558 L204.1,558.2 L204.8,558.4 L205.5,558.6 L206.2,558.8 L206.9,559 L207.7,559.1 L208.4,559.3 L209.1,559.5 L209.8,559.7 L210.5,559.8" fill="none" stroke="#e94c3b" stroke-width="1.3" stroke-linejoin="round" stroke-linecap="round" /><path d="M26.5,563 L27.2,562.9 L27.9,562.8 L28.6,562.7 L29.3,562.5 L30.1,562.4 L30.8,562.2 L31.5,562 L32.2,561.8 L32.9,561.5 L33.6,561.3 L34.3,561 L35,560.7 L35.7,560.4 L36.4,560.1 L37.2,559.7 L37.9,559.4 L38.6,559 L39.3,558.6 L40,558.2 L40.7,557.8 L41.4,557.3 L42.1,556.9 L42.8,556.4 L43.6,555.9 L44.3,555.4 L45,554.9 L45.7,554.3 L46.4,553.7 L47.1,553.1 L47.8,552.4 L48.5,551.7 L49.2,550.9 L49.9,550.1 L50.7,549.2 L51.4,548.2 L52.1,547.2 L52.8,546.1 L53.5,544.9 L54.2,543.5 L54.9,542.2 L55.6,540.7 L56.3,539.1 L57,537.3 L57.8,535.5 L58.5,533.6 L59.2,531.6 L59.9,529.5 L60.6,527.3 L61.3,525.1 L62,522.7 L62.7,520.3 L63.4,517.8 L64.2,515.4 L64.9,512.9 L65.6,510.4 L66.3,507.9 L67,505.5 L67.7,503.1 L68.4,500.6 L69.1,498.1 L69.8,495.4 L70.5,492.6 L71.3,489.5 L72,486.2 L72.7,482.6 L73.4,478.9 L74.1,475.1 L74.8,471.4 L75.5,467.9 L76.2,464.4 L76.9,461.1 L77.7,458 L78.4,454.9 L79.1,452.1 L79.8,449.4 L80.5,446.8 L81.2,444.4 L81.9,442.2 L82.6,440.2 L83.3,438.3 L84,436.7 L84.8,435.3 L85.5,434 L86.2,433 L86.9,432.2 L87.6,431.5 L88.3,431.1 L89,430.9 L89.7,430.8 L90.4,431 L91.1,431.3 L91.9,431.7 L92.6,432.4 L93.3,433.2 L94,434.1 L94.7,435.2 L95.4,436.4 L96.1,437.7 L96.8,439.1 L97.5,440.6 L98.3,442.1 L99,443.7 L99.7,445.4 L100.4,447 L101.1,448.6 L101.8,450.2 L102.5,451.8 L103.2,453.3 L103.9,454.7 L104.6,456.1 L105.4,457.3 L106.1,458.4 L106.8,459.4 L107.5,460.4 L108.2,461.4 L108.9,462.5 L109.6,463.7 L110.3,465.1 L111,466.8 L111.8,468.6 L112.5,470.6 L113.2,472.6 L113.9,474.4 L114.6,476 L115.3,477.5 L116,478.7 L116.7,479.8 L117.4,480.7 L118.1,481.5 L118.9,482.2 L119.6,482.8 L120.3,483.3 L121,483.7 L121.7,484 L122.4,484.3 L123.1,484.5 L123.8,484.7 L124.5,484.9 L125.2,485.1 L126,485.3 L126.7,485.5 L127.4,485.6 L128.1,485.8 L128.8,486 L129.5,486.2 L130.2,486.4 L130.9,486.6 L131.6,486.8 L132.4,487.1 L133.1,487.3 L133.8,487.6 L134.5,487.9 L135.2,488.2 L135.9,488.5 L136.6,488.9 L137.3,489.3 L138,489.7 L138.7,490.2 L139.5,490.7 L140.2,491.2 L140.9,491.7 L141.6,492.4 L142.3,493 L143,493.7 L143.7,494.4 L144.4,495.2 L145.1,496 L145.9,496.8 L146.6,497.7 L147.3,498.7 L148,499.7 L148.7,500.7 L149.4,501.7 L150.1,502.9 L150.8,504 L151.5,505.2 L152.2,506.5 L153,507.7 L153.7,509.1 L154.4,510.5 L155.1,511.9 L155.8,513.4 L156.5,514.9 L157.2,516.4 L157.9,518.1 L158.6,519.7 L159.3,521.4 L160.1,523.2 L160.8,525 L161.5,526.9 L162.2,528.9 L162.9,530.9 L163.6,532.9 L164.3,534.9 L165,536.8 L165.7,538.7 L166.5,540.4 L167.2,542 L167.9,543.4 L168.6,544.6 L169.3,545.6 L170,546.4 L170.7,547 L171.4,547.4 L172.1,547.6 L172.8,547.8 L173.6,547.9 L174.3,547.9 L175,548 L175.7,548.1 L176.4,548.2 L177.1,548.3 L177.8,548.5 L178.5,548.7 L179.2,548.9 L180,549.1 L180.7,549.4 L181.4,549.6 L182.1,549.9 L182.8,550.2 L183.5,550.4 L184.2,550.7 L184.9,551 L185.6,551.3 L186.3,551.6 L187.1,551.9 L187.8,552.2 L188.5,552.5 L189.2,552.8 L189.9,553.1 L190.6,553.4 L191.3,553.7 L192,554 L192.7,554.3 L193.4,554.5 L194.2,554.8 L194.9,555.1 L195.6,555.3 L196.3,555.6 L197,555.8 L197.7,556.1 L198.4,556.3 L199.1,556.6 L199.8,556.8 L200.6,557 L201.3,557.3 L202,557.5 L202.7,557.7 L203.4,557.9 L204.1,558.1 L204.8,558.3 L205.5,558.5 L206.2,558.7 L206.9,558.9 L207.7,559.1 L208.4,559.3 L209.1,559.4 L209.8,559.6 L210.5,559.8" fill="none" stroke="#db3329" stroke-width="1.3" stroke-linejoin="round" stroke-linecap="round" /><path d="M26.5,562.9 L27.2,562.9 L27.9,562.8 L28.6,562.7 L29.3,562.6 L30.1,562.4 L30.8,562.2 L31.5,562 L32.2,561.8 L32.9,561.6 L33.6,561.3 L34.3,561 L35,560.7 L35.7,560.4 L36.4,560.1 L37.2,559.7 L37.9,559.4 L38.6,559 L39.3,558.6 L40,558.2 L40.7,557.7 L41.4,557.3 L42.1,556.8 L42.8,556.4 L43.6,555.9 L44.3,555.4 L45,554.9 L45.7,554.3 L46.4,553.7 L47.1,553.1 L47.8,552.4 L48.5,551.7 L49.2,551 L49.9,550.1 L50.7,549.2 L51.4,548.3 L52.1,547.2 L52.8,546.1 L53.5,544.9 L54.2,543.6 L54.9,542.2 L55.6,540.7 L56.3,539.1 L57,537.3 L57.8,535.5 L58.5,533.6 L59.2,531.6 L59.9,529.5 L60.6,527.3 L61.3,525 L62,522.7 L62.7,520.3 L63.4,517.8 L64.2,515.4 L64.9,512.9 L65.6,510.4 L66.3,507.9 L67,505.5 L67.7,503.1 L68.4,500.6 L69.1,498.1 L69.8,495.4 L70.5,492.6 L71.3,489.5 L72,486.2 L72.7,482.6 L73.4,478.9 L74.1,475.1 L74.8,471.4 L75.5,467.9 L76.2,464.4 L76.9,461.1 L77.7,457.9 L78.4,454.9 L79.1,452 L79.8,449.3 L80.5,446.8 L81.2,444.4 L81.9,442.2 L82.6,440.2 L83.3,438.3 L84,436.7 L84.8,435.3 L85.5,434 L86.2,433 L86.9,432.2 L87.6,431.6 L88.3,431.1 L89,430.9 L89.7,430.8 L90.4,431 L91.1,431.2 L91.9,431.7 L92.6,432.3 L93.3,433.1 L94,434 L94.7,435 L95.4,436.2 L96.1,437.5 L96.8,438.9 L97.5,440.4 L98.3,441.9 L99,443.5 L99.7,445.1 L100.4,446.7 L101.1,448.4 L101.8,449.9 L102.5,451.5 L103.2,453 L103.9,454.3 L104.6,455.6 L105.4,456.8 L106.1,457.8 L106.8,458.8 L107.5,459.7 L108.2,460.7 L108.9,461.7 L109.6,462.9 L110.3,464.3 L111,466 L111.8,467.9 L112.5,469.9 L113.2,471.9 L113.9,473.8 L114.6,475.5 L115.3,476.9 L116,478.2 L116.7,479.3 L117.4,480.2 L118.1,481 L118.9,481.7 L119.6,482.2 L120.3,482.7 L121,483.1 L121.7,483.4 L122.4,483.7 L123.1,483.9 L123.8,484.1 L124.5,484.3 L125.2,484.4 L126,484.6 L126.7,484.8 L127.4,485 L128.1,485.1 L128.8,485.3 L129.5,485.5 L130.2,485.7 L130.9,485.9 L131.6,486.1 L132.4,486.3 L133.1,486.6 L133.8,486.9 L134.5,487.2 L135.2,487.5 L135.9,487.8 L136.6,488.2 L137.3,488.6 L138,489 L138.7,489.4 L139.5,489.9 L140.2,490.5 L140.9,491 L141.6,491.6 L142.3,492.3 L143,493 L143.7,493.7 L144.4,494.5 L145.1,495.3 L145.9,496.1 L146.6,497 L147.3,498 L148,498.9 L148.7,500 L149.4,501 L150.1,502.1 L150.8,503.3 L151.5,504.5 L152.2,505.7 L153,507 L153.7,508.4 L154.4,509.7 L155.1,511.2 L155.8,512.6 L156.5,514.2 L157.2,515.7 L157.9,517.3 L158.6,519 L159.3,520.8 L160.1,522.5 L160.8,524.4 L161.5,526.3 L162.2,528.3 L162.9,530.3 L163.6,532.4 L164.3,534.4 L165,536.4 L165.7,538.3 L166.5,540.1 L167.2,541.7 L167.9,543.1 L168.6,544.4 L169.3,545.4 L170,546.2 L170.7,546.8 L171.4,547.2 L172.1,547.5 L172.8,547.6 L173.6,547.7 L174.3,547.8 L175,547.8 L175.7,547.9 L176.4,548.1 L177.1,548.2 L177.8,548.4 L178.5,548.6 L179.2,548.8 L180,549 L180.7,549.2 L181.4,549.5 L182.1,549.8 L182.8,550 L183.5,550.3 L184.2,550.6 L184.9,550.9 L185.6,551.2 L186.3,551.5 L187.1,551.8 L187.8,552.1 L188.5,552.4 L189.2,552.7 L189.9,553 L190.6,553.3 L191.3,553.6 L192,553.9 L192.7,554.2 L193.4,554.4 L194.2,554.7 L194.9,555 L195.6,555.2 L196.3,555.5 L197,555.8 L197.7,556 L198.4,556.3 L199.1,556.5 L199.8,556.7 L200.6,557 L201.3,557.2 L202,557.4 L202.7,557.6 L203.4,557.9 L204.1,558.1 L204.8,558.3 L205.5,558.5 L206.2,558.7 L206.9,558.8 L207.7,559 L208.4,559.2 L209.1,559.4 L209.8,559.5 L210.5,559.7" fill="none" stroke="#c62624" stroke-width="1.8" stroke-linejoin="round" stroke-linecap="round" /><line x1="118.9" y1="497.5" x2="152.8" y2="477.1" stroke="#111" stroke-width="1.1" /><path d="M157,474.6 L152.3,480.4 L152.8,477.1 L149.7,476 Z" fill="#111"/><text x="239.6" y="11.8" font-size="17" text-anchor="start" font-weight="bold" fill="#1e1414" >d</text><rect x="262" y="19.3" width="184.6" height="147.9" fill="none" stroke="#555" stroke-width="1"/><line x1="262" y1="167.2" x2="262" y2="170.2" stroke="#2b2b2b" stroke-width="1" /><line x1="285.1" y1="167.2" x2="285.1" y2="170.2" stroke="#2b2b2b" stroke-width="1" /><line x1="308.1" y1="167.2" x2="308.1" y2="170.2" stroke="#2b2b2b" stroke-width="1" /><line x1="331.2" y1="167.2" x2="331.2" y2="170.2" stroke="#2b2b2b" stroke-width="1" /><line x1="354.3" y1="167.2" x2="354.3" y2="170.2" stroke="#2b2b2b" stroke-width="1" /><line x1="377.4" y1="167.2" x2="377.4" y2="170.2" stroke="#2b2b2b" stroke-width="1" /><line x1="400.5" y1="167.2" x2="400.5" y2="170.2" stroke="#2b2b2b" stroke-width="1" /><line x1="423.5" y1="167.2" x2="423.5" y2="170.2" stroke="#2b2b2b" stroke-width="1" /><line x1="446.6" y1="167.2" x2="446.6" y2="170.2" stroke="#2b2b2b" stroke-width="1" /><line x1="273.5" y1="167.2" x2="273.5" y2="169" stroke="#2b2b2b" stroke-width="1" /><line x1="296.6" y1="167.2" x2="296.6" y2="169" stroke="#2b2b2b" stroke-width="1" /><line x1="319.7" y1="167.2" x2="319.7" y2="169" stroke="#2b2b2b" stroke-width="1" /><line x1="342.8" y1="167.2" x2="342.8" y2="169" stroke="#2b2b2b" stroke-width="1" /><line x1="365.8" y1="167.2" x2="365.8" y2="169" stroke="#2b2b2b" stroke-width="1" /><line x1="388.9" y1="167.2" x2="388.9" y2="169" stroke="#2b2b2b" stroke-width="1" /><line x1="412" y1="167.2" x2="412" y2="169" stroke="#2b2b2b" stroke-width="1" /><line x1="435.1" y1="167.2" x2="435.1" y2="169" stroke="#2b2b2b" stroke-width="1" /><text x="262" y="178.8" font-size="8.5" text-anchor="middle" font-weight="normal" fill="#1a1a1a" >30</text><text x="285.1" y="178.8" font-size="8.5" text-anchor="middle" font-weight="normal" fill="#1a1a1a" >40</text><text x="308.1" y="178.8" font-size="8.5" text-anchor="middle" font-weight="normal" fill="#1a1a1a" >50</text><text x="331.2" y="178.8" font-size="8.5" text-anchor="middle" font-weight="normal" fill="#1a1a1a" >60</text><text x="354.3" y="178.8" font-size="8.5" text-anchor="middle" font-weight="normal" fill="#1a1a1a" >70</text><text x="377.4" y="178.8" font-size="8.5" text-anchor="middle" font-weight="normal" fill="#1a1a1a" >80</text><text x="400.5" y="178.8" font-size="8.5" text-anchor="middle" font-weight="normal" fill="#1a1a1a" >90</text><text x="423.5" y="178.8" font-size="8.5" text-anchor="middle" font-weight="normal" fill="#1a1a1a" >100</text><text x="446.6" y="178.8" font-size="8.5" text-anchor="middle" font-weight="normal" fill="#1a1a1a" >110</text><line x1="259" y1="167.2" x2="262" y2="167.2" stroke="#2b2b2b" stroke-width="1" /><line x1="259" y1="130.2" x2="262" y2="130.2" stroke="#2b2b2b" stroke-width="1" /><line x1="259" y1="93.3" x2="262" y2="93.3" stroke="#2b2b2b" stroke-width="1" /><line x1="259" y1="56.3" x2="262" y2="56.3" stroke="#2b2b2b" stroke-width="1" /><line x1="259" y1="19.3" x2="262" y2="19.3" stroke="#2b2b2b" stroke-width="1" /><line x1="260.2" y1="148.7" x2="262" y2="148.7" stroke="#2b2b2b" stroke-width="1" /><line x1="260.2" y1="111.7" x2="262" y2="111.7" stroke="#2b2b2b" stroke-width="1" /><line x1="260.2" y1="74.8" x2="262" y2="74.8" stroke="#2b2b2b" stroke-width="1" /><line x1="260.2" y1="37.8" x2="262" y2="37.8" stroke="#2b2b2b" stroke-width="1" /><text x="258.3" y="170.3" font-size="8.5" text-anchor="end" font-weight="normal" fill="#1a1a1a" >0.5</text><text x="258.3" y="133.3" font-size="8.5" text-anchor="end" font-weight="normal" fill="#1a1a1a" >0.6</text><text x="258.3" y="96.4" font-size="8.5" text-anchor="end" font-weight="normal" fill="#1a1a1a" >0.7</text><text x="258.3" y="59.4" font-size="8.5" text-anchor="end" font-weight="normal" fill="#1a1a1a" >0.8</text><text x="258.3" y="22.4" font-size="8.5" text-anchor="end" font-weight="normal" fill="#1a1a1a" >0.9</text><text x="320.1" y="193.4" font-size="9.2" text-anchor="start" font-weight="normal" fill="#1a1a1a" >Temperature</text><text x="374.6" y="193.4" font-size="9" text-anchor="start" font-weight="normal" fill="#1a1a1a" >(</text><text x="377" y="193.5" font-size="8.5" text-anchor="start" font-weight="normal" fill="#444" >&#176;</text><text x="379.4" y="193.9" font-size="8" text-anchor="start" font-weight="normal" fill="#1a1a1a" >C</text><text x="386.6" y="193.4" font-size="9" text-anchor="start" font-weight="normal" fill="#1a1a1a" >)</text><text x="0" y="0" font-size="9" text-anchor="middle" font-weight="normal" fill="#1a1a1a" transform="translate(241,93.2) rotate(-90)"><tspan font-style="italic">I</tspan><tspan font-size="6.9" dy="2">0-1</tspan><tspan dy="-2">/</tspan><tspan font-style="italic">I</tspan><tspan font-size="6.9" dy="2">0-0</tspan><tspan dy="-2"> (a.u.)</tspan></text><line x1="262" y1="30.4" x2="303.3" y2="30.4" stroke="#7a7a7a" stroke-width="0.9" stroke-dasharray="4.4,1.5,0.7,2.2"/><line x1="262" y1="48.1" x2="281.4" y2="48.1" stroke="#bdbdbd" stroke-width="0.9" stroke-dasharray="4.4,1.5,0.7,2.2"/><line x1="262" y1="144.3" x2="446.6" y2="144.3" stroke="#7a7a7a" stroke-width="0.9" stroke-dasharray="4.4,1.5,0.7,2.2"/><line x1="262" y1="153.3" x2="446.6" y2="153.3" stroke="#7a7a7a" stroke-width="0.9" stroke-dasharray="4.4,1.5,0.7,2.2"/><line x1="272.4" y1="49.6" x2="272.4" y2="153" stroke="#c2c2c2" stroke-width="0.8" /><path d="M272.4,49.6 l-1.3,3.5 l2.6,0 Z" fill="#c2c2c2"/><path d="M272.4,153 l-1.3,-3.5 l2.6,0 Z" fill="#c2c2c2"/><line x1="297.4" y1="32.4" x2="297.4" y2="143.8" stroke="#c2c2c2" stroke-width="0.8" /><path d="M297.4,32.4 l-1.3,3.5 l2.6,0 Z" fill="#c2c2c2"/><path d="M297.4,143.8 l-1.3,-3.5 l2.6,0 Z" fill="#c2c2c2"/><text x="274.6" y="104.3" font-size="9" text-anchor="start" font-weight="normal" fill="#1a1a1a" >0.284</text><text x="300.9" y="126.8" font-size="9" text-anchor="start" font-weight="normal" fill="#1a1a1a" >0.307</text><text x="368.3" y="94.4" font-size="7.6" text-anchor="start" font-weight="normal" fill="#1a1a1a" >Aggregation</text><line x1="417.6" y1="119.7" x2="417.6" y2="69.7" stroke="#111" stroke-width="1.0" /><path d="M417.6,65.5 L419.6,71.5 L417.6,69.7 L415.6,71.5 Z" fill="#111"/><g clip-path="url(#cp1)"><path d="M262,48.1 L285.1,56.3 L308.1,88.1 L331.2,126.5 L354.3,148.3 L377.4,153.5 L400.5,144.3 L423.5,143.9 L446.6,134.7" fill="none" stroke="#3d6c9e" stroke-width="1.0" stroke-linejoin="round" stroke-linecap="round" /><circle cx="262" cy="48.1" r="2.0" fill="#2f5f92"/><circle cx="261.2" cy="47.5" r="0.8" fill="#d6e4f2" fill-opacity="0.85"/><circle cx="285.1" cy="56.3" r="2.0" fill="#2f5f92"/><circle cx="284.3" cy="55.7" r="0.8" fill="#d6e4f2" fill-opacity="0.85"/><circle cx="308.1" cy="88.1" r="2.0" fill="#2f5f92"/><circle cx="307.3" cy="87.5" r="0.8" fill="#d6e4f2" fill-opacity="0.85"/><circle cx="331.2" cy="126.5" r="2.0" fill="#2f5f92"/><circle cx="330.4" cy="125.9" r="0.8" fill="#d6e4f2" fill-opacity="0.85"/><circle cx="354.3" cy="148.3" r="2.0" fill="#2f5f92"/><circle cx="353.5" cy="147.7" r="0.8" fill="#d6e4f2" fill-opacity="0.85"/><circle cx="377.4" cy="153.5" r="2.0" fill="#2f5f92"/><circle cx="376.6" cy="152.9" r="0.8" fill="#d6e4f2" fill-opacity="0.85"/><circle cx="400.5" cy="144.3" r="2.0" fill="#2f5f92"/><circle cx="399.7" cy="143.7" r="0.8" fill="#d6e4f2" fill-opacity="0.85"/><circle cx="423.5" cy="143.9" r="2.0" fill="#2f5f92"/><circle cx="422.7" cy="143.3" r="0.8" fill="#d6e4f2" fill-opacity="0.85"/><circle cx="446.6" cy="134.7" r="2.0" fill="#2f5f92"/><circle cx="445.8" cy="134.1" r="0.8" fill="#d6e4f2" fill-opacity="0.85"/><path d="M262,30.4 L285.1,39.6 L308.1,84.4 L331.2,122.1 L354.3,144.3 L377.4,144.3 L400.5,141.3 L423.5,139.5 L446.6,132.1" fill="none" stroke="#da5050" stroke-width="1.0" stroke-linejoin="round" stroke-linecap="round" /><circle cx="262" cy="30.4" r="2.0" fill="#c94242"/><circle cx="261.2" cy="29.8" r="0.8" fill="#f8d8d8" fill-opacity="0.85"/><circle cx="285.1" cy="39.6" r="2.0" fill="#c94242"/><circle cx="284.3" cy="39" r="0.8" fill="#f8d8d8" fill-opacity="0.85"/><circle cx="308.1" cy="84.4" r="2.0" fill="#c94242"/><circle cx="307.3" cy="83.8" r="0.8" fill="#f8d8d8" fill-opacity="0.85"/><circle cx="331.2" cy="122.1" r="2.0" fill="#c94242"/><circle cx="330.4" cy="121.5" r="0.8" fill="#f8d8d8" fill-opacity="0.85"/><circle cx="354.3" cy="144.3" r="2.0" fill="#c94242"/><circle cx="353.5" cy="143.7" r="0.8" fill="#f8d8d8" fill-opacity="0.85"/><circle cx="377.4" cy="144.3" r="2.0" fill="#c94242"/><circle cx="376.6" cy="143.7" r="0.8" fill="#f8d8d8" fill-opacity="0.85"/><circle cx="400.5" cy="141.3" r="2.0" fill="#c94242"/><circle cx="399.7" cy="140.7" r="0.8" fill="#f8d8d8" fill-opacity="0.85"/><circle cx="423.5" cy="139.5" r="2.0" fill="#c94242"/><circle cx="422.7" cy="138.9" r="0.8" fill="#f8d8d8" fill-opacity="0.85"/><circle cx="446.6" cy="132.1" r="2.0" fill="#c94242"/><circle cx="445.8" cy="131.5" r="0.8" fill="#f8d8d8" fill-opacity="0.85"/></g><rect x="262" y="19.3" width="184.6" height="147.9" fill="none" stroke="#555" stroke-width="1"/><line x1="336.7" y1="32.9" x2="357.2" y2="32.9" stroke="#5f86b2" stroke-width="1" /><circle cx="346.9" cy="32.9" r="2.1" fill="#2f5f92"/><circle cx="346.1" cy="32.3" r="0.8" fill="#d6e4f2" fill-opacity="0.85"/><text x="359.8" y="36" font-size="9" text-anchor="start" font-weight="normal" fill="#1a1a1a" >BTP-eC9</text><line x1="336.7" y1="43.9" x2="357.2" y2="43.9" stroke="#e07f7f" stroke-width="1" /><circle cx="346.9" cy="43.9" r="2.1" fill="#c94242"/><circle cx="346.1" cy="43.3" r="0.8" fill="#f8d8d8" fill-opacity="0.85"/><text x="359.8" y="47" font-size="9" text-anchor="start" font-weight="normal" fill="#1a1a1a" >BTP-eC9-sonicated</text><text x="239.6" y="213.8" font-size="17" text-anchor="start" font-weight="bold" fill="#1e1414" >e</text><rect x="262" y="218.4" width="184.6" height="148.1" fill="none" stroke="#555" stroke-width="1"/><line x1="262" y1="366.5" x2="262" y2="369.5" stroke="#2b2b2b" stroke-width="1" /><line x1="285.1" y1="366.5" x2="285.1" y2="369.5" stroke="#2b2b2b" stroke-width="1" /><line x1="308.1" y1="366.5" x2="308.1" y2="369.5" stroke="#2b2b2b" stroke-width="1" /><line x1="331.2" y1="366.5" x2="331.2" y2="369.5" stroke="#2b2b2b" stroke-width="1" /><line x1="354.3" y1="366.5" x2="354.3" y2="369.5" stroke="#2b2b2b" stroke-width="1" /><line x1="377.4" y1="366.5" x2="377.4" y2="369.5" stroke="#2b2b2b" stroke-width="1" /><line x1="400.5" y1="366.5" x2="400.5" y2="369.5" stroke="#2b2b2b" stroke-width="1" /><line x1="423.5" y1="366.5" x2="423.5" y2="369.5" stroke="#2b2b2b" stroke-width="1" /><line x1="446.6" y1="366.5" x2="446.6" y2="369.5" stroke="#2b2b2b" stroke-width="1" /><line x1="273.5" y1="366.5" x2="273.5" y2="368.3" stroke="#2b2b2b" stroke-width="1" /><line x1="296.6" y1="366.5" x2="296.6" y2="368.3" stroke="#2b2b2b" stroke-width="1" /><line x1="319.7" y1="366.5" x2="319.7" y2="368.3" stroke="#2b2b2b" stroke-width="1" /><line x1="342.8" y1="366.5" x2="342.8" y2="368.3" stroke="#2b2b2b" stroke-width="1" /><line x1="365.8" y1="366.5" x2="365.8" y2="368.3" stroke="#2b2b2b" stroke-width="1" /><line x1="388.9" y1="366.5" x2="388.9" y2="368.3" stroke="#2b2b2b" stroke-width="1" /><line x1="412" y1="366.5" x2="412" y2="368.3" stroke="#2b2b2b" stroke-width="1" /><line x1="435.1" y1="366.5" x2="435.1" y2="368.3" stroke="#2b2b2b" stroke-width="1" /><text x="262" y="378" font-size="8.5" text-anchor="middle" font-weight="normal" fill="#1a1a1a" >30</text><text x="285.1" y="378" font-size="8.5" text-anchor="middle" font-weight="normal" fill="#1a1a1a" >40</text><text x="308.1" y="378" font-size="8.5" text-anchor="middle" font-weight="normal" fill="#1a1a1a" >50</text><text x="331.2" y="378" font-size="8.5" text-anchor="middle" font-weight="normal" fill="#1a1a1a" >60</text><text x="354.3" y="378" font-size="8.5" text-anchor="middle" font-weight="normal" fill="#1a1a1a" >70</text><text x="377.4" y="378" font-size="8.5" text-anchor="middle" font-weight="normal" fill="#1a1a1a" >80</text><text x="400.5" y="378" font-size="8.5" text-anchor="middle" font-weight="normal" fill="#1a1a1a" >90</text><text x="423.5" y="378" font-size="8.5" text-anchor="middle" font-weight="normal" fill="#1a1a1a" >100</text><text x="446.6" y="378" font-size="8.5" text-anchor="middle" font-weight="normal" fill="#1a1a1a" >110</text><line x1="259" y1="350" x2="262" y2="350" stroke="#2b2b2b" stroke-width="1" /><line x1="259" y1="317.1" x2="262" y2="317.1" stroke="#2b2b2b" stroke-width="1" /><line x1="259" y1="284.2" x2="262" y2="284.2" stroke="#2b2b2b" stroke-width="1" /><line x1="259" y1="251.3" x2="262" y2="251.3" stroke="#2b2b2b" stroke-width="1" /><line x1="259" y1="218.4" x2="262" y2="218.4" stroke="#2b2b2b" stroke-width="1" /><line x1="260.2" y1="333.6" x2="262" y2="333.6" stroke="#2b2b2b" stroke-width="1" /><line x1="260.2" y1="300.7" x2="262" y2="300.7" stroke="#2b2b2b" stroke-width="1" /><line x1="260.2" y1="267.8" x2="262" y2="267.8" stroke="#2b2b2b" stroke-width="1" /><line x1="260.2" y1="234.9" x2="262" y2="234.9" stroke="#2b2b2b" stroke-width="1" /><text x="258.3" y="353.1" font-size="8.5" text-anchor="end" font-weight="normal" fill="#1a1a1a" >0.5</text><text x="258.3" y="320.2" font-size="8.5" text-anchor="end" font-weight="normal" fill="#1a1a1a" >0.6</text><text x="258.3" y="287.3" font-size="8.5" text-anchor="end" font-weight="normal" fill="#1a1a1a" >0.7</text><text x="258.3" y="254.4" font-size="8.5" text-anchor="end" font-weight="normal" fill="#1a1a1a" >0.8</text><text x="258.3" y="221.5" font-size="8.5" text-anchor="end" font-weight="normal" fill="#1a1a1a" >0.9</text><text x="320.1" y="392.6" font-size="9.2" text-anchor="start" font-weight="normal" fill="#1a1a1a" >Temperature</text><text x="374.6" y="392.6" font-size="9" text-anchor="start" font-weight="normal" fill="#1a1a1a" >(</text><text x="377" y="392.7" font-size="8.5" text-anchor="start" font-weight="normal" fill="#444" >&#176;</text><text x="379.4" y="393.1" font-size="8" text-anchor="start" font-weight="normal" fill="#1a1a1a" >C</text><text x="386.6" y="392.6" font-size="9" text-anchor="start" font-weight="normal" fill="#1a1a1a" >)</text><text x="0" y="0" font-size="9" text-anchor="middle" font-weight="normal" fill="#1a1a1a" transform="translate(241,291.6) rotate(-90)"><tspan font-style="italic">I</tspan><tspan font-size="6.9" dy="2">0-1</tspan><tspan dy="-2">/</tspan><tspan font-style="italic">I</tspan><tspan font-size="6.9" dy="2">0-0</tspan><tspan dy="-2"> (a.u.)</tspan></text><line x1="262" y1="233.2" x2="346.6" y2="233.2" stroke="#ababab" stroke-width="0.9" stroke-dasharray="2.3,1.6,0.6,2.2"/><line x1="262" y1="257.2" x2="380.8" y2="257.2" stroke="#a6a6a6" stroke-width="0.9" stroke-dasharray="2.3,1.6,0.6,2.2"/><line x1="262" y1="329.6" x2="446.6" y2="329.6" stroke="#bdbdbd" stroke-width="0.9" stroke-dasharray="2.3,1.6,0.6,2.2"/><line x1="262" y1="352.3" x2="446.6" y2="352.3" stroke="#888888" stroke-width="0.9" stroke-dasharray="2.3,1.6,0.6,2.2"/><line x1="320.1" y1="234.7" x2="320.1" y2="352" stroke="#c2c2c2" stroke-width="0.8" /><path d="M320.1,234.7 l-1.3,3.5 l2.6,0 Z" fill="#c2c2c2"/><path d="M320.1,352 l-1.3,-3.5 l2.6,0 Z" fill="#c2c2c2"/><line x1="368" y1="258.7" x2="368" y2="329.3" stroke="#c2c2c2" stroke-width="0.8" /><path d="M368,258.7 l-1.3,3.5 l2.6,0 Z" fill="#c2c2c2"/><path d="M368,329.3 l-1.3,-3.5 l2.6,0 Z" fill="#c2c2c2"/><text x="294.8" y="308.6" font-size="9" text-anchor="start" font-weight="normal" fill="#1a1a1a" >0.362</text><text x="374.3" y="290.7" font-size="9" text-anchor="start" font-weight="normal" fill="#1a1a1a" >0.220</text><text x="267" y="281.1" font-size="7.6" text-anchor="start" font-weight="normal" fill="#1a1a1a" >Aggregation</text><line x1="275.3" y1="264.8" x2="275.3" y2="233.7" stroke="#111" stroke-width="1.0" /><path d="M275.3,229.5 L277.3,235.5 L275.3,233.7 L273.3,235.5 Z" fill="#111"/><g clip-path="url(#cp2)"><path d="M262,257.2 L285.1,260.2 L308.1,267.8 L331.2,282.9 L354.3,305.6 L377.4,308.6 L400.5,319.1 L423.5,318.1 L446.6,330.3" fill="none" stroke="#3d6c9e" stroke-width="1.0" stroke-linejoin="round" stroke-linecap="round" /><circle cx="262" cy="257.2" r="2.0" fill="#2f5f92"/><circle cx="261.2" cy="256.6" r="0.8" fill="#d6e4f2" fill-opacity="0.85"/><circle cx="285.1" cy="260.2" r="2.0" fill="#2f5f92"/><circle cx="284.3" cy="259.6" r="0.8" fill="#d6e4f2" fill-opacity="0.85"/><circle cx="308.1" cy="267.8" r="2.0" fill="#2f5f92"/><circle cx="307.3" cy="267.2" r="0.8" fill="#d6e4f2" fill-opacity="0.85"/><circle cx="331.2" cy="282.9" r="2.0" fill="#2f5f92"/><circle cx="330.4" cy="282.3" r="0.8" fill="#d6e4f2" fill-opacity="0.85"/><circle cx="354.3" cy="305.6" r="2.0" fill="#2f5f92"/><circle cx="353.5" cy="305" r="0.8" fill="#d6e4f2" fill-opacity="0.85"/><circle cx="377.4" cy="308.6" r="2.0" fill="#2f5f92"/><circle cx="376.6" cy="308" r="0.8" fill="#d6e4f2" fill-opacity="0.85"/><circle cx="400.5" cy="319.1" r="2.0" fill="#2f5f92"/><circle cx="399.7" cy="318.5" r="0.8" fill="#d6e4f2" fill-opacity="0.85"/><circle cx="423.5" cy="318.1" r="2.0" fill="#2f5f92"/><circle cx="422.7" cy="317.5" r="0.8" fill="#d6e4f2" fill-opacity="0.85"/><circle cx="446.6" cy="330.3" r="2.0" fill="#2f5f92"/><circle cx="445.8" cy="329.7" r="0.8" fill="#d6e4f2" fill-opacity="0.85"/><path d="M262,233.2 L285.1,238.1 L308.1,248 L331.2,276 L354.3,305.9 L377.4,324.4 L400.5,330 L423.5,346.1 L446.6,352.3" fill="none" stroke="#da5050" stroke-width="1.0" stroke-linejoin="round" stroke-linecap="round" /><circle cx="262" cy="233.2" r="2.0" fill="#c94242"/><circle cx="261.2" cy="232.6" r="0.8" fill="#f8d8d8" fill-opacity="0.85"/><circle cx="285.1" cy="238.1" r="2.0" fill="#c94242"/><circle cx="284.3" cy="237.5" r="0.8" fill="#f8d8d8" fill-opacity="0.85"/><circle cx="308.1" cy="248" r="2.0" fill="#c94242"/><circle cx="307.3" cy="247.4" r="0.8" fill="#f8d8d8" fill-opacity="0.85"/><circle cx="331.2" cy="276" r="2.0" fill="#c94242"/><circle cx="330.4" cy="275.4" r="0.8" fill="#f8d8d8" fill-opacity="0.85"/><circle cx="354.3" cy="305.9" r="2.0" fill="#c94242"/><circle cx="353.5" cy="305.3" r="0.8" fill="#f8d8d8" fill-opacity="0.85"/><circle cx="377.4" cy="324.4" r="2.0" fill="#c94242"/><circle cx="376.6" cy="323.8" r="0.8" fill="#f8d8d8" fill-opacity="0.85"/><circle cx="400.5" cy="330" r="2.0" fill="#c94242"/><circle cx="399.7" cy="329.4" r="0.8" fill="#f8d8d8" fill-opacity="0.85"/><circle cx="423.5" cy="346.1" r="2.0" fill="#c94242"/><circle cx="422.7" cy="345.5" r="0.8" fill="#f8d8d8" fill-opacity="0.85"/><circle cx="446.6" cy="352.3" r="2.0" fill="#c94242"/><circle cx="445.8" cy="351.7" r="0.8" fill="#f8d8d8" fill-opacity="0.85"/></g><rect x="262" y="218.4" width="184.6" height="148.1" fill="none" stroke="#555" stroke-width="1"/><line x1="354" y1="226.6" x2="373.9" y2="226.6" stroke="#5f86b2" stroke-width="1" /><circle cx="363.9" cy="226.6" r="2.1" fill="#2f5f92"/><circle cx="363.1" cy="226" r="0.8" fill="#d6e4f2" fill-opacity="0.85"/><text x="376.5" y="229.7" font-size="9" text-anchor="start" font-weight="normal" fill="#1a1a1a" >PY-IT</text><line x1="354" y1="237.7" x2="373.9" y2="237.7" stroke="#e9a5a5" stroke-width="1" /><circle cx="363.9" cy="237.7" r="2.1" fill="#c94242"/><circle cx="363.1" cy="237.1" r="0.8" fill="#f8d8d8" fill-opacity="0.85"/><text x="376.5" y="240.8" font-size="9" text-anchor="start" font-weight="normal" fill="#1a1a1a" >PT-IT-sonicated</text><text x="239.6" y="411.8" font-size="17" text-anchor="start" font-weight="bold" fill="#1e1414" >f</text><rect x="262" y="417.5" width="184" height="147.7" fill="none" stroke="#555" stroke-width="1"/><line x1="262" y1="565.2" x2="262" y2="568.2" stroke="#2b2b2b" stroke-width="1" /><line x1="285" y1="565.2" x2="285" y2="568.2" stroke="#2b2b2b" stroke-width="1" /><line x1="308" y1="565.2" x2="308" y2="568.2" stroke="#2b2b2b" stroke-width="1" /><line x1="331" y1="565.2" x2="331" y2="568.2" stroke="#2b2b2b" stroke-width="1" /><line x1="354" y1="565.2" x2="354" y2="568.2" stroke="#2b2b2b" stroke-width="1" /><line x1="377" y1="565.2" x2="377" y2="568.2" stroke="#2b2b2b" stroke-width="1" /><line x1="400" y1="565.2" x2="400" y2="568.2" stroke="#2b2b2b" stroke-width="1" /><line x1="423" y1="565.2" x2="423" y2="568.2" stroke="#2b2b2b" stroke-width="1" /><line x1="446" y1="565.2" x2="446" y2="568.2" stroke="#2b2b2b" stroke-width="1" /><line x1="273.5" y1="565.2" x2="273.5" y2="567" stroke="#2b2b2b" stroke-width="1" /><line x1="296.5" y1="565.2" x2="296.5" y2="567" stroke="#2b2b2b" stroke-width="1" /><line x1="319.5" y1="565.2" x2="319.5" y2="567" stroke="#2b2b2b" stroke-width="1" /><line x1="342.5" y1="565.2" x2="342.5" y2="567" stroke="#2b2b2b" stroke-width="1" /><line x1="365.5" y1="565.2" x2="365.5" y2="567" stroke="#2b2b2b" stroke-width="1" /><line x1="388.5" y1="565.2" x2="388.5" y2="567" stroke="#2b2b2b" stroke-width="1" /><line x1="411.5" y1="565.2" x2="411.5" y2="567" stroke="#2b2b2b" stroke-width="1" /><line x1="434.5" y1="565.2" x2="434.5" y2="567" stroke="#2b2b2b" stroke-width="1" /><text x="262" y="576.8" font-size="8.5" text-anchor="middle" font-weight="normal" fill="#1a1a1a" >30</text><text x="285" y="576.8" font-size="8.5" text-anchor="middle" font-weight="normal" fill="#1a1a1a" >40</text><text x="308" y="576.8" font-size="8.5" text-anchor="middle" font-weight="normal" fill="#1a1a1a" >50</text><text x="331" y="576.8" font-size="8.5" text-anchor="middle" font-weight="normal" fill="#1a1a1a" >60</text><text x="354" y="576.8" font-size="8.5" text-anchor="middle" font-weight="normal" fill="#1a1a1a" >70</text><text x="377" y="576.8" font-size="8.5" text-anchor="middle" font-weight="normal" fill="#1a1a1a" >80</text><text x="400" y="576.8" font-size="8.5" text-anchor="middle" font-weight="normal" fill="#1a1a1a" >90</text><text x="423" y="576.8" font-size="8.5" text-anchor="middle" font-weight="normal" fill="#1a1a1a" >100</text><text x="446" y="576.8" font-size="8.5" text-anchor="middle" font-weight="normal" fill="#1a1a1a" >110</text><line x1="259" y1="540.6" x2="262" y2="540.6" stroke="#2b2b2b" stroke-width="1" /><line x1="259" y1="509.8" x2="262" y2="509.8" stroke="#2b2b2b" stroke-width="1" /><line x1="259" y1="479" x2="262" y2="479" stroke="#2b2b2b" stroke-width="1" /><line x1="259" y1="448.3" x2="262" y2="448.3" stroke="#2b2b2b" stroke-width="1" /><line x1="259" y1="417.5" x2="262" y2="417.5" stroke="#2b2b2b" stroke-width="1" /><line x1="260.2" y1="556" x2="262" y2="556" stroke="#2b2b2b" stroke-width="1" /><line x1="260.2" y1="525.2" x2="262" y2="525.2" stroke="#2b2b2b" stroke-width="1" /><line x1="260.2" y1="494.4" x2="262" y2="494.4" stroke="#2b2b2b" stroke-width="1" /><line x1="260.2" y1="463.7" x2="262" y2="463.7" stroke="#2b2b2b" stroke-width="1" /><line x1="260.2" y1="432.9" x2="262" y2="432.9" stroke="#2b2b2b" stroke-width="1" /><text x="258.3" y="543.7" font-size="8.5" text-anchor="end" font-weight="normal" fill="#1a1a1a" >0.45</text><text x="258.3" y="512.9" font-size="8.5" text-anchor="end" font-weight="normal" fill="#1a1a1a" >0.50</text><text x="258.3" y="482.1" font-size="8.5" text-anchor="end" font-weight="normal" fill="#1a1a1a" >0.55</text><text x="258.3" y="451.4" font-size="8.5" text-anchor="end" font-weight="normal" fill="#1a1a1a" >0.60</text><text x="258.3" y="420.6" font-size="8.5" text-anchor="end" font-weight="normal" fill="#1a1a1a" >0.65</text><text x="320.1" y="591.3" font-size="9.2" text-anchor="start" font-weight="normal" fill="#1a1a1a" >Temperature</text><text x="374.6" y="591.3" font-size="9" text-anchor="start" font-weight="normal" fill="#1a1a1a" >(</text><text x="377" y="591.4" font-size="8.5" text-anchor="start" font-weight="normal" fill="#444" >&#176;</text><text x="379.4" y="591.8" font-size="8" text-anchor="start" font-weight="normal" fill="#1a1a1a" >C</text><text x="386.6" y="591.3" font-size="9" text-anchor="start" font-weight="normal" fill="#1a1a1a" >)</text><text x="0" y="0" font-size="9" text-anchor="middle" font-weight="normal" fill="#1a1a1a" transform="translate(234.2,491) rotate(-90)"><tspan font-style="italic">I</tspan><tspan font-size="6.9" dy="2">0-1</tspan><tspan dy="-2">/</tspan><tspan font-style="italic">I</tspan><tspan font-size="6.9" dy="2">0-0</tspan><tspan dy="-2"> (a.u.)</tspan></text><line x1="262" y1="428" x2="340" y2="428" stroke="#c4c4c4" stroke-width="0.9" stroke-dasharray="2.3,1.6,0.6,2.2"/><line x1="262" y1="501.2" x2="380.4" y2="501.2" stroke="#b0b0b0" stroke-width="0.9" stroke-dasharray="2.3,1.6,0.6,2.2"/><line x1="262" y1="548" x2="446" y2="548" stroke="#959595" stroke-width="0.9" stroke-dasharray="2.3,1.6,0.6,2.2"/><line x1="262" y1="552.3" x2="446" y2="552.3" stroke="#cacaca" stroke-width="0.9" stroke-dasharray="2.3,1.6,0.6,2.2"/><line x1="315" y1="429.5" x2="315" y2="552" stroke="#c2c2c2" stroke-width="0.8" /><path d="M315,429.5 l-1.3,3.5 l2.6,0 Z" fill="#c2c2c2"/><path d="M315,552 l-1.3,-3.5 l2.6,0 Z" fill="#c2c2c2"/><line x1="362.3" y1="502.7" x2="362.3" y2="547.7" stroke="#c2c2c2" stroke-width="0.8" /><path d="M362.3,502.7 l-1.3,3.5 l2.6,0 Z" fill="#c2c2c2"/><path d="M362.3,547.7 l-1.3,-3.5 l2.6,0 Z" fill="#c2c2c2"/><text x="292.2" y="478.4" font-size="9" text-anchor="start" font-weight="normal" fill="#1a1a1a" >0.201</text><text x="336.8" y="533.7" font-size="9" text-anchor="start" font-weight="normal" fill="#1a1a1a" >0.075</text><text x="267" y="529.3" font-size="7.6" text-anchor="start" font-weight="normal" fill="#1a1a1a" >Aggregation</text><line x1="275.4" y1="510.9" x2="275.4" y2="425.8" stroke="#111" stroke-width="1.0" /><path d="M275.4,421.6 L277.4,427.6 L275.4,425.8 L273.4,427.6 Z" fill="#111"/><g clip-path="url(#cp3)"><path d="M262,501.8 L285,506.1 L308,512.3 L331,513.5 L354,515 L377,522.7 L400,528.9 L423,542.4 L446,548.3" fill="none" stroke="#3d6c9e" stroke-width="1.0" stroke-linejoin="round" stroke-linecap="round" /><circle cx="262" cy="501.8" r="2.0" fill="#2f5f92"/><circle cx="261.2" cy="501.2" r="0.8" fill="#d6e4f2" fill-opacity="0.85"/><circle cx="285" cy="506.1" r="2.0" fill="#2f5f92"/><circle cx="284.2" cy="505.5" r="0.8" fill="#d6e4f2" fill-opacity="0.85"/><circle cx="308" cy="512.3" r="2.0" fill="#2f5f92"/><circle cx="307.2" cy="511.7" r="0.8" fill="#d6e4f2" fill-opacity="0.85"/><circle cx="331" cy="513.5" r="2.0" fill="#2f5f92"/><circle cx="330.2" cy="512.9" r="0.8" fill="#d6e4f2" fill-opacity="0.85"/><circle cx="354" cy="515" r="2.0" fill="#2f5f92"/><circle cx="353.2" cy="514.4" r="0.8" fill="#d6e4f2" fill-opacity="0.85"/><circle cx="377" cy="522.7" r="2.0" fill="#2f5f92"/><circle cx="376.2" cy="522.1" r="0.8" fill="#d6e4f2" fill-opacity="0.85"/><circle cx="400" cy="528.9" r="2.0" fill="#2f5f92"/><circle cx="399.2" cy="528.3" r="0.8" fill="#d6e4f2" fill-opacity="0.85"/><circle cx="423" cy="542.4" r="2.0" fill="#2f5f92"/><circle cx="422.2" cy="541.8" r="0.8" fill="#d6e4f2" fill-opacity="0.85"/><circle cx="446" cy="548.3" r="2.0" fill="#2f5f92"/><circle cx="445.2" cy="547.7" r="0.8" fill="#d6e4f2" fill-opacity="0.85"/><path d="M262,429.2 L285,427.7 L308,434.7 L331,448.9 L354,469.2 L377,480.9 L400,515.4 L423,548.3 L446,552.9" fill="none" stroke="#da5050" stroke-width="1.0" stroke-linejoin="round" stroke-linecap="round" /><circle cx="262" cy="429.2" r="2.0" fill="#c94242"/><circle cx="261.2" cy="428.6" r="0.8" fill="#f8d8d8" fill-opacity="0.85"/><circle cx="285" cy="427.7" r="2.0" fill="#c94242"/><circle cx="284.2" cy="427.1" r="0.8" fill="#f8d8d8" fill-opacity="0.85"/><circle cx="308" cy="434.7" r="2.0" fill="#c94242"/><circle cx="307.2" cy="434.1" r="0.8" fill="#f8d8d8" fill-opacity="0.85"/><circle cx="331" cy="448.9" r="2.0" fill="#c94242"/><circle cx="330.2" cy="448.3" r="0.8" fill="#f8d8d8" fill-opacity="0.85"/><circle cx="354" cy="469.2" r="2.0" fill="#c94242"/><circle cx="353.2" cy="468.6" r="0.8" fill="#f8d8d8" fill-opacity="0.85"/><circle cx="377" cy="480.9" r="2.0" fill="#c94242"/><circle cx="376.2" cy="480.3" r="0.8" fill="#f8d8d8" fill-opacity="0.85"/><circle cx="400" cy="515.4" r="2.0" fill="#c94242"/><circle cx="399.2" cy="514.8" r="0.8" fill="#f8d8d8" fill-opacity="0.85"/><circle cx="423" cy="548.3" r="2.0" fill="#c94242"/><circle cx="422.2" cy="547.7" r="0.8" fill="#f8d8d8" fill-opacity="0.85"/><circle cx="446" cy="552.9" r="2.0" fill="#c94242"/><circle cx="445.2" cy="552.3" r="0.8" fill="#f8d8d8" fill-opacity="0.85"/></g><rect x="262" y="417.5" width="184" height="147.7" fill="none" stroke="#555" stroke-width="1"/><line x1="347" y1="426.9" x2="367.8" y2="426.9" stroke="#b4c6da" stroke-width="1" /><circle cx="357.4" cy="426.9" r="2.1" fill="#2f5f92"/><circle cx="356.6" cy="426.3" r="0.8" fill="#d6e4f2" fill-opacity="0.85"/><text x="370.4" y="430" font-size="9" text-anchor="start" font-weight="normal" fill="#1a1a1a" >PY-DT</text><line x1="347" y1="438.1" x2="367.8" y2="438.1" stroke="#e07f7f" stroke-width="1" /><circle cx="357.4" cy="438.1" r="2.1" fill="#c94242"/><circle cx="356.6" cy="437.5" r="0.8" fill="#f8d8d8" fill-opacity="0.85"/><text x="370.4" y="441.2" font-size="9" text-anchor="start" font-weight="normal" fill="#1a1a1a" >PY-DT-sonicated</text><text x="482.2" y="12.2" font-size="17" text-anchor="start" font-weight="bold" fill="#1e1414" >g</text><rect x="495.4" y="19.5" width="183.9" height="148.1" fill="none" stroke="#2b2b2b" stroke-width="1"/><line x1="512.1" y1="167.6" x2="512.1" y2="170.6" stroke="#2b2b2b" stroke-width="1" /><line x1="545.6" y1="167.6" x2="545.6" y2="170.6" stroke="#2b2b2b" stroke-width="1" /><line x1="579" y1="167.6" x2="579" y2="170.6" stroke="#2b2b2b" stroke-width="1" /><line x1="612.4" y1="167.6" x2="612.4" y2="170.6" stroke="#2b2b2b" stroke-width="1" /><line x1="645.9" y1="167.6" x2="645.9" y2="170.6" stroke="#2b2b2b" stroke-width="1" /><line x1="679.3" y1="167.6" x2="679.3" y2="170.6" stroke="#2b2b2b" stroke-width="1" /><line x1="528.8" y1="167.6" x2="528.8" y2="169.4" stroke="#2b2b2b" stroke-width="1" /><line x1="562.3" y1="167.6" x2="562.3" y2="169.4" stroke="#2b2b2b" stroke-width="1" /><line x1="595.7" y1="167.6" x2="595.7" y2="169.4" stroke="#2b2b2b" stroke-width="1" /><line x1="629.1" y1="167.6" x2="629.1" y2="169.4" stroke="#2b2b2b" stroke-width="1" /><line x1="662.6" y1="167.6" x2="662.6" y2="169.4" stroke="#2b2b2b" stroke-width="1" /><text x="512.1" y="178.8" font-size="8.5" text-anchor="middle" font-weight="normal" fill="#1a1a1a" >0.0</text><text x="545.6" y="178.8" font-size="8.5" text-anchor="middle" font-weight="normal" fill="#1a1a1a" >0.2</text><text x="579" y="178.8" font-size="8.5" text-anchor="middle" font-weight="normal" fill="#1a1a1a" >0.4</text><text x="612.4" y="178.8" font-size="8.5" text-anchor="middle" font-weight="normal" fill="#1a1a1a" >0.6</text><text x="645.9" y="178.8" font-size="8.5" text-anchor="middle" font-weight="normal" fill="#1a1a1a" >0.8</text><text x="679.3" y="178.8" font-size="8.5" text-anchor="middle" font-weight="normal" fill="#1a1a1a" >1.0</text><line x1="492.4" y1="33.2" x2="495.4" y2="33.2" stroke="#2b2b2b" stroke-width="1" /><line x1="492.4" y1="55.6" x2="495.4" y2="55.6" stroke="#2b2b2b" stroke-width="1" /><line x1="492.4" y1="78" x2="495.4" y2="78" stroke="#2b2b2b" stroke-width="1" /><line x1="492.4" y1="100.4" x2="495.4" y2="100.4" stroke="#2b2b2b" stroke-width="1" /><line x1="492.4" y1="122.8" x2="495.4" y2="122.8" stroke="#2b2b2b" stroke-width="1" /><line x1="492.4" y1="145.2" x2="495.4" y2="145.2" stroke="#2b2b2b" stroke-width="1" /><line x1="492.4" y1="167.6" x2="495.4" y2="167.6" stroke="#2b2b2b" stroke-width="1" /><line x1="493.6" y1="44.4" x2="495.4" y2="44.4" stroke="#2b2b2b" stroke-width="1" /><line x1="493.6" y1="66.8" x2="495.4" y2="66.8" stroke="#2b2b2b" stroke-width="1" /><line x1="493.6" y1="89.2" x2="495.4" y2="89.2" stroke="#2b2b2b" stroke-width="1" /><line x1="493.6" y1="111.6" x2="495.4" y2="111.6" stroke="#2b2b2b" stroke-width="1" /><line x1="493.6" y1="134" x2="495.4" y2="134" stroke="#2b2b2b" stroke-width="1" /><line x1="493.6" y1="156.4" x2="495.4" y2="156.4" stroke="#2b2b2b" stroke-width="1" /><line x1="493.6" y1="22" x2="495.4" y2="22" stroke="#2b2b2b" stroke-width="1" /><text x="490.2" y="36.3" font-size="8.5" text-anchor="end" font-weight="normal" fill="#1a1a1a" >0</text><text x="490.2" y="58.7" font-size="8.5" text-anchor="end" font-weight="normal" fill="#1a1a1a" >-5</text><text x="490.2" y="81.1" font-size="8.5" text-anchor="end" font-weight="normal" fill="#1a1a1a" >-10</text><text x="490.2" y="103.5" font-size="8.5" text-anchor="end" font-weight="normal" fill="#1a1a1a" >-15</text><text x="490.2" y="125.9" font-size="8.5" text-anchor="end" font-weight="normal" fill="#1a1a1a" >-20</text><text x="490.2" y="148.3" font-size="8.5" text-anchor="end" font-weight="normal" fill="#1a1a1a" >-25</text><text x="490.2" y="170.7" font-size="8.5" text-anchor="end" font-weight="normal" fill="#1a1a1a" >-30</text><text x="587.3" y="193.2" font-size="9" text-anchor="middle" font-weight="normal" fill="#1a1a1a" >Voltage (V)</text><text x="0" y="0" font-size="9" text-anchor="middle" font-weight="normal" fill="#1a1a1a" transform="translate(471.6,93.5) rotate(-90)">Current&#160; density (mA cm<tspan font-size="6" dy="-3.5">-2</tspan><tspan dy="3.5">)</tspan></text><line x1="512.1" y1="19.5" x2="512.1" y2="167.6" stroke="#333" stroke-width="1.3" /><line x1="495.4" y1="33.2" x2="679.3" y2="33.2" stroke="#5e5e5e" stroke-width="1.5" /><g clip-path="url(#cp4)"><path d="M498.7,155.3 L499.1,155.3 L499.4,155.2 L499.7,155.2 L500,155.2 L500.3,155.2 L500.6,155.2 L500.9,155.2 L501.3,155.2 L501.6,155.2 L501.9,155.2 L502.2,155.2 L502.5,155.2 L502.8,155.2 L503.2,155.2 L503.5,155.2 L503.8,155.2 L504.1,155.2 L504.4,155.2 L504.7,155.2 L505,155.2 L505.4,155.2 L505.7,155.2 L506,155.2 L506.3,155.2 L506.6,155.2 L506.9,155.2 L507.2,155.2 L507.6,155.2 L507.9,155.2 L508.2,155.2 L508.5,155.2 L508.8,155.2 L509.1,155.2 L509.5,155.2 L509.8,155.2 L510.1,155.2 L510.4,155.2 L510.7,155.2 L511,155.2 L511.3,155.1 L511.7,155.1 L512,155.1 L512.3,155.1 L512.6,155.1 L512.9,155.1 L513.2,155.1 L513.5,155.1 L513.9,155.1 L514.2,155.1 L514.5,155.1 L514.8,155.1 L515.1,155.1 L515.4,155.1 L515.7,155.1 L516.1,155.1 L516.4,155.1 L516.7,155.1 L517,155.1 L517.3,155.1 L517.6,155.1 L518,155.1 L518.3,155.1 L518.6,155.1 L518.9,155.1 L519.2,155.1 L519.5,155.1 L519.8,155.1 L520.2,155.1 L520.5,155.1 L520.8,155.1 L521.1,155.1 L521.4,155.1 L521.7,155 L522,155 L522.4,155 L522.7,155 L523,155 L523.3,155 L523.6,155 L523.9,155 L524.3,155 L524.6,155 L524.9,155 L525.2,155 L525.5,155 L525.8,155 L526.1,155 L526.5,155 L526.8,155 L527.1,155 L527.4,155 L527.7,155 L528,155 L528.3,155 L528.7,155 L529,155 L529.3,155 L529.6,155 L529.9,154.9 L530.2,154.9 L530.6,154.9 L530.9,154.9 L531.2,154.9 L531.5,154.9 L531.8,154.9 L532.1,154.9 L532.4,154.9 L532.8,154.9 L533.1,154.9 L533.4,154.9 L533.7,154.9 L534,154.9 L534.3,154.9 L534.6,154.9 L535,154.9 L535.3,154.9 L535.6,154.9 L535.9,154.9 L536.2,154.9 L536.5,154.9 L536.9,154.8 L537.2,154.8 L537.5,154.8 L537.8,154.8 L538.1,154.8 L538.4,154.8 L538.7,154.8 L539.1,154.8 L539.4,154.8 L539.7,154.8 L540,154.8 L540.3,154.8 L540.6,154.8 L540.9,154.8 L541.3,154.8 L541.6,154.8 L541.9,154.8 L542.2,154.8 L542.5,154.8 L542.8,154.7 L543.1,154.7 L543.5,154.7 L543.8,154.7 L544.1,154.7 L544.4,154.7 L544.7,154.7 L545,154.7 L545.4,154.7 L545.7,154.7 L546,154.7 L546.3,154.7 L546.6,154.7 L546.9,154.7 L547.2,154.7 L547.6,154.7 L547.9,154.6 L548.2,154.6 L548.5,154.6 L548.8,154.6 L549.1,154.6 L549.4,154.6 L549.8,154.6 L550.1,154.6 L550.4,154.6 L550.7,154.6 L551,154.6 L551.3,154.6 L551.7,154.6 L552,154.6 L552.3,154.6 L552.6,154.5 L552.9,154.5 L553.2,154.5 L553.5,154.5 L553.9,154.5 L554.2,154.5 L554.5,154.5 L554.8,154.5 L555.1,154.5 L555.4,154.5 L555.7,154.5 L556.1,154.5 L556.4,154.5 L556.7,154.4 L557,154.4 L557.3,154.4 L557.6,154.4 L558,154.4 L558.3,154.4 L558.6,154.4 L558.9,154.4 L559.2,154.4 L559.5,154.4 L559.8,154.4 L560.2,154.4 L560.5,154.3 L560.8,154.3 L561.1,154.3 L561.4,154.3 L561.7,154.3 L562,154.3 L562.4,154.3 L562.7,154.3 L563,154.3 L563.3,154.3 L563.6,154.3 L563.9,154.2 L564.2,154.2 L564.6,154.2 L564.9,154.2 L565.2,154.2 L565.5,154.2 L565.8,154.2 L566.1,154.2 L566.5,154.2 L566.8,154.2 L567.1,154.1 L567.4,154.1 L567.7,154.1 L568,154.1 L568.3,154.1 L568.7,154.1 L569,154.1 L569.3,154.1 L569.6,154.1 L569.9,154.1 L570.2,154 L570.5,154 L570.9,154 L571.2,154 L571.5,154 L571.8,154 L572.1,154 L572.4,154 L572.8,154 L573.1,153.9 L573.4,153.9 L573.7,153.9 L574,153.9 L574.3,153.9 L574.6,153.9 L575,153.9 L575.3,153.9 L575.6,153.9 L575.9,153.8 L576.2,153.8 L576.5,153.8 L576.8,153.8 L577.2,153.8 L577.5,153.8 L577.8,153.8 L578.1,153.7 L578.4,153.7 L578.7,153.7 L579.1,153.7 L579.4,153.7 L579.7,153.7 L580,153.7 L580.3,153.6 L580.6,153.6 L580.9,153.6 L581.3,153.6 L581.6,153.6 L581.9,153.6 L582.2,153.5 L582.5,153.5 L582.8,153.5 L583.1,153.5 L583.5,153.5 L583.8,153.5 L584.1,153.4 L584.4,153.4 L584.7,153.4 L585,153.4 L585.3,153.4 L585.7,153.3 L586,153.3 L586.3,153.3 L586.6,153.3 L586.9,153.3 L587.2,153.3 L587.6,153.2 L587.9,153.2 L588.2,153.2 L588.5,153.2 L588.8,153.1 L589.1,153.1 L589.4,153.1 L589.8,153.1 L590.1,153.1 L590.4,153 L590.7,153 L591,153 L591.3,153 L591.6,153 L592,152.9 L592.3,152.9 L592.6,152.9 L592.9,152.9 L593.2,152.8 L593.5,152.8 L593.9,152.8 L594.2,152.8 L594.5,152.7 L594.8,152.7 L595.1,152.7 L595.4,152.7 L595.7,152.6 L596.1,152.6 L596.4,152.6 L596.7,152.6 L597,152.5 L597.3,152.5 L597.6,152.5 L597.9,152.5 L598.3,152.4 L598.6,152.4 L598.9,152.4 L599.2,152.4 L599.5,152.3 L599.8,152.3 L600.2,152.3 L600.5,152.3 L600.8,152.2 L601.1,152.2 L601.4,152.2 L601.7,152.1 L602,152.1 L602.4,152.1 L602.7,152.1 L603,152 L603.3,152 L603.6,152 L603.9,151.9 L604.2,151.9 L604.6,151.9 L604.9,151.9 L605.2,151.8 L605.5,151.8 L605.8,151.8 L606.1,151.7 L606.5,151.7 L606.8,151.7 L607.1,151.7 L607.4,151.6 L607.7,151.6 L608,151.6 L608.3,151.5 L608.7,151.5 L609,151.5 L609.3,151.4 L609.6,151.4 L609.9,151.4 L610.2,151.4 L610.5,151.3 L610.9,151.3 L611.2,151.3 L611.5,151.2 L611.8,151.2 L612.1,151.2 L612.4,151.2 L612.7,151.1 L613.1,151.1 L613.4,151.1 L613.7,151 L614,151 L614.3,151 L614.6,151 L615,151 L615.3,150.9 L615.6,150.9 L615.9,150.9 L616.2,150.9 L616.5,150.8 L616.8,150.8 L617.2,150.8 L617.5,150.7 L617.8,150.7 L618.1,150.7 L618.4,150.7 L618.7,150.6 L619,150.6 L619.4,150.5 L619.7,150.5 L620,150.4 L620.3,150.4 L620.6,150.3 L620.9,150.3 L621.3,150.2 L621.6,150.2 L621.9,150.1 L622.2,150 L622.5,150 L622.8,149.9 L623.1,149.8 L623.5,149.7 L623.8,149.7 L624.1,149.6 L624.4,149.5 L624.7,149.4 L625,149.3 L625.3,149.2 L625.7,149.1 L626,149 L626.3,148.9 L626.6,148.8 L626.9,148.7 L627.2,148.6 L627.6,148.5 L627.9,148.4 L628.2,148.3 L628.5,148.1 L628.8,148 L629.1,147.9 L629.4,147.7 L629.8,147.6 L630.1,147.4 L630.4,147.3 L630.7,147.1 L631,146.9 L631.3,146.7 L631.6,146.5 L632,146.3 L632.3,146.1 L632.6,145.9 L632.9,145.7 L633.2,145.5 L633.5,145.2 L633.8,144.9 L634.2,144.6 L634.5,144.3 L634.8,144 L635.1,143.7 L635.4,143.3 L635.7,143 L636.1,142.6 L636.4,142.2 L636.7,141.8 L637,141.3 L637.3,140.9 L637.6,140.4 L637.9,139.9 L638.3,139.5 L638.6,138.9 L638.9,138.4 L639.2,137.9 L639.5,137.3 L639.8,136.7 L640.1,136.1 L640.5,135.4 L640.8,134.7 L641.1,134 L641.4,133.2 L641.7,132.4 L642,131.5 L642.4,130.6 L642.7,129.7 L643,128.7 L643.3,127.7 L643.6,126.7 L643.9,125.6 L644.2,124.4 L644.6,123.2 L644.9,122 L645.2,120.7 L645.5,119.4 L645.8,118.1 L646.1,116.6 L646.4,115 L646.8,113.2 L647.1,111.3 L647.4,109.2 L647.7,107 L648,104.7 L648.3,102.2 L648.7,99.7 L649,97 L649.3,94.2 L649.6,91.4 L649.9,88.4 L650.2,85.4 L650.5,82.3 L650.9,79.2 L651.2,76 L651.5,72.8 L651.8,69.5 L652.1,66.2 L652.4,62.9 L652.7,59.6 L653.1,56 L653.4,52.3 L653.7,48.4 L654,44.3 L654.3,40 L654.6,35.7 L654.9,31.3 L655.3,26.7 L655.6,22.1 L655.9,17.5" fill="none" stroke="#3d6c9e" stroke-width="1.0" stroke-linejoin="round" stroke-linecap="round" /><circle cx="498.7" cy="155.3" r="2.0" fill="#2f5f92"/><circle cx="497.9" cy="154.7" r="0.8" fill="#d6e4f2" fill-opacity="0.85"/><circle cx="505.4" cy="155.2" r="2.0" fill="#2f5f92"/><circle cx="504.6" cy="154.6" r="0.8" fill="#d6e4f2" fill-opacity="0.85"/><circle cx="512.1" cy="155.1" r="2.0" fill="#2f5f92"/><circle cx="511.3" cy="154.5" r="0.8" fill="#d6e4f2" fill-opacity="0.85"/><circle cx="518.8" cy="155.1" r="2.0" fill="#2f5f92"/><circle cx="518" cy="154.5" r="0.8" fill="#d6e4f2" fill-opacity="0.85"/><circle cx="525.5" cy="155" r="2.0" fill="#2f5f92"/><circle cx="524.7" cy="154.4" r="0.8" fill="#d6e4f2" fill-opacity="0.85"/><circle cx="532.2" cy="154.9" r="2.0" fill="#2f5f92"/><circle cx="531.4" cy="154.3" r="0.8" fill="#d6e4f2" fill-opacity="0.85"/><circle cx="538.9" cy="154.8" r="2.0" fill="#2f5f92"/><circle cx="538.1" cy="154.2" r="0.8" fill="#d6e4f2" fill-opacity="0.85"/><circle cx="545.6" cy="154.7" r="2.0" fill="#2f5f92"/><circle cx="544.8" cy="154.1" r="0.8" fill="#d6e4f2" fill-opacity="0.85"/><circle cx="552.2" cy="154.6" r="2.0" fill="#2f5f92"/><circle cx="551.4" cy="154" r="0.8" fill="#d6e4f2" fill-opacity="0.85"/><circle cx="558.9" cy="154.4" r="2.0" fill="#2f5f92"/><circle cx="558.1" cy="153.8" r="0.8" fill="#d6e4f2" fill-opacity="0.85"/><circle cx="565.6" cy="154.2" r="2.0" fill="#2f5f92"/><circle cx="564.8" cy="153.6" r="0.8" fill="#d6e4f2" fill-opacity="0.85"/><circle cx="572.3" cy="154" r="2.0" fill="#2f5f92"/><circle cx="571.5" cy="153.4" r="0.8" fill="#d6e4f2" fill-opacity="0.85"/><circle cx="579" cy="153.7" r="2.0" fill="#2f5f92"/><circle cx="578.2" cy="153.1" r="0.8" fill="#d6e4f2" fill-opacity="0.85"/><circle cx="585.7" cy="153.3" r="2.0" fill="#2f5f92"/><circle cx="584.9" cy="152.7" r="0.8" fill="#d6e4f2" fill-opacity="0.85"/><circle cx="592.4" cy="152.9" r="2.0" fill="#2f5f92"/><circle cx="591.6" cy="152.3" r="0.8" fill="#d6e4f2" fill-opacity="0.85"/><circle cx="599.1" cy="152.4" r="2.0" fill="#2f5f92"/><circle cx="598.3" cy="151.8" r="0.8" fill="#d6e4f2" fill-opacity="0.85"/><circle cx="605.7" cy="151.8" r="2.0" fill="#2f5f92"/><circle cx="604.9" cy="151.2" r="0.8" fill="#d6e4f2" fill-opacity="0.85"/><circle cx="612.4" cy="151.2" r="2.0" fill="#2f5f92"/><circle cx="611.6" cy="150.6" r="0.8" fill="#d6e4f2" fill-opacity="0.85"/><circle cx="619.1" cy="150.6" r="2.0" fill="#2f5f92"/><circle cx="618.3" cy="150" r="0.8" fill="#d6e4f2" fill-opacity="0.85"/><circle cx="625.8" cy="149.1" r="2.0" fill="#2f5f92"/><circle cx="625" cy="148.5" r="0.8" fill="#d6e4f2" fill-opacity="0.85"/><circle cx="632.5" cy="146" r="2.0" fill="#2f5f92"/><circle cx="631.7" cy="145.4" r="0.8" fill="#d6e4f2" fill-opacity="0.85"/><circle cx="639.2" cy="137.9" r="2.0" fill="#2f5f92"/><circle cx="638.4" cy="137.3" r="0.8" fill="#d6e4f2" fill-opacity="0.85"/><circle cx="645.9" cy="117.9" r="2.0" fill="#2f5f92"/><circle cx="645.1" cy="117.3" r="0.8" fill="#d6e4f2" fill-opacity="0.85"/><circle cx="652.6" cy="61.7" r="2.0" fill="#2f5f92"/><circle cx="651.8" cy="61.1" r="0.8" fill="#d6e4f2" fill-opacity="0.85"/></g><g clip-path="url(#cp5)"><path d="M495.4,158.4 L495.7,158.4 L496,158.4 L496.4,158.4 L496.7,158.4 L497,158.4 L497.3,158.4 L497.7,158.4 L498,158.4 L498.3,158.4 L498.6,158.4 L499,158.4 L499.3,158.4 L499.6,158.4 L499.9,158.4 L500.3,158.4 L500.6,158.4 L500.9,158.4 L501.2,158.4 L501.6,158.4 L501.9,158.4 L502.2,158.4 L502.5,158.4 L502.9,158.4 L503.2,158.4 L503.5,158.4 L503.8,158.4 L504.2,158.3 L504.5,158.3 L504.8,158.3 L505.1,158.3 L505.5,158.3 L505.8,158.3 L506.1,158.3 L506.4,158.3 L506.8,158.3 L507.1,158.3 L507.4,158.3 L507.7,158.3 L508,158.3 L508.4,158.3 L508.7,158.3 L509,158.3 L509.3,158.3 L509.7,158.3 L510,158.3 L510.3,158.3 L510.6,158.3 L511,158.3 L511.3,158.3 L511.6,158.3 L511.9,158.3 L512.3,158.3 L512.6,158.3 L512.9,158.3 L513.2,158.3 L513.6,158.3 L513.9,158.3 L514.2,158.3 L514.5,158.3 L514.9,158.3 L515.2,158.3 L515.5,158.2 L515.8,158.2 L516.2,158.2 L516.5,158.2 L516.8,158.2 L517.1,158.2 L517.5,158.2 L517.8,158.2 L518.1,158.2 L518.4,158.2 L518.8,158.2 L519.1,158.2 L519.4,158.2 L519.7,158.2 L520,158.2 L520.4,158.2 L520.7,158.2 L521,158.2 L521.3,158.2 L521.7,158.2 L522,158.2 L522.3,158.2 L522.6,158.2 L523,158.2 L523.3,158.2 L523.6,158.2 L523.9,158.2 L524.3,158.2 L524.6,158.1 L524.9,158.1 L525.2,158.1 L525.6,158.1 L525.9,158.1 L526.2,158.1 L526.5,158.1 L526.9,158.1 L527.2,158.1 L527.5,158.1 L527.8,158.1 L528.2,158.1 L528.5,158.1 L528.8,158.1 L529.1,158.1 L529.5,158.1 L529.8,158.1 L530.1,158.1 L530.4,158.1 L530.8,158.1 L531.1,158.1 L531.4,158.1 L531.7,158.1 L532,158.1 L532.4,158.1 L532.7,158.1 L533,158 L533.3,158 L533.7,158 L534,158 L534.3,158 L534.6,158 L535,158 L535.3,158 L535.6,158 L535.9,158 L536.3,158 L536.6,158 L536.9,158 L537.2,158 L537.6,158 L537.9,158 L538.2,158 L538.5,158 L538.9,158 L539.2,158 L539.5,158 L539.8,158 L540.2,158 L540.5,158 L540.8,157.9 L541.1,157.9 L541.5,157.9 L541.8,157.9 L542.1,157.9 L542.4,157.9 L542.7,157.9 L543.1,157.9 L543.4,157.9 L543.7,157.9 L544,157.9 L544.4,157.9 L544.7,157.9 L545,157.9 L545.3,157.9 L545.7,157.9 L546,157.9 L546.3,157.9 L546.6,157.9 L547,157.9 L547.3,157.8 L547.6,157.8 L547.9,157.8 L548.3,157.8 L548.6,157.8 L548.9,157.8 L549.2,157.8 L549.6,157.8 L549.9,157.8 L550.2,157.8 L550.5,157.8 L550.9,157.8 L551.2,157.8 L551.5,157.8 L551.8,157.8 L552.2,157.8 L552.5,157.8 L552.8,157.8 L553.1,157.8 L553.5,157.7 L553.8,157.7 L554.1,157.7 L554.4,157.7 L554.7,157.7 L555.1,157.7 L555.4,157.7 L555.7,157.7 L556,157.7 L556.4,157.7 L556.7,157.7 L557,157.7 L557.3,157.7 L557.7,157.7 L558,157.7 L558.3,157.7 L558.6,157.6 L559,157.6 L559.3,157.6 L559.6,157.6 L559.9,157.6 L560.3,157.6 L560.6,157.6 L560.9,157.6 L561.2,157.6 L561.6,157.6 L561.9,157.6 L562.2,157.6 L562.5,157.6 L562.9,157.5 L563.2,157.5 L563.5,157.5 L563.8,157.5 L564.2,157.5 L564.5,157.5 L564.8,157.5 L565.1,157.5 L565.5,157.5 L565.8,157.5 L566.1,157.5 L566.4,157.4 L566.7,157.4 L567.1,157.4 L567.4,157.4 L567.7,157.4 L568,157.4 L568.4,157.4 L568.7,157.4 L569,157.4 L569.3,157.4 L569.7,157.3 L570,157.3 L570.3,157.3 L570.6,157.3 L571,157.3 L571.3,157.3 L571.6,157.3 L571.9,157.3 L572.3,157.3 L572.6,157.2 L572.9,157.2 L573.2,157.2 L573.6,157.2 L573.9,157.2 L574.2,157.2 L574.5,157.2 L574.9,157.2 L575.2,157.2 L575.5,157.1 L575.8,157.1 L576.2,157.1 L576.5,157.1 L576.8,157.1 L577.1,157.1 L577.5,157.1 L577.8,157.1 L578.1,157.1 L578.4,157 L578.7,157 L579.1,157 L579.4,157 L579.7,157 L580,157 L580.4,157 L580.7,157 L581,157 L581.3,157 L581.7,156.9 L582,156.9 L582.3,156.9 L582.6,156.9 L583,156.9 L583.3,156.9 L583.6,156.9 L583.9,156.9 L584.3,156.9 L584.6,156.9 L584.9,156.8 L585.2,156.8 L585.6,156.8 L585.9,156.8 L586.2,156.8 L586.5,156.8 L586.9,156.8 L587.2,156.8 L587.5,156.8 L587.8,156.8 L588.2,156.8 L588.5,156.7 L588.8,156.7 L589.1,156.7 L589.5,156.7 L589.8,156.7 L590.1,156.7 L590.4,156.7 L590.7,156.7 L591.1,156.7 L591.4,156.6 L591.7,156.6 L592,156.6 L592.4,156.6 L592.7,156.6 L593,156.6 L593.3,156.6 L593.7,156.6 L594,156.6 L594.3,156.5 L594.6,156.5 L595,156.5 L595.3,156.5 L595.6,156.5 L595.9,156.5 L596.3,156.5 L596.6,156.4 L596.9,156.4 L597.2,156.4 L597.6,156.4 L597.9,156.4 L598.2,156.4 L598.5,156.4 L598.9,156.3 L599.2,156.3 L599.5,156.3 L599.8,156.3 L600.2,156.3 L600.5,156.3 L600.8,156.2 L601.1,156.2 L601.5,156.2 L601.8,156.2 L602.1,156.1 L602.4,156.1 L602.7,156.1 L603.1,156.1 L603.4,156 L603.7,156 L604,156 L604.4,155.9 L604.7,155.9 L605,155.9 L605.3,155.8 L605.7,155.8 L606,155.7 L606.3,155.7 L606.6,155.6 L607,155.6 L607.3,155.6 L607.6,155.5 L607.9,155.5 L608.3,155.4 L608.6,155.4 L608.9,155.4 L609.2,155.4 L609.6,155.3 L609.9,155.3 L610.2,155.3 L610.5,155.3 L610.9,155.2 L611.2,155.2 L611.5,155.2 L611.8,155.2 L612.2,155.1 L612.5,155.1 L612.8,155.1 L613.1,155.1 L613.4,155.1 L613.8,155 L614.1,155 L614.4,155 L614.7,155 L615.1,154.9 L615.4,154.9 L615.7,154.9 L616,154.8 L616.4,154.8 L616.7,154.8 L617,154.8 L617.3,154.7 L617.7,154.7 L618,154.6 L618.3,154.6 L618.6,154.6 L619,154.5 L619.3,154.5 L619.6,154.5 L619.9,154.4 L620.3,154.4 L620.6,154.3 L620.9,154.3 L621.2,154.2 L621.6,154.2 L621.9,154.2 L622.2,154.1 L622.5,154.1 L622.9,154 L623.2,154 L623.5,153.9 L623.8,153.9 L624.2,153.8 L624.5,153.7 L624.8,153.7 L625.1,153.6 L625.4,153.6 L625.8,153.5 L626.1,153.5 L626.4,153.4 L626.7,153.3 L627.1,153.3 L627.4,153.2 L627.7,153.1 L628,153 L628.4,153 L628.7,152.9 L629,152.8 L629.3,152.7 L629.7,152.6 L630,152.5 L630.3,152.5 L630.6,152.4 L631,152.3 L631.3,152.2 L631.6,152.1 L631.9,152 L632.3,151.9 L632.6,151.7 L632.9,151.6 L633.2,151.5 L633.6,151.4 L633.9,151.2 L634.2,151.1 L634.5,150.9 L634.9,150.7 L635.2,150.6 L635.5,150.4 L635.8,150.2 L636.2,149.9 L636.5,149.7 L636.8,149.4 L637.1,149 L637.4,148.6 L637.8,148.2 L638.1,147.7 L638.4,147.2 L638.7,146.7 L639.1,146.1 L639.4,145.5 L639.7,144.9 L640,144.3 L640.4,143.6 L640.7,142.9 L641,142.1 L641.3,141.4 L641.7,140.6 L642,139.8 L642.3,139 L642.6,138.1 L643,137.2 L643.3,136.1 L643.6,135 L643.9,133.8 L644.3,132.5 L644.6,131.1 L644.9,129.6 L645.2,128.1 L645.6,126.4 L645.9,124.7 L646.2,123 L646.5,121.2 L646.9,119.3 L647.2,117.3 L647.5,115.3 L647.8,113.3 L648.2,111.2 L648.5,109 L648.8,106.9 L649.1,104.6 L649.4,102.3 L649.8,99.8 L650.1,97.2 L650.4,94.3 L650.7,91.3 L651.1,88.1 L651.4,84.8 L651.7,81.4 L652,77.9 L652.4,74.3 L652.7,70.6 L653,66.9 L653.3,63.1 L653.7,59.3 L654,55.4 L654.3,51.6 L654.6,47.7 L655,43.9 L655.3,40.1 L655.6,36.4 L655.9,32.7 L656.3,29 L656.6,25.2 L656.9,21.3 L657.2,17.5" fill="none" stroke="#da5050" stroke-width="1.0" stroke-linejoin="round" stroke-linecap="round" /><circle cx="495.4" cy="158.4" r="2.0" fill="#c94242"/><circle cx="494.6" cy="157.8" r="0.8" fill="#f8d8d8" fill-opacity="0.85"/><circle cx="502.1" cy="158.4" r="2.0" fill="#c94242"/><circle cx="501.3" cy="157.8" r="0.8" fill="#f8d8d8" fill-opacity="0.85"/><circle cx="508.8" cy="158.3" r="2.0" fill="#c94242"/><circle cx="508" cy="157.7" r="0.8" fill="#f8d8d8" fill-opacity="0.85"/><circle cx="515.5" cy="158.2" r="2.0" fill="#c94242"/><circle cx="514.7" cy="157.6" r="0.8" fill="#f8d8d8" fill-opacity="0.85"/><circle cx="522.1" cy="158.2" r="2.0" fill="#c94242"/><circle cx="521.3" cy="157.6" r="0.8" fill="#f8d8d8" fill-opacity="0.85"/><circle cx="528.8" cy="158.1" r="2.0" fill="#c94242"/><circle cx="528" cy="157.5" r="0.8" fill="#f8d8d8" fill-opacity="0.85"/><circle cx="535.5" cy="158" r="2.0" fill="#c94242"/><circle cx="534.7" cy="157.4" r="0.8" fill="#f8d8d8" fill-opacity="0.85"/><circle cx="542.2" cy="157.9" r="2.0" fill="#c94242"/><circle cx="541.4" cy="157.3" r="0.8" fill="#f8d8d8" fill-opacity="0.85"/><circle cx="548.9" cy="157.8" r="2.0" fill="#c94242"/><circle cx="548.1" cy="157.2" r="0.8" fill="#f8d8d8" fill-opacity="0.85"/><circle cx="555.6" cy="157.7" r="2.0" fill="#c94242"/><circle cx="554.8" cy="157.1" r="0.8" fill="#f8d8d8" fill-opacity="0.85"/><circle cx="562.3" cy="157.6" r="2.0" fill="#c94242"/><circle cx="561.5" cy="157" r="0.8" fill="#f8d8d8" fill-opacity="0.85"/><circle cx="569" cy="157.4" r="2.0" fill="#c94242"/><circle cx="568.2" cy="156.8" r="0.8" fill="#f8d8d8" fill-opacity="0.85"/><circle cx="575.6" cy="157.1" r="2.0" fill="#c94242"/><circle cx="574.8" cy="156.5" r="0.8" fill="#f8d8d8" fill-opacity="0.85"/><circle cx="582.3" cy="156.9" r="2.0" fill="#c94242"/><circle cx="581.5" cy="156.3" r="0.8" fill="#f8d8d8" fill-opacity="0.85"/><circle cx="589" cy="156.7" r="2.0" fill="#c94242"/><circle cx="588.2" cy="156.1" r="0.8" fill="#f8d8d8" fill-opacity="0.85"/><circle cx="595.7" cy="156.5" r="2.0" fill="#c94242"/><circle cx="594.9" cy="155.9" r="0.8" fill="#f8d8d8" fill-opacity="0.85"/><circle cx="602.4" cy="156.1" r="2.0" fill="#c94242"/><circle cx="601.6" cy="155.5" r="0.8" fill="#f8d8d8" fill-opacity="0.85"/><circle cx="609.1" cy="155.4" r="2.0" fill="#c94242"/><circle cx="608.3" cy="154.8" r="0.8" fill="#f8d8d8" fill-opacity="0.85"/><circle cx="615.8" cy="154.9" r="2.0" fill="#c94242"/><circle cx="615" cy="154.3" r="0.8" fill="#f8d8d8" fill-opacity="0.85"/><circle cx="622.5" cy="154.1" r="2.0" fill="#c94242"/><circle cx="621.7" cy="153.5" r="0.8" fill="#f8d8d8" fill-opacity="0.85"/><circle cx="629.1" cy="152.8" r="2.0" fill="#c94242"/><circle cx="628.3" cy="152.2" r="0.8" fill="#f8d8d8" fill-opacity="0.85"/><circle cx="635.8" cy="150.2" r="2.0" fill="#c94242"/><circle cx="635" cy="149.6" r="0.8" fill="#f8d8d8" fill-opacity="0.85"/><circle cx="642.5" cy="138.4" r="2.0" fill="#c94242"/><circle cx="641.7" cy="137.8" r="0.8" fill="#f8d8d8" fill-opacity="0.85"/><circle cx="649.2" cy="104.1" r="2.0" fill="#c94242"/><circle cx="648.4" cy="103.5" r="0.8" fill="#f8d8d8" fill-opacity="0.85"/><circle cx="655.9" cy="33.2" r="2.0" fill="#c94242"/><circle cx="655.1" cy="32.6" r="0.8" fill="#f8d8d8" fill-opacity="0.85"/></g><line x1="518.3" y1="42.6" x2="538.7" y2="42.6" stroke="#5f86b2" stroke-width="1" /><circle cx="528.5" cy="42.6" r="2.1" fill="#2f5f92"/><circle cx="527.7" cy="42" r="0.8" fill="#d6e4f2" fill-opacity="0.85"/><text x="541.3" y="45.7" font-size="9" text-anchor="start" font-weight="normal" fill="#1a1a1a" >PM6:BTP-eC9</text><line x1="518.3" y1="53.7" x2="538.7" y2="53.7" stroke="#e9a5a5" stroke-width="1" /><circle cx="528.5" cy="53.7" r="2.1" fill="#c94242"/><circle cx="527.7" cy="53.1" r="0.8" fill="#f8d8d8" fill-opacity="0.85"/><text x="541.3" y="56.8" font-size="9" text-anchor="start" font-weight="normal" fill="#1a1a1a" >PM6:BTP-eC9- sonicated</text><text x="482.2" y="214" font-size="17" text-anchor="start" font-weight="bold" fill="#1e1414" >h</text><rect x="495.5" y="218.6" width="183.8" height="148.4" fill="none" stroke="#2b2b2b" stroke-width="1"/><line x1="512.2" y1="367" x2="512.2" y2="370" stroke="#2b2b2b" stroke-width="1" /><line x1="545.6" y1="367" x2="545.6" y2="370" stroke="#2b2b2b" stroke-width="1" /><line x1="579" y1="367" x2="579" y2="370" stroke="#2b2b2b" stroke-width="1" /><line x1="612.5" y1="367" x2="612.5" y2="370" stroke="#2b2b2b" stroke-width="1" /><line x1="645.9" y1="367" x2="645.9" y2="370" stroke="#2b2b2b" stroke-width="1" /><line x1="679.3" y1="367" x2="679.3" y2="370" stroke="#2b2b2b" stroke-width="1" /><line x1="528.9" y1="367" x2="528.9" y2="368.8" stroke="#2b2b2b" stroke-width="1" /><line x1="562.3" y1="367" x2="562.3" y2="368.8" stroke="#2b2b2b" stroke-width="1" /><line x1="595.8" y1="367" x2="595.8" y2="368.8" stroke="#2b2b2b" stroke-width="1" /><line x1="629.2" y1="367" x2="629.2" y2="368.8" stroke="#2b2b2b" stroke-width="1" /><line x1="662.6" y1="367" x2="662.6" y2="368.8" stroke="#2b2b2b" stroke-width="1" /><text x="512.2" y="378.4" font-size="8.5" text-anchor="middle" font-weight="normal" fill="#1a1a1a" >0.0</text><text x="545.6" y="378.4" font-size="8.5" text-anchor="middle" font-weight="normal" fill="#1a1a1a" >0.2</text><text x="579" y="378.4" font-size="8.5" text-anchor="middle" font-weight="normal" fill="#1a1a1a" >0.4</text><text x="612.5" y="378.4" font-size="8.5" text-anchor="middle" font-weight="normal" fill="#1a1a1a" >0.6</text><text x="645.9" y="378.4" font-size="8.5" text-anchor="middle" font-weight="normal" fill="#1a1a1a" >0.8</text><text x="679.3" y="378.4" font-size="8.5" text-anchor="middle" font-weight="normal" fill="#1a1a1a" >1.0</text><line x1="492.5" y1="234" x2="495.5" y2="234" stroke="#2b2b2b" stroke-width="1" /><line x1="492.5" y1="259.5" x2="495.5" y2="259.5" stroke="#2b2b2b" stroke-width="1" /><line x1="492.5" y1="285.1" x2="495.5" y2="285.1" stroke="#2b2b2b" stroke-width="1" /><line x1="492.5" y1="310.7" x2="495.5" y2="310.7" stroke="#2b2b2b" stroke-width="1" /><line x1="492.5" y1="336.3" x2="495.5" y2="336.3" stroke="#2b2b2b" stroke-width="1" /><line x1="492.5" y1="361.9" x2="495.5" y2="361.9" stroke="#2b2b2b" stroke-width="1" /><line x1="493.7" y1="246.7" x2="495.5" y2="246.7" stroke="#2b2b2b" stroke-width="1" /><line x1="493.7" y1="272.3" x2="495.5" y2="272.3" stroke="#2b2b2b" stroke-width="1" /><line x1="493.7" y1="297.9" x2="495.5" y2="297.9" stroke="#2b2b2b" stroke-width="1" /><line x1="493.7" y1="323.5" x2="495.5" y2="323.5" stroke="#2b2b2b" stroke-width="1" /><line x1="493.7" y1="349.1" x2="495.5" y2="349.1" stroke="#2b2b2b" stroke-width="1" /><line x1="493.7" y1="221.2" x2="495.5" y2="221.2" stroke="#2b2b2b" stroke-width="1" /><text x="490.3" y="237.1" font-size="8.5" text-anchor="end" font-weight="normal" fill="#1a1a1a" >0</text><text x="490.3" y="262.6" font-size="8.5" text-anchor="end" font-weight="normal" fill="#1a1a1a" >-5</text><text x="490.3" y="288.2" font-size="8.5" text-anchor="end" font-weight="normal" fill="#1a1a1a" >-10</text><text x="490.3" y="313.8" font-size="8.5" text-anchor="end" font-weight="normal" fill="#1a1a1a" >-15</text><text x="490.3" y="339.4" font-size="8.5" text-anchor="end" font-weight="normal" fill="#1a1a1a" >-20</text><text x="490.3" y="365" font-size="8.5" text-anchor="end" font-weight="normal" fill="#1a1a1a" >-25</text><text x="587.4" y="392.6" font-size="9" text-anchor="middle" font-weight="normal" fill="#1a1a1a" >Voltage (V)</text><text x="0" y="0" font-size="9" text-anchor="middle" font-weight="normal" fill="#1a1a1a" transform="translate(471.6,292.8) rotate(-90)">Current&#160; density (mA cm<tspan font-size="6" dy="-3.5">-2</tspan><tspan dy="3.5">)</tspan></text><line x1="512.2" y1="218.6" x2="512.2" y2="367" stroke="#333" stroke-width="1.3" /><line x1="495.5" y1="234" x2="679.3" y2="234" stroke="#5e5e5e" stroke-width="1.5" /><g clip-path="url(#cp6)"><path d="M498.8,356.6 L499.2,356.5 L499.5,356.5 L499.9,356.5 L500.2,356.5 L500.6,356.5 L500.9,356.5 L501.3,356.5 L501.6,356.5 L502,356.5 L502.3,356.4 L502.7,356.4 L503,356.4 L503.3,356.4 L503.7,356.4 L504,356.4 L504.4,356.4 L504.7,356.4 L505.1,356.4 L505.4,356.3 L505.8,356.3 L506.1,356.3 L506.5,356.3 L506.8,356.3 L507.2,356.3 L507.5,356.3 L507.9,356.3 L508.2,356.3 L508.5,356.2 L508.9,356.2 L509.2,356.2 L509.6,356.2 L509.9,356.2 L510.3,356.2 L510.6,356.2 L511,356.2 L511.3,356.2 L511.7,356.1 L512,356.1 L512.4,356.1 L512.7,356.1 L513.1,356.1 L513.4,356.1 L513.7,356.1 L514.1,356.1 L514.4,356.1 L514.8,356 L515.1,356 L515.5,356 L515.8,356 L516.2,356 L516.5,356 L516.9,356 L517.2,356 L517.6,355.9 L517.9,355.9 L518.2,355.9 L518.6,355.9 L518.9,355.9 L519.3,355.9 L519.6,355.9 L520,355.9 L520.3,355.9 L520.7,355.8 L521,355.8 L521.4,355.8 L521.7,355.8 L522.1,355.8 L522.4,355.8 L522.8,355.8 L523.1,355.8 L523.4,355.8 L523.8,355.7 L524.1,355.7 L524.5,355.7 L524.8,355.7 L525.2,355.7 L525.5,355.7 L525.9,355.7 L526.2,355.7 L526.6,355.7 L526.9,355.6 L527.3,355.6 L527.6,355.6 L528,355.6 L528.3,355.6 L528.6,355.6 L529,355.6 L529.3,355.6 L529.7,355.6 L530,355.5 L530.4,355.5 L530.7,355.5 L531.1,355.5 L531.4,355.5 L531.8,355.5 L532.1,355.5 L532.5,355.5 L532.8,355.5 L533.2,355.4 L533.5,355.4 L533.8,355.4 L534.2,355.4 L534.5,355.4 L534.9,355.4 L535.2,355.4 L535.6,355.4 L535.9,355.3 L536.3,355.3 L536.6,355.3 L537,355.3 L537.3,355.3 L537.7,355.3 L538,355.3 L538.4,355.3 L538.7,355.3 L539,355.2 L539.4,355.2 L539.7,355.2 L540.1,355.2 L540.4,355.2 L540.8,355.2 L541.1,355.2 L541.5,355.2 L541.8,355.2 L542.2,355.1 L542.5,355.1 L542.9,355.1 L543.2,355.1 L543.5,355.1 L543.9,355.1 L544.2,355.1 L544.6,355.1 L544.9,355.1 L545.3,355 L545.6,355 L546,355 L546.3,355 L546.7,355 L547,355 L547.4,355 L547.7,355 L548.1,355 L548.4,354.9 L548.7,354.9 L549.1,354.9 L549.4,354.9 L549.8,354.9 L550.1,354.9 L550.5,354.9 L550.8,354.9 L551.2,354.9 L551.5,354.8 L551.9,354.8 L552.2,354.8 L552.6,354.8 L552.9,354.8 L553.3,354.8 L553.6,354.8 L553.9,354.8 L554.3,354.7 L554.6,354.7 L555,354.7 L555.3,354.7 L555.7,354.7 L556,354.7 L556.4,354.7 L556.7,354.7 L557.1,354.7 L557.4,354.6 L557.8,354.6 L558.1,354.6 L558.5,354.6 L558.8,354.6 L559.1,354.6 L559.5,354.6 L559.8,354.6 L560.2,354.6 L560.5,354.5 L560.9,354.5 L561.2,354.5 L561.6,354.5 L561.9,354.5 L562.3,354.5 L562.6,354.5 L563,354.5 L563.3,354.5 L563.7,354.4 L564,354.4 L564.3,354.4 L564.7,354.4 L565,354.4 L565.4,354.4 L565.7,354.4 L566.1,354.4 L566.4,354.4 L566.8,354.3 L567.1,354.3 L567.5,354.3 L567.8,354.3 L568.2,354.3 L568.5,354.3 L568.8,354.3 L569.2,354.3 L569.5,354.3 L569.9,354.2 L570.2,354.2 L570.6,354.2 L570.9,354.2 L571.3,354.2 L571.6,354.2 L572,354.2 L572.3,354.2 L572.7,354.1 L573,354.1 L573.4,354.1 L573.7,354.1 L574,354.1 L574.4,354.1 L574.7,354.1 L575.1,354.1 L575.4,354.1 L575.8,354 L576.1,354 L576.5,354 L576.8,354 L577.2,354 L577.5,354 L577.9,354 L578.2,354 L578.6,354 L578.9,353.9 L579.2,353.9 L579.6,353.9 L579.9,353.9 L580.3,353.9 L580.6,353.9 L581,353.9 L581.3,353.9 L581.7,353.9 L582,353.8 L582.4,353.8 L582.7,353.8 L583.1,353.8 L583.4,353.8 L583.8,353.8 L584.1,353.8 L584.4,353.8 L584.8,353.8 L585.1,353.7 L585.5,353.7 L585.8,353.7 L586.2,353.7 L586.5,353.7 L586.9,353.7 L587.2,353.7 L587.6,353.7 L587.9,353.7 L588.3,353.6 L588.6,353.6 L589,353.6 L589.3,353.6 L589.6,353.6 L590,353.6 L590.3,353.6 L590.7,353.6 L591,353.5 L591.4,353.5 L591.7,353.5 L592.1,353.5 L592.4,353.5 L592.8,353.5 L593.1,353.5 L593.5,353.5 L593.8,353.5 L594.1,353.4 L594.5,353.4 L594.8,353.4 L595.2,353.4 L595.5,353.4 L595.9,353.4 L596.2,353.4 L596.6,353.4 L596.9,353.3 L597.3,353.3 L597.6,353.3 L598,353.3 L598.3,353.3 L598.7,353.3 L599,353.3 L599.3,353.3 L599.7,353.3 L600,353.3 L600.4,353.3 L600.7,353.3 L601.1,353.3 L601.4,353.3 L601.8,353.2 L602.1,353.2 L602.5,353.2 L602.8,353.2 L603.2,353.2 L603.5,353.2 L603.9,353.2 L604.2,353.2 L604.5,353.2 L604.9,353.2 L605.2,353.2 L605.6,353.2 L605.9,353.2 L606.3,353.2 L606.6,353.1 L607,353.1 L607.3,353 L607.7,353 L608,352.9 L608.4,352.9 L608.7,352.8 L609.1,352.7 L609.4,352.7 L609.7,352.6 L610.1,352.5 L610.4,352.5 L610.8,352.4 L611.1,352.3 L611.5,352.3 L611.8,352.2 L612.2,352.2 L612.5,352.2 L612.9,352.1 L613.2,352.1 L613.6,352.1 L613.9,352 L614.3,352 L614.6,352 L614.9,352 L615.3,351.9 L615.6,351.9 L616,351.9 L616.3,351.9 L616.7,351.8 L617,351.8 L617.4,351.8 L617.7,351.8 L618.1,351.7 L618.4,351.7 L618.8,351.7 L619.1,351.7 L619.4,351.6 L619.8,351.6 L620.1,351.6 L620.5,351.5 L620.8,351.5 L621.2,351.5 L621.5,351.4 L621.9,351.4 L622.2,351.4 L622.6,351.3 L622.9,351.3 L623.3,351.3 L623.6,351.2 L624,351.2 L624.3,351.1 L624.6,351.1 L625,351 L625.3,351 L625.7,351 L626,350.9 L626.4,350.8 L626.7,350.8 L627.1,350.7 L627.4,350.6 L627.8,350.6 L628.1,350.5 L628.5,350.4 L628.8,350.3 L629.2,350.2 L629.5,350.2 L629.8,350.1 L630.2,350 L630.5,349.9 L630.9,349.8 L631.2,349.7 L631.6,349.6 L631.9,349.5 L632.3,349.4 L632.6,349.3 L633,349.2 L633.3,349.1 L633.7,349 L634,348.9 L634.4,348.8 L634.7,348.7 L635,348.6 L635.4,348.5 L635.7,348.4 L636.1,348.3 L636.4,348.2 L636.8,348.1 L637.1,348 L637.5,347.9 L637.8,347.8 L638.2,347.6 L638.5,347.5 L638.9,347.4 L639.2,347.2 L639.5,347.1 L639.9,347 L640.2,346.8 L640.6,346.6 L640.9,346.5 L641.3,346.3 L641.6,346.1 L642,345.9 L642.3,345.7 L642.7,345.6 L643,345.4 L643.4,345.1 L643.7,344.9 L644.1,344.7 L644.4,344.5 L644.7,344.3 L645.1,344 L645.4,343.8 L645.8,343.6 L646.1,343.3 L646.5,343.1 L646.8,342.8 L647.2,342.6 L647.5,342.3 L647.9,342.1 L648.2,341.8 L648.6,341.5 L648.9,341.2 L649.3,340.9 L649.6,340.6 L649.9,340.3 L650.3,340 L650.6,339.6 L651,339.2 L651.3,338.9 L651.7,338.4 L652,338 L652.4,337.6 L652.7,337.1 L653.1,336.6 L653.4,336 L653.8,335.4 L654.1,334.8 L654.5,334.1 L654.8,333.4 L655.1,332.6 L655.5,331.8 L655.8,331 L656.2,330.1 L656.5,329.2 L656.9,328.2 L657.2,327.2 L657.6,326.2 L657.9,325.1 L658.3,324 L658.6,322.9 L659,321.7 L659.3,320.5 L659.7,319.3 L660,318 L660.3,316.6 L660.7,315.1 L661,313.5 L661.4,311.9 L661.7,310.1 L662.1,308.3 L662.4,306.4 L662.8,304.4 L663.1,302.3 L663.5,300.1 L663.8,297.8 L664.2,295.4 L664.5,292.9 L664.8,290.3 L665.2,287.6 L665.5,284.7 L665.9,281.8 L666.2,278.3 L666.6,274 L666.9,268.9 L667.3,263.4 L667.6,257.6 L668,251.8 L668.3,246.3 L668.7,241.2 L669,236.7 L669.4,233.2 L669.7,230.1 L670,227.1 L670.4,224.4 L670.7,221.8 L671.1,219.6 L671.4,217.6 L671.8,216" fill="none" stroke="#3d6c9e" stroke-width="1.0" stroke-linejoin="round" stroke-linecap="round" /><circle cx="498.8" cy="356.6" r="2.0" fill="#2f5f92"/><circle cx="498" cy="356" r="0.8" fill="#d6e4f2" fill-opacity="0.85"/><circle cx="505.5" cy="356.3" r="2.0" fill="#2f5f92"/><circle cx="504.7" cy="355.7" r="0.8" fill="#d6e4f2" fill-opacity="0.85"/><circle cx="512.2" cy="356.1" r="2.0" fill="#2f5f92"/><circle cx="511.4" cy="355.5" r="0.8" fill="#d6e4f2" fill-opacity="0.85"/><circle cx="518.9" cy="355.9" r="2.0" fill="#2f5f92"/><circle cx="518.1" cy="355.3" r="0.8" fill="#d6e4f2" fill-opacity="0.85"/><circle cx="525.6" cy="355.7" r="2.0" fill="#2f5f92"/><circle cx="524.8" cy="355.1" r="0.8" fill="#d6e4f2" fill-opacity="0.85"/><circle cx="532.3" cy="355.5" r="2.0" fill="#2f5f92"/><circle cx="531.5" cy="354.9" r="0.8" fill="#d6e4f2" fill-opacity="0.85"/><circle cx="538.9" cy="355.3" r="2.0" fill="#2f5f92"/><circle cx="538.1" cy="354.7" r="0.8" fill="#d6e4f2" fill-opacity="0.85"/><circle cx="545.6" cy="355" r="2.0" fill="#2f5f92"/><circle cx="544.8" cy="354.4" r="0.8" fill="#d6e4f2" fill-opacity="0.85"/><circle cx="552.3" cy="354.8" r="2.0" fill="#2f5f92"/><circle cx="551.5" cy="354.2" r="0.8" fill="#d6e4f2" fill-opacity="0.85"/><circle cx="559" cy="354.6" r="2.0" fill="#2f5f92"/><circle cx="558.2" cy="354" r="0.8" fill="#d6e4f2" fill-opacity="0.85"/><circle cx="565.7" cy="354.4" r="2.0" fill="#2f5f92"/><circle cx="564.9" cy="353.8" r="0.8" fill="#d6e4f2" fill-opacity="0.85"/><circle cx="572.4" cy="354.2" r="2.0" fill="#2f5f92"/><circle cx="571.6" cy="353.6" r="0.8" fill="#d6e4f2" fill-opacity="0.85"/><circle cx="579" cy="353.9" r="2.0" fill="#2f5f92"/><circle cx="578.2" cy="353.3" r="0.8" fill="#d6e4f2" fill-opacity="0.85"/><circle cx="585.7" cy="353.7" r="2.0" fill="#2f5f92"/><circle cx="584.9" cy="353.1" r="0.8" fill="#d6e4f2" fill-opacity="0.85"/><circle cx="592.4" cy="353.5" r="2.0" fill="#2f5f92"/><circle cx="591.6" cy="352.9" r="0.8" fill="#d6e4f2" fill-opacity="0.85"/><circle cx="599.1" cy="353.3" r="2.0" fill="#2f5f92"/><circle cx="598.3" cy="352.7" r="0.8" fill="#d6e4f2" fill-opacity="0.85"/><circle cx="605.8" cy="353.2" r="2.0" fill="#2f5f92"/><circle cx="605" cy="352.6" r="0.8" fill="#d6e4f2" fill-opacity="0.85"/><circle cx="612.5" cy="352.2" r="2.0" fill="#2f5f92"/><circle cx="611.7" cy="351.6" r="0.8" fill="#d6e4f2" fill-opacity="0.85"/><circle cx="619.1" cy="351.6" r="2.0" fill="#2f5f92"/><circle cx="618.3" cy="351" r="0.8" fill="#d6e4f2" fill-opacity="0.85"/><circle cx="625.8" cy="350.9" r="2.0" fill="#2f5f92"/><circle cx="625" cy="350.3" r="0.8" fill="#d6e4f2" fill-opacity="0.85"/><circle cx="632.5" cy="349.3" r="2.0" fill="#2f5f92"/><circle cx="631.7" cy="348.7" r="0.8" fill="#d6e4f2" fill-opacity="0.85"/><circle cx="639.2" cy="347.2" r="2.0" fill="#2f5f92"/><circle cx="638.4" cy="346.6" r="0.8" fill="#d6e4f2" fill-opacity="0.85"/><circle cx="645.9" cy="343.5" r="2.0" fill="#2f5f92"/><circle cx="645.1" cy="342.9" r="0.8" fill="#d6e4f2" fill-opacity="0.85"/><circle cx="652.6" cy="337.3" r="2.0" fill="#2f5f92"/><circle cx="651.8" cy="336.7" r="0.8" fill="#d6e4f2" fill-opacity="0.85"/><circle cx="659.2" cy="320.7" r="2.0" fill="#2f5f92"/><circle cx="658.4" cy="320.1" r="0.8" fill="#d6e4f2" fill-opacity="0.85"/><circle cx="665.9" cy="281.4" r="2.0" fill="#2f5f92"/><circle cx="665.1" cy="280.8" r="0.8" fill="#d6e4f2" fill-opacity="0.85"/></g><g clip-path="url(#cp7)"><path d="M498.8,360.7 L499.2,360.6 L499.5,360.6 L499.9,360.6 L500.2,360.6 L500.6,360.6 L500.9,360.6 L501.3,360.6 L501.6,360.6 L502,360.6 L502.3,360.6 L502.7,360.6 L503,360.5 L503.4,360.5 L503.7,360.5 L504.1,360.5 L504.4,360.5 L504.8,360.5 L505.1,360.5 L505.5,360.5 L505.8,360.5 L506.2,360.5 L506.5,360.5 L506.9,360.5 L507.2,360.4 L507.5,360.4 L507.9,360.4 L508.2,360.4 L508.6,360.4 L508.9,360.4 L509.3,360.4 L509.6,360.4 L510,360.4 L510.3,360.4 L510.7,360.4 L511,360.3 L511.4,360.3 L511.7,360.3 L512.1,360.3 L512.4,360.3 L512.8,360.3 L513.1,360.3 L513.5,360.3 L513.8,360.3 L514.2,360.3 L514.5,360.3 L514.9,360.2 L515.2,360.2 L515.6,360.2 L515.9,360.2 L516.3,360.2 L516.6,360.2 L517,360.2 L517.3,360.2 L517.6,360.2 L518,360.2 L518.3,360.2 L518.7,360.1 L519,360.1 L519.4,360.1 L519.7,360.1 L520.1,360.1 L520.4,360.1 L520.8,360.1 L521.1,360.1 L521.5,360.1 L521.8,360.1 L522.2,360.1 L522.5,360.1 L522.9,360 L523.2,360 L523.6,360 L523.9,360 L524.3,360 L524.6,360 L525,360 L525.3,360 L525.7,360 L526,360 L526.4,360 L526.7,359.9 L527,359.9 L527.4,359.9 L527.7,359.9 L528.1,359.9 L528.4,359.9 L528.8,359.9 L529.1,359.9 L529.5,359.9 L529.8,359.9 L530.2,359.9 L530.5,359.8 L530.9,359.8 L531.2,359.8 L531.6,359.8 L531.9,359.8 L532.3,359.8 L532.6,359.8 L533,359.8 L533.3,359.8 L533.7,359.8 L534,359.8 L534.4,359.7 L534.7,359.7 L535.1,359.7 L535.4,359.7 L535.8,359.7 L536.1,359.7 L536.5,359.7 L536.8,359.7 L537.1,359.7 L537.5,359.7 L537.8,359.7 L538.2,359.7 L538.5,359.6 L538.9,359.6 L539.2,359.6 L539.6,359.6 L539.9,359.6 L540.3,359.6 L540.6,359.6 L541,359.6 L541.3,359.6 L541.7,359.6 L542,359.6 L542.4,359.5 L542.7,359.5 L543.1,359.5 L543.4,359.5 L543.8,359.5 L544.1,359.5 L544.5,359.5 L544.8,359.5 L545.2,359.5 L545.5,359.5 L545.9,359.5 L546.2,359.4 L546.6,359.4 L546.9,359.4 L547.2,359.4 L547.6,359.4 L547.9,359.4 L548.3,359.4 L548.6,359.4 L549,359.4 L549.3,359.4 L549.7,359.4 L550,359.3 L550.4,359.3 L550.7,359.3 L551.1,359.3 L551.4,359.3 L551.8,359.3 L552.1,359.3 L552.5,359.3 L552.8,359.3 L553.2,359.3 L553.5,359.3 L553.9,359.3 L554.2,359.2 L554.6,359.2 L554.9,359.2 L555.3,359.2 L555.6,359.2 L556,359.2 L556.3,359.2 L556.7,359.2 L557,359.2 L557.3,359.2 L557.7,359.2 L558,359.1 L558.4,359.1 L558.7,359.1 L559.1,359.1 L559.4,359.1 L559.8,359.1 L560.1,359.1 L560.5,359.1 L560.8,359.1 L561.2,359.1 L561.5,359.1 L561.9,359 L562.2,359 L562.6,359 L562.9,359 L563.3,359 L563.6,359 L564,359 L564.3,359 L564.7,359 L565,359 L565.4,359 L565.7,358.9 L566.1,358.9 L566.4,358.9 L566.7,358.9 L567.1,358.9 L567.4,358.9 L567.8,358.9 L568.1,358.9 L568.5,358.9 L568.8,358.9 L569.2,358.9 L569.5,358.9 L569.9,358.8 L570.2,358.8 L570.6,358.8 L570.9,358.8 L571.3,358.8 L571.6,358.8 L572,358.8 L572.3,358.8 L572.7,358.8 L573,358.8 L573.4,358.8 L573.7,358.7 L574.1,358.7 L574.4,358.7 L574.8,358.7 L575.1,358.7 L575.5,358.7 L575.8,358.7 L576.2,358.7 L576.5,358.7 L576.8,358.7 L577.2,358.7 L577.5,358.6 L577.9,358.6 L578.2,358.6 L578.6,358.6 L578.9,358.6 L579.3,358.6 L579.6,358.6 L580,358.6 L580.3,358.6 L580.7,358.6 L581,358.6 L581.4,358.5 L581.7,358.5 L582.1,358.5 L582.4,358.5 L582.8,358.5 L583.1,358.5 L583.5,358.5 L583.8,358.5 L584.2,358.5 L584.5,358.5 L584.9,358.5 L585.2,358.5 L585.6,358.4 L585.9,358.4 L586.3,358.4 L586.6,358.4 L586.9,358.4 L587.3,358.4 L587.6,358.4 L588,358.4 L588.3,358.4 L588.7,358.4 L589,358.4 L589.4,358.3 L589.7,358.3 L590.1,358.3 L590.4,358.3 L590.8,358.3 L591.1,358.3 L591.5,358.3 L591.8,358.3 L592.2,358.3 L592.5,358.3 L592.9,358.3 L593.2,358.2 L593.6,358.2 L593.9,358.2 L594.3,358.2 L594.6,358.2 L595,358.2 L595.3,358.2 L595.7,358.2 L596,358.2 L596.4,358.1 L596.7,358.1 L597,358.1 L597.4,358.1 L597.7,358.1 L598.1,358.1 L598.4,358.1 L598.8,358.1 L599.1,358.1 L599.5,358.1 L599.8,358.1 L600.2,358.1 L600.5,358.1 L600.9,358.1 L601.2,358.1 L601.6,358.2 L601.9,358.2 L602.3,358.2 L602.6,358.2 L603,358.2 L603.3,358.2 L603.7,358.3 L604,358.3 L604.4,358.3 L604.7,358.3 L605.1,358.3 L605.4,358.3 L605.8,358.3 L606.1,358.3 L606.4,358.3 L606.8,358.3 L607.1,358.3 L607.5,358.2 L607.8,358.2 L608.2,358.2 L608.5,358.2 L608.9,358.1 L609.2,358.1 L609.6,358.1 L609.9,358 L610.3,358 L610.6,358 L611,357.9 L611.3,357.9 L611.7,357.9 L612,357.8 L612.4,357.8 L612.7,357.8 L613.1,357.7 L613.4,357.7 L613.8,357.7 L614.1,357.6 L614.5,357.6 L614.8,357.6 L615.2,357.5 L615.5,357.5 L615.9,357.5 L616.2,357.4 L616.5,357.4 L616.9,357.3 L617.2,357.3 L617.6,357.3 L617.9,357.2 L618.3,357.2 L618.6,357.1 L619,357.1 L619.3,357 L619.7,357 L620,357 L620.4,356.9 L620.7,356.8 L621.1,356.8 L621.4,356.7 L621.8,356.7 L622.1,356.6 L622.5,356.6 L622.8,356.5 L623.2,356.4 L623.5,356.4 L623.9,356.3 L624.2,356.3 L624.6,356.2 L624.9,356.1 L625.3,356.1 L625.6,356 L626,356 L626.3,355.9 L626.6,355.9 L627,355.8 L627.3,355.8 L627.7,355.7 L628,355.7 L628.4,355.6 L628.7,355.6 L629.1,355.5 L629.4,355.5 L629.8,355.4 L630.1,355.4 L630.5,355.3 L630.8,355.3 L631.2,355.2 L631.5,355.2 L631.9,355.1 L632.2,355 L632.6,355 L632.9,354.9 L633.3,354.8 L633.6,354.7 L634,354.7 L634.3,354.6 L634.7,354.5 L635,354.4 L635.4,354.3 L635.7,354.2 L636.1,354.1 L636.4,354 L636.7,353.9 L637.1,353.8 L637.4,353.7 L637.8,353.6 L638.1,353.5 L638.5,353.4 L638.8,353.3 L639.2,353.2 L639.5,353.1 L639.9,353 L640.2,352.9 L640.6,352.8 L640.9,352.7 L641.3,352.5 L641.6,352.4 L642,352.3 L642.3,352.2 L642.7,352.1 L643,352 L643.4,351.8 L643.7,351.7 L644.1,351.6 L644.4,351.4 L644.8,351.3 L645.1,351.1 L645.5,350.9 L645.8,350.8 L646.1,350.6 L646.5,350.4 L646.8,350.2 L647.2,349.9 L647.5,349.7 L647.9,349.4 L648.2,349.1 L648.6,348.8 L648.9,348.5 L649.3,348.2 L649.6,347.9 L650,347.5 L650.3,347.2 L650.7,346.8 L651,346.4 L651.4,346 L651.7,345.6 L652.1,345.1 L652.4,344.7 L652.8,344.2 L653.1,343.7 L653.5,343.2 L653.8,342.6 L654.2,342 L654.5,341.3 L654.9,340.6 L655.2,339.9 L655.6,339.1 L655.9,338.3 L656.2,337.5 L656.6,336.7 L656.9,335.8 L657.3,334.9 L657.6,333.9 L658,332.9 L658.3,331.9 L658.7,330.9 L659,329.8 L659.4,328.7 L659.7,327.6 L660.1,326.4 L660.4,325.2 L660.8,323.9 L661.1,322.6 L661.5,321.2 L661.8,319.7 L662.2,318.2 L662.5,316.6 L662.9,314.9 L663.2,313.1 L663.6,311.3 L663.9,309.3 L664.3,307.2 L664.6,305.1 L665,302.8 L665.3,300.3 L665.7,297.8 L666,295.1 L666.3,291.7 L666.7,287.3 L667,282.3 L667.4,276.6 L667.7,270.6 L668.1,264.4 L668.4,258.2 L668.8,252.2 L669.1,246.5 L669.5,241.3 L669.8,236.9 L670.2,233.3 L670.5,230.2 L670.9,227.2 L671.2,224.4 L671.6,221.9 L671.9,219.7 L672.3,217.7 L672.6,216" fill="none" stroke="#da5050" stroke-width="1.0" stroke-linejoin="round" stroke-linecap="round" /><circle cx="498.8" cy="360.7" r="2.0" fill="#c94242"/><circle cx="498" cy="360.1" r="0.8" fill="#f8d8d8" fill-opacity="0.85"/><circle cx="505.5" cy="360.5" r="2.0" fill="#c94242"/><circle cx="504.7" cy="359.9" r="0.8" fill="#f8d8d8" fill-opacity="0.85"/><circle cx="512.2" cy="360.3" r="2.0" fill="#c94242"/><circle cx="511.4" cy="359.7" r="0.8" fill="#f8d8d8" fill-opacity="0.85"/><circle cx="518.9" cy="360.1" r="2.0" fill="#c94242"/><circle cx="518.1" cy="359.5" r="0.8" fill="#f8d8d8" fill-opacity="0.85"/><circle cx="525.6" cy="360" r="2.0" fill="#c94242"/><circle cx="524.8" cy="359.4" r="0.8" fill="#f8d8d8" fill-opacity="0.85"/><circle cx="532.3" cy="359.8" r="2.0" fill="#c94242"/><circle cx="531.5" cy="359.2" r="0.8" fill="#f8d8d8" fill-opacity="0.85"/><circle cx="538.9" cy="359.6" r="2.0" fill="#c94242"/><circle cx="538.1" cy="359" r="0.8" fill="#f8d8d8" fill-opacity="0.85"/><circle cx="545.6" cy="359.5" r="2.0" fill="#c94242"/><circle cx="544.8" cy="358.9" r="0.8" fill="#f8d8d8" fill-opacity="0.85"/><circle cx="552.3" cy="359.3" r="2.0" fill="#c94242"/><circle cx="551.5" cy="358.7" r="0.8" fill="#f8d8d8" fill-opacity="0.85"/><circle cx="559" cy="359.1" r="2.0" fill="#c94242"/><circle cx="558.2" cy="358.5" r="0.8" fill="#f8d8d8" fill-opacity="0.85"/><circle cx="565.7" cy="358.9" r="2.0" fill="#c94242"/><circle cx="564.9" cy="358.3" r="0.8" fill="#f8d8d8" fill-opacity="0.85"/><circle cx="572.4" cy="358.8" r="2.0" fill="#c94242"/><circle cx="571.6" cy="358.2" r="0.8" fill="#f8d8d8" fill-opacity="0.85"/><circle cx="579" cy="358.6" r="2.0" fill="#c94242"/><circle cx="578.2" cy="358" r="0.8" fill="#f8d8d8" fill-opacity="0.85"/><circle cx="585.7" cy="358.4" r="2.0" fill="#c94242"/><circle cx="584.9" cy="357.8" r="0.8" fill="#f8d8d8" fill-opacity="0.85"/><circle cx="592.4" cy="358.3" r="2.0" fill="#c94242"/><circle cx="591.6" cy="357.7" r="0.8" fill="#f8d8d8" fill-opacity="0.85"/><circle cx="599.1" cy="358.1" r="2.0" fill="#c94242"/><circle cx="598.3" cy="357.5" r="0.8" fill="#f8d8d8" fill-opacity="0.85"/><circle cx="605.8" cy="358.3" r="2.0" fill="#c94242"/><circle cx="605" cy="357.7" r="0.8" fill="#f8d8d8" fill-opacity="0.85"/><circle cx="612.5" cy="357.8" r="2.0" fill="#c94242"/><circle cx="611.7" cy="357.2" r="0.8" fill="#f8d8d8" fill-opacity="0.85"/><circle cx="619.1" cy="357.1" r="2.0" fill="#c94242"/><circle cx="618.3" cy="356.5" r="0.8" fill="#f8d8d8" fill-opacity="0.85"/><circle cx="625.8" cy="356" r="2.0" fill="#c94242"/><circle cx="625" cy="355.4" r="0.8" fill="#f8d8d8" fill-opacity="0.85"/><circle cx="632.5" cy="355" r="2.0" fill="#c94242"/><circle cx="631.7" cy="354.4" r="0.8" fill="#f8d8d8" fill-opacity="0.85"/><circle cx="639.2" cy="353.2" r="2.0" fill="#c94242"/><circle cx="638.4" cy="352.6" r="0.8" fill="#f8d8d8" fill-opacity="0.85"/><circle cx="645.9" cy="350.7" r="2.0" fill="#c94242"/><circle cx="645.1" cy="350.1" r="0.8" fill="#f8d8d8" fill-opacity="0.85"/><circle cx="652.6" cy="344.5" r="2.0" fill="#c94242"/><circle cx="651.8" cy="343.9" r="0.8" fill="#f8d8d8" fill-opacity="0.85"/><circle cx="659.2" cy="329.1" r="2.0" fill="#c94242"/><circle cx="658.4" cy="328.5" r="0.8" fill="#f8d8d8" fill-opacity="0.85"/><circle cx="665.9" cy="295.7" r="2.0" fill="#c94242"/><circle cx="665.1" cy="295.1" r="0.8" fill="#f8d8d8" fill-opacity="0.85"/></g><line x1="517.5" y1="244.2" x2="537.9" y2="244.2" stroke="#5f86b2" stroke-width="1" /><circle cx="527.7" cy="244.2" r="2.1" fill="#2f5f92"/><circle cx="526.9" cy="243.6" r="0.8" fill="#d6e4f2" fill-opacity="0.85"/><text x="540.5" y="247.3" font-size="9" text-anchor="start" font-weight="normal" fill="#1a1a1a" >PM6:PY-IT</text><line x1="517.5" y1="255.3" x2="537.9" y2="255.3" stroke="#e07f7f" stroke-width="1" /><circle cx="527.7" cy="255.3" r="2.1" fill="#c94242"/><circle cx="526.9" cy="254.7" r="0.8" fill="#f8d8d8" fill-opacity="0.85"/><text x="540.5" y="258.4" font-size="9" text-anchor="start" font-weight="normal" fill="#1a1a1a" >PM6:PY-IT-sonicated</text><text x="482" y="411.6" font-size="17" text-anchor="start" font-weight="bold" fill="#1e1414" >i</text><rect x="494.6" y="416.8" width="184.4" height="148.1" fill="none" stroke="#2b2b2b" stroke-width="1"/><line x1="503.4" y1="564.9" x2="503.4" y2="567.9" stroke="#2b2b2b" stroke-width="1" /><line x1="538.5" y1="564.9" x2="538.5" y2="567.9" stroke="#2b2b2b" stroke-width="1" /><line x1="573.6" y1="564.9" x2="573.6" y2="567.9" stroke="#2b2b2b" stroke-width="1" /><line x1="608.8" y1="564.9" x2="608.8" y2="567.9" stroke="#2b2b2b" stroke-width="1" /><line x1="643.9" y1="564.9" x2="643.9" y2="567.9" stroke="#2b2b2b" stroke-width="1" /><line x1="679" y1="564.9" x2="679" y2="567.9" stroke="#2b2b2b" stroke-width="1" /><line x1="520.9" y1="564.9" x2="520.9" y2="566.7" stroke="#2b2b2b" stroke-width="1" /><line x1="556.1" y1="564.9" x2="556.1" y2="566.7" stroke="#2b2b2b" stroke-width="1" /><line x1="591.2" y1="564.9" x2="591.2" y2="566.7" stroke="#2b2b2b" stroke-width="1" /><line x1="626.3" y1="564.9" x2="626.3" y2="566.7" stroke="#2b2b2b" stroke-width="1" /><line x1="661.4" y1="564.9" x2="661.4" y2="566.7" stroke="#2b2b2b" stroke-width="1" /><text x="503.4" y="576.6" font-size="8.5" text-anchor="middle" font-weight="normal" fill="#1a1a1a" >0.0</text><text x="538.5" y="576.6" font-size="8.5" text-anchor="middle" font-weight="normal" fill="#1a1a1a" >0.2</text><text x="573.6" y="576.6" font-size="8.5" text-anchor="middle" font-weight="normal" fill="#1a1a1a" >0.4</text><text x="608.8" y="576.6" font-size="8.5" text-anchor="middle" font-weight="normal" fill="#1a1a1a" >0.6</text><text x="643.9" y="576.6" font-size="8.5" text-anchor="middle" font-weight="normal" fill="#1a1a1a" >0.8</text><text x="679" y="576.6" font-size="8.5" text-anchor="middle" font-weight="normal" fill="#1a1a1a" >1.0</text><line x1="491.6" y1="432.1" x2="494.6" y2="432.1" stroke="#2b2b2b" stroke-width="1" /><line x1="491.6" y1="457.7" x2="494.6" y2="457.7" stroke="#2b2b2b" stroke-width="1" /><line x1="491.6" y1="483.2" x2="494.6" y2="483.2" stroke="#2b2b2b" stroke-width="1" /><line x1="491.6" y1="508.7" x2="494.6" y2="508.7" stroke="#2b2b2b" stroke-width="1" /><line x1="491.6" y1="534.3" x2="494.6" y2="534.3" stroke="#2b2b2b" stroke-width="1" /><line x1="491.6" y1="559.8" x2="494.6" y2="559.8" stroke="#2b2b2b" stroke-width="1" /><line x1="492.8" y1="444.9" x2="494.6" y2="444.9" stroke="#2b2b2b" stroke-width="1" /><line x1="492.8" y1="470.4" x2="494.6" y2="470.4" stroke="#2b2b2b" stroke-width="1" /><line x1="492.8" y1="496" x2="494.6" y2="496" stroke="#2b2b2b" stroke-width="1" /><line x1="492.8" y1="521.5" x2="494.6" y2="521.5" stroke="#2b2b2b" stroke-width="1" /><line x1="492.8" y1="547" x2="494.6" y2="547" stroke="#2b2b2b" stroke-width="1" /><line x1="492.8" y1="419.4" x2="494.6" y2="419.4" stroke="#2b2b2b" stroke-width="1" /><text x="489.4" y="435.2" font-size="8.5" text-anchor="end" font-weight="normal" fill="#1a1a1a" >0</text><text x="489.4" y="460.8" font-size="8.5" text-anchor="end" font-weight="normal" fill="#1a1a1a" >-5</text><text x="489.4" y="486.3" font-size="8.5" text-anchor="end" font-weight="normal" fill="#1a1a1a" >-10</text><text x="489.4" y="511.8" font-size="8.5" text-anchor="end" font-weight="normal" fill="#1a1a1a" >-15</text><text x="489.4" y="537.4" font-size="8.5" text-anchor="end" font-weight="normal" fill="#1a1a1a" >-20</text><text x="489.4" y="562.9" font-size="8.5" text-anchor="end" font-weight="normal" fill="#1a1a1a" >-25</text><text x="586.8" y="590.6" font-size="9" text-anchor="middle" font-weight="normal" fill="#1a1a1a" >Voltage (V)</text><text x="0" y="0" font-size="9" text-anchor="middle" font-weight="normal" fill="#1a1a1a" transform="translate(471.6,490.9) rotate(-90)">Current&#160; density (mA cm<tspan font-size="6" dy="-3.5">-2</tspan><tspan dy="3.5">)</tspan></text><line x1="503.4" y1="416.8" x2="503.4" y2="564.9" stroke="#333" stroke-width="1.3" /><line x1="494.6" y1="432.1" x2="679" y2="432.1" stroke="#5e5e5e" stroke-width="1.5" /><g clip-path="url(#cp8)"><path d="M499.9,555.7 L500.2,555.7 L500.6,555.7 L500.9,555.7 L501.2,555.6 L501.6,555.6 L501.9,555.6 L502.3,555.6 L502.6,555.6 L503,555.6 L503.3,555.6 L503.7,555.5 L504,555.5 L504.4,555.5 L504.7,555.5 L505,555.5 L505.4,555.5 L505.7,555.5 L506.1,555.4 L506.4,555.4 L506.8,555.4 L507.1,555.4 L507.5,555.4 L507.8,555.4 L508.1,555.4 L508.5,555.3 L508.8,555.3 L509.2,555.3 L509.5,555.3 L509.9,555.3 L510.2,555.3 L510.6,555.3 L510.9,555.2 L511.3,555.2 L511.6,555.2 L511.9,555.2 L512.3,555.2 L512.6,555.2 L513,555.2 L513.3,555.1 L513.7,555.1 L514,555.1 L514.4,555.1 L514.7,555.1 L515,555.1 L515.4,555.1 L515.7,555 L516.1,555 L516.4,555 L516.8,555 L517.1,555 L517.5,555 L517.8,555 L518.1,554.9 L518.5,554.9 L518.8,554.9 L519.2,554.9 L519.5,554.9 L519.9,554.9 L520.2,554.8 L520.6,554.8 L520.9,554.8 L521.3,554.8 L521.6,554.8 L521.9,554.8 L522.3,554.8 L522.6,554.7 L523,554.7 L523.3,554.7 L523.7,554.7 L524,554.7 L524.4,554.7 L524.7,554.7 L525,554.6 L525.4,554.6 L525.7,554.6 L526.1,554.6 L526.4,554.6 L526.8,554.6 L527.1,554.6 L527.5,554.5 L527.8,554.5 L528.2,554.5 L528.5,554.5 L528.8,554.5 L529.2,554.5 L529.5,554.5 L529.9,554.4 L530.2,554.4 L530.6,554.4 L530.9,554.4 L531.3,554.4 L531.6,554.4 L531.9,554.4 L532.3,554.3 L532.6,554.3 L533,554.3 L533.3,554.3 L533.7,554.3 L534,554.3 L534.4,554.3 L534.7,554.2 L535,554.2 L535.4,554.2 L535.7,554.2 L536.1,554.2 L536.4,554.2 L536.8,554.2 L537.1,554.1 L537.5,554.1 L537.8,554.1 L538.2,554.1 L538.5,554.1 L538.8,554.1 L539.2,554 L539.5,554 L539.9,554 L540.2,554 L540.6,554 L540.9,554 L541.3,554 L541.6,553.9 L541.9,553.9 L542.3,553.9 L542.6,553.9 L543,553.9 L543.3,553.9 L543.7,553.9 L544,553.8 L544.4,553.8 L544.7,553.8 L545.1,553.8 L545.4,553.8 L545.7,553.8 L546.1,553.8 L546.4,553.7 L546.8,553.7 L547.1,553.7 L547.5,553.7 L547.8,553.7 L548.2,553.7 L548.5,553.7 L548.8,553.6 L549.2,553.6 L549.5,553.6 L549.9,553.6 L550.2,553.6 L550.6,553.6 L550.9,553.6 L551.3,553.5 L551.6,553.5 L551.9,553.5 L552.3,553.5 L552.6,553.5 L553,553.5 L553.3,553.5 L553.7,553.4 L554,553.4 L554.4,553.4 L554.7,553.4 L555.1,553.4 L555.4,553.4 L555.7,553.4 L556.1,553.3 L556.4,553.3 L556.8,553.3 L557.1,553.3 L557.5,553.3 L557.8,553.3 L558.2,553.2 L558.5,553.2 L558.8,553.2 L559.2,553.2 L559.5,553.2 L559.9,553.2 L560.2,553.2 L560.6,553.1 L560.9,553.1 L561.3,553.1 L561.6,553.1 L562,553.1 L562.3,553.1 L562.6,553.1 L563,553 L563.3,553 L563.7,553 L564,553 L564.4,553 L564.7,553 L565.1,553 L565.4,552.9 L565.7,552.9 L566.1,552.9 L566.4,552.9 L566.8,552.9 L567.1,552.9 L567.5,552.9 L567.8,552.8 L568.2,552.8 L568.5,552.8 L568.8,552.8 L569.2,552.8 L569.5,552.8 L569.9,552.8 L570.2,552.7 L570.6,552.7 L570.9,552.7 L571.3,552.7 L571.6,552.7 L572,552.7 L572.3,552.7 L572.6,552.6 L573,552.6 L573.3,552.6 L573.7,552.6 L574,552.6 L574.4,552.6 L574.7,552.6 L575.1,552.5 L575.4,552.5 L575.7,552.5 L576.1,552.5 L576.4,552.5 L576.8,552.5 L577.1,552.4 L577.5,552.4 L577.8,552.4 L578.2,552.4 L578.5,552.4 L578.9,552.4 L579.2,552.4 L579.5,552.3 L579.9,552.3 L580.2,552.3 L580.6,552.3 L580.9,552.3 L581.3,552.3 L581.6,552.3 L582,552.2 L582.3,552.2 L582.6,552.2 L583,552.2 L583.3,552.2 L583.7,552.2 L584,552.2 L584.4,552.1 L584.7,552.1 L585.1,552.1 L585.4,552.1 L585.7,552.1 L586.1,552.1 L586.4,552.1 L586.8,552 L587.1,552 L587.5,552 L587.8,552 L588.2,552 L588.5,552 L588.9,552 L589.2,551.9 L589.5,551.9 L589.9,551.9 L590.2,551.9 L590.6,551.9 L590.9,551.9 L591.3,551.9 L591.6,551.8 L592,551.8 L592.3,551.8 L592.6,551.8 L593,551.8 L593.3,551.8 L593.7,551.8 L594,551.7 L594.4,551.7 L594.7,551.7 L595.1,551.7 L595.4,551.7 L595.8,551.7 L596.1,551.7 L596.4,551.6 L596.8,551.6 L597.1,551.6 L597.5,551.6 L597.8,551.6 L598.2,551.6 L598.5,551.5 L598.9,551.5 L599.2,551.5 L599.5,551.5 L599.9,551.5 L600.2,551.5 L600.6,551.5 L600.9,551.5 L601.3,551.4 L601.6,551.4 L602,551.4 L602.3,551.4 L602.6,551.4 L603,551.4 L603.3,551.4 L603.7,551.3 L604,551.3 L604.4,551.3 L604.7,551.3 L605.1,551.3 L605.4,551.3 L605.8,551.2 L606.1,551.2 L606.4,551.2 L606.8,551.2 L607.1,551.1 L607.5,551.1 L607.8,551.1 L608.2,551.1 L608.5,551 L608.9,551 L609.2,551 L609.5,550.9 L609.9,550.9 L610.2,550.9 L610.6,550.8 L610.9,550.8 L611.3,550.8 L611.6,550.8 L612,550.7 L612.3,550.7 L612.7,550.7 L613,550.6 L613.3,550.6 L613.7,550.6 L614,550.6 L614.4,550.6 L614.7,550.5 L615.1,550.5 L615.4,550.5 L615.8,550.5 L616.1,550.4 L616.4,550.4 L616.8,550.4 L617.1,550.4 L617.5,550.3 L617.8,550.3 L618.2,550.3 L618.5,550.3 L618.9,550.2 L619.2,550.2 L619.5,550.2 L619.9,550.1 L620.2,550.1 L620.6,550 L620.9,550 L621.3,549.9 L621.6,549.9 L622,549.8 L622.3,549.8 L622.7,549.7 L623,549.7 L623.3,549.6 L623.7,549.6 L624,549.5 L624.4,549.5 L624.7,549.4 L625.1,549.3 L625.4,549.3 L625.8,549.2 L626.1,549.2 L626.4,549.2 L626.8,549.1 L627.1,549.1 L627.5,549 L627.8,549 L628.2,549 L628.5,548.9 L628.9,548.9 L629.2,548.8 L629.6,548.8 L629.9,548.8 L630.2,548.7 L630.6,548.7 L630.9,548.7 L631.3,548.6 L631.6,548.6 L632,548.5 L632.3,548.5 L632.7,548.4 L633,548.4 L633.3,548.4 L633.7,548.3 L634,548.3 L634.4,548.2 L634.7,548.2 L635.1,548.1 L635.4,548.1 L635.8,548 L636.1,548 L636.5,547.9 L636.8,547.9 L637.1,547.8 L637.5,547.7 L637.8,547.7 L638.2,547.6 L638.5,547.5 L638.9,547.5 L639.2,547.4 L639.6,547.3 L639.9,547.2 L640.2,547.1 L640.6,547 L640.9,546.9 L641.3,546.8 L641.6,546.6 L642,546.4 L642.3,546.3 L642.7,546.1 L643,545.9 L643.3,545.6 L643.7,545.4 L644,545.2 L644.4,544.9 L644.7,544.6 L645.1,544.3 L645.4,544 L645.8,543.7 L646.1,543.4 L646.5,543 L646.8,542.7 L647.1,542.3 L647.5,542 L647.8,541.5 L648.2,541.1 L648.5,540.6 L648.9,540 L649.2,539.4 L649.6,538.7 L649.9,538 L650.2,537.3 L650.6,536.5 L650.9,535.7 L651.3,534.9 L651.6,534 L652,533.1 L652.3,532.2 L652.7,531.3 L653,530.3 L653.4,529.4 L653.7,528.4 L654,527.4 L654.4,526.4 L654.7,525.4 L655.1,524.4 L655.4,523.3 L655.8,522.1 L656.1,521 L656.5,519.8 L656.8,518.5 L657.1,517.2 L657.5,515.9 L657.8,514.5 L658.2,513.1 L658.5,511.7 L658.9,510.2 L659.2,508.6 L659.6,507.1 L659.9,505.4 L660.2,503.8 L660.6,502.1 L660.9,500.4 L661.3,498.6 L661.6,496.8 L662,494.8 L662.3,492.8 L662.7,490.7 L663,488.4 L663.4,486.1 L663.7,483.7 L664,481.2 L664.4,478.7 L664.7,476 L665.1,473.4 L665.4,470.7 L665.8,467.9 L666.1,465.1 L666.5,462.3 L666.8,459.5 L667.1,456.6 L667.5,453.8 L667.8,450.9 L668.2,448.1 L668.5,445.2 L668.9,442.4 L669.2,439.4 L669.6,436.4 L669.9,433.4 L670.3,430.3 L670.6,427.1 L670.9,424 L671.3,420.8 L671.6,417.5 L672,414.2" fill="none" stroke="#3d6c9e" stroke-width="1.0" stroke-linejoin="round" stroke-linecap="round" /><circle cx="499.9" cy="555.7" r="2.0" fill="#2f5f92"/><circle cx="499.1" cy="555.1" r="0.8" fill="#d6e4f2" fill-opacity="0.85"/><circle cx="506.9" cy="555.4" r="2.0" fill="#2f5f92"/><circle cx="506.1" cy="554.8" r="0.8" fill="#d6e4f2" fill-opacity="0.85"/><circle cx="513.9" cy="555.1" r="2.0" fill="#2f5f92"/><circle cx="513.1" cy="554.5" r="0.8" fill="#d6e4f2" fill-opacity="0.85"/><circle cx="520.9" cy="554.8" r="2.0" fill="#2f5f92"/><circle cx="520.1" cy="554.2" r="0.8" fill="#d6e4f2" fill-opacity="0.85"/><circle cx="528" cy="554.5" r="2.0" fill="#2f5f92"/><circle cx="527.2" cy="553.9" r="0.8" fill="#d6e4f2" fill-opacity="0.85"/><circle cx="535" cy="554.2" r="2.0" fill="#2f5f92"/><circle cx="534.2" cy="553.6" r="0.8" fill="#d6e4f2" fill-opacity="0.85"/><circle cx="542" cy="553.9" r="2.0" fill="#2f5f92"/><circle cx="541.2" cy="553.3" r="0.8" fill="#d6e4f2" fill-opacity="0.85"/><circle cx="549" cy="553.6" r="2.0" fill="#2f5f92"/><circle cx="548.2" cy="553" r="0.8" fill="#d6e4f2" fill-opacity="0.85"/><circle cx="556.1" cy="553.3" r="2.0" fill="#2f5f92"/><circle cx="555.3" cy="552.7" r="0.8" fill="#d6e4f2" fill-opacity="0.85"/><circle cx="563.1" cy="553" r="2.0" fill="#2f5f92"/><circle cx="562.3" cy="552.4" r="0.8" fill="#d6e4f2" fill-opacity="0.85"/><circle cx="570.1" cy="552.7" r="2.0" fill="#2f5f92"/><circle cx="569.3" cy="552.1" r="0.8" fill="#d6e4f2" fill-opacity="0.85"/><circle cx="577.1" cy="552.4" r="2.0" fill="#2f5f92"/><circle cx="576.3" cy="551.8" r="0.8" fill="#d6e4f2" fill-opacity="0.85"/><circle cx="584.2" cy="552.2" r="2.0" fill="#2f5f92"/><circle cx="583.4" cy="551.6" r="0.8" fill="#d6e4f2" fill-opacity="0.85"/><circle cx="591.2" cy="551.9" r="2.0" fill="#2f5f92"/><circle cx="590.4" cy="551.3" r="0.8" fill="#d6e4f2" fill-opacity="0.85"/><circle cx="598.2" cy="551.6" r="2.0" fill="#2f5f92"/><circle cx="597.4" cy="551" r="0.8" fill="#d6e4f2" fill-opacity="0.85"/><circle cx="605.2" cy="551.3" r="2.0" fill="#2f5f92"/><circle cx="604.4" cy="550.7" r="0.8" fill="#d6e4f2" fill-opacity="0.85"/><circle cx="612.3" cy="550.7" r="2.0" fill="#2f5f92"/><circle cx="611.5" cy="550.1" r="0.8" fill="#d6e4f2" fill-opacity="0.85"/><circle cx="619.3" cy="550.2" r="2.0" fill="#2f5f92"/><circle cx="618.5" cy="549.6" r="0.8" fill="#d6e4f2" fill-opacity="0.85"/><circle cx="626.3" cy="549.2" r="2.0" fill="#2f5f92"/><circle cx="625.5" cy="548.6" r="0.8" fill="#d6e4f2" fill-opacity="0.85"/><circle cx="633.3" cy="548.4" r="2.0" fill="#2f5f92"/><circle cx="632.5" cy="547.8" r="0.8" fill="#d6e4f2" fill-opacity="0.85"/><circle cx="640.4" cy="547.1" r="2.0" fill="#2f5f92"/><circle cx="639.6" cy="546.5" r="0.8" fill="#d6e4f2" fill-opacity="0.85"/><circle cx="647.4" cy="542.1" r="2.0" fill="#2f5f92"/><circle cx="646.6" cy="541.5" r="0.8" fill="#d6e4f2" fill-opacity="0.85"/><circle cx="654.4" cy="526.3" r="2.0" fill="#2f5f92"/><circle cx="653.6" cy="525.7" r="0.8" fill="#d6e4f2" fill-opacity="0.85"/><circle cx="661.4" cy="497.8" r="2.0" fill="#2f5f92"/><circle cx="660.6" cy="497.2" r="0.8" fill="#d6e4f2" fill-opacity="0.85"/><circle cx="668.5" cy="445.8" r="2.0" fill="#2f5f92"/><circle cx="667.7" cy="445.2" r="0.8" fill="#d6e4f2" fill-opacity="0.85"/></g><g clip-path="url(#cp9)"><path d="M499.9,560.3 L500.2,560.3 L500.6,560.3 L500.9,560.3 L501.3,560.3 L501.6,560.2 L502,560.2 L502.3,560.2 L502.6,560.2 L503,560.2 L503.3,560.2 L503.7,560.2 L504,560.2 L504.4,560.2 L504.7,560.2 L505.1,560.1 L505.4,560.1 L505.8,560.1 L506.1,560.1 L506.5,560.1 L506.8,560.1 L507.2,560.1 L507.5,560.1 L507.8,560.1 L508.2,560 L508.5,560 L508.9,560 L509.2,560 L509.6,560 L509.9,560 L510.3,560 L510.6,560 L511,560 L511.3,559.9 L511.7,559.9 L512,559.9 L512.4,559.9 L512.7,559.9 L513.1,559.9 L513.4,559.9 L513.7,559.9 L514.1,559.9 L514.4,559.8 L514.8,559.8 L515.1,559.8 L515.5,559.8 L515.8,559.8 L516.2,559.8 L516.5,559.8 L516.9,559.8 L517.2,559.8 L517.6,559.7 L517.9,559.7 L518.3,559.7 L518.6,559.7 L519,559.7 L519.3,559.7 L519.6,559.7 L520,559.7 L520.3,559.7 L520.7,559.6 L521,559.6 L521.4,559.6 L521.7,559.6 L522.1,559.6 L522.4,559.6 L522.8,559.6 L523.1,559.6 L523.5,559.6 L523.8,559.5 L524.2,559.5 L524.5,559.5 L524.9,559.5 L525.2,559.5 L525.5,559.5 L525.9,559.5 L526.2,559.5 L526.6,559.5 L526.9,559.5 L527.3,559.4 L527.6,559.4 L528,559.4 L528.3,559.4 L528.7,559.4 L529,559.4 L529.4,559.4 L529.7,559.4 L530.1,559.4 L530.4,559.3 L530.8,559.3 L531.1,559.3 L531.4,559.3 L531.8,559.3 L532.1,559.3 L532.5,559.3 L532.8,559.3 L533.2,559.3 L533.5,559.2 L533.9,559.2 L534.2,559.2 L534.6,559.2 L534.9,559.2 L535.3,559.2 L535.6,559.2 L536,559.2 L536.3,559.2 L536.7,559.1 L537,559.1 L537.3,559.1 L537.7,559.1 L538,559.1 L538.4,559.1 L538.7,559.1 L539.1,559.1 L539.4,559.1 L539.8,559 L540.1,559 L540.5,559 L540.8,559 L541.2,559 L541.5,559 L541.9,559 L542.2,559 L542.6,559 L542.9,558.9 L543.2,558.9 L543.6,558.9 L543.9,558.9 L544.3,558.9 L544.6,558.9 L545,558.9 L545.3,558.9 L545.7,558.9 L546,558.8 L546.4,558.8 L546.7,558.8 L547.1,558.8 L547.4,558.8 L547.8,558.8 L548.1,558.8 L548.5,558.8 L548.8,558.8 L549.1,558.8 L549.5,558.7 L549.8,558.7 L550.2,558.7 L550.5,558.7 L550.9,558.7 L551.2,558.7 L551.6,558.7 L551.9,558.7 L552.3,558.7 L552.6,558.6 L553,558.6 L553.3,558.6 L553.7,558.6 L554,558.6 L554.3,558.6 L554.7,558.6 L555,558.6 L555.4,558.6 L555.7,558.5 L556.1,558.5 L556.4,558.5 L556.8,558.5 L557.1,558.5 L557.5,558.5 L557.8,558.5 L558.2,558.5 L558.5,558.5 L558.9,558.4 L559.2,558.4 L559.6,558.4 L559.9,558.4 L560.2,558.4 L560.6,558.4 L560.9,558.4 L561.3,558.4 L561.6,558.4 L562,558.3 L562.3,558.3 L562.7,558.3 L563,558.3 L563.4,558.3 L563.7,558.3 L564.1,558.3 L564.4,558.3 L564.8,558.3 L565.1,558.2 L565.5,558.2 L565.8,558.2 L566.1,558.2 L566.5,558.2 L566.8,558.2 L567.2,558.2 L567.5,558.2 L567.9,558.2 L568.2,558.2 L568.6,558.1 L568.9,558.1 L569.3,558.1 L569.6,558.1 L570,558.1 L570.3,558.1 L570.7,558.1 L571,558.1 L571.4,558.1 L571.7,558 L572,558 L572.4,558 L572.7,558 L573.1,558 L573.4,558 L573.8,558 L574.1,558 L574.5,558 L574.8,557.9 L575.2,557.9 L575.5,557.9 L575.9,557.9 L576.2,557.9 L576.6,557.9 L576.9,557.9 L577.3,557.9 L577.6,557.9 L577.9,557.8 L578.3,557.8 L578.6,557.8 L579,557.8 L579.3,557.8 L579.7,557.8 L580,557.8 L580.4,557.8 L580.7,557.8 L581.1,557.7 L581.4,557.7 L581.8,557.7 L582.1,557.7 L582.5,557.7 L582.8,557.7 L583.2,557.7 L583.5,557.7 L583.8,557.7 L584.2,557.6 L584.5,557.6 L584.9,557.6 L585.2,557.6 L585.6,557.6 L585.9,557.6 L586.3,557.6 L586.6,557.6 L587,557.6 L587.3,557.5 L587.7,557.5 L588,557.5 L588.4,557.5 L588.7,557.5 L589.1,557.5 L589.4,557.5 L589.7,557.5 L590.1,557.5 L590.4,557.5 L590.8,557.4 L591.1,557.4 L591.5,557.4 L591.8,557.4 L592.2,557.4 L592.5,557.4 L592.9,557.4 L593.2,557.4 L593.6,557.4 L593.9,557.3 L594.3,557.3 L594.6,557.3 L595,557.3 L595.3,557.3 L595.6,557.3 L596,557.3 L596.3,557.3 L596.7,557.3 L597,557.2 L597.4,557.2 L597.7,557.2 L598.1,557.2 L598.4,557.2 L598.8,557.2 L599.1,557.2 L599.5,557.2 L599.8,557.2 L600.2,557.1 L600.5,557.1 L600.8,557.1 L601.2,557.1 L601.5,557.1 L601.9,557.1 L602.2,557.1 L602.6,557.1 L602.9,557.1 L603.3,557.1 L603.6,557 L604,557 L604.3,557 L604.7,557 L605,557 L605.4,557 L605.7,557 L606.1,556.9 L606.4,556.9 L606.7,556.9 L607.1,556.9 L607.4,556.9 L607.8,556.8 L608.1,556.8 L608.5,556.8 L608.8,556.7 L609.2,556.7 L609.5,556.7 L609.9,556.7 L610.2,556.6 L610.6,556.6 L610.9,556.6 L611.3,556.6 L611.6,556.5 L612,556.5 L612.3,556.5 L612.6,556.4 L613,556.4 L613.3,556.4 L613.7,556.4 L614,556.3 L614.4,556.3 L614.7,556.3 L615.1,556.3 L615.4,556.2 L615.8,556.2 L616.1,556.2 L616.5,556.2 L616.8,556.1 L617.2,556.1 L617.5,556.1 L617.9,556.1 L618.2,556 L618.5,556 L618.9,556 L619.2,556 L619.6,555.9 L619.9,555.9 L620.3,555.9 L620.6,555.9 L621,555.8 L621.3,555.8 L621.7,555.8 L622,555.8 L622.4,555.7 L622.7,555.7 L623.1,555.7 L623.4,555.7 L623.8,555.6 L624.1,555.6 L624.4,555.6 L624.8,555.5 L625.1,555.5 L625.5,555.5 L625.8,555.4 L626.2,555.4 L626.5,555.4 L626.9,555.3 L627.2,555.3 L627.6,555.3 L627.9,555.2 L628.3,555.2 L628.6,555.1 L629,555.1 L629.3,555 L629.7,555 L630,554.9 L630.3,554.9 L630.7,554.8 L631,554.8 L631.4,554.7 L631.7,554.6 L632.1,554.6 L632.4,554.5 L632.8,554.5 L633.1,554.4 L633.5,554.4 L633.8,554.3 L634.2,554.3 L634.5,554.2 L634.9,554.1 L635.2,554.1 L635.6,554 L635.9,554 L636.2,553.9 L636.6,553.9 L636.9,553.8 L637.3,553.8 L637.6,553.7 L638,553.6 L638.3,553.6 L638.7,553.5 L639,553.4 L639.4,553.4 L639.7,553.3 L640.1,553.2 L640.4,553.1 L640.8,553 L641.1,552.9 L641.5,552.7 L641.8,552.6 L642.1,552.4 L642.5,552.3 L642.8,552.1 L643.2,551.9 L643.5,551.7 L643.9,551.5 L644.2,551.3 L644.6,551.1 L644.9,550.8 L645.3,550.6 L645.6,550.3 L646,550.1 L646.3,549.8 L646.7,549.5 L647,549.2 L647.3,548.9 L647.7,548.6 L648,548.2 L648.4,547.8 L648.7,547.4 L649.1,547 L649.4,546.5 L649.8,546 L650.1,545.5 L650.5,544.9 L650.8,544.3 L651.2,543.7 L651.5,543.1 L651.9,542.5 L652.2,541.8 L652.6,541.1 L652.9,540.5 L653.2,539.8 L653.6,539 L653.9,538.3 L654.3,537.6 L654.6,536.8 L655,536.1 L655.3,535.3 L655.7,534.5 L656,533.7 L656.4,532.8 L656.7,531.9 L657.1,531 L657.4,530 L657.8,529 L658.1,528 L658.5,526.9 L658.8,525.8 L659.1,524.7 L659.5,523.5 L659.8,522.2 L660.2,521 L660.5,519.6 L660.9,518.2 L661.2,516.8 L661.6,515.3 L661.9,513.6 L662.3,511.8 L662.6,509.8 L663,507.6 L663.3,505.4 L663.7,503 L664,500.5 L664.4,497.9 L664.7,495.2 L665,492.4 L665.4,489.5 L665.7,486.6 L666.1,483.6 L666.4,480.6 L666.8,477.5 L667.1,474.4 L667.5,471.3 L667.8,468.2 L668.2,465.1 L668.5,462 L668.9,458.8 L669.2,455.5 L669.6,452.1 L669.9,448.7 L670.3,445.1 L670.6,441.5 L670.9,437.8 L671.3,434 L671.6,430.2 L672,426.3 L672.3,422.3 L672.7,418.3 L673,414.2" fill="none" stroke="#da5050" stroke-width="1.0" stroke-linejoin="round" stroke-linecap="round" /><circle cx="499.9" cy="560.3" r="2.0" fill="#c94242"/><circle cx="499.1" cy="559.7" r="0.8" fill="#f8d8d8" fill-opacity="0.85"/><circle cx="506.9" cy="560.1" r="2.0" fill="#c94242"/><circle cx="506.1" cy="559.5" r="0.8" fill="#f8d8d8" fill-opacity="0.85"/><circle cx="513.9" cy="559.9" r="2.0" fill="#c94242"/><circle cx="513.1" cy="559.3" r="0.8" fill="#f8d8d8" fill-opacity="0.85"/><circle cx="520.9" cy="559.6" r="2.0" fill="#c94242"/><circle cx="520.1" cy="559" r="0.8" fill="#f8d8d8" fill-opacity="0.85"/><circle cx="528" cy="559.4" r="2.0" fill="#c94242"/><circle cx="527.2" cy="558.8" r="0.8" fill="#f8d8d8" fill-opacity="0.85"/><circle cx="535" cy="559.2" r="2.0" fill="#c94242"/><circle cx="534.2" cy="558.6" r="0.8" fill="#f8d8d8" fill-opacity="0.85"/><circle cx="542" cy="559" r="2.0" fill="#c94242"/><circle cx="541.2" cy="558.4" r="0.8" fill="#f8d8d8" fill-opacity="0.85"/><circle cx="549" cy="558.8" r="2.0" fill="#c94242"/><circle cx="548.2" cy="558.2" r="0.8" fill="#f8d8d8" fill-opacity="0.85"/><circle cx="556.1" cy="558.5" r="2.0" fill="#c94242"/><circle cx="555.3" cy="557.9" r="0.8" fill="#f8d8d8" fill-opacity="0.85"/><circle cx="563.1" cy="558.3" r="2.0" fill="#c94242"/><circle cx="562.3" cy="557.7" r="0.8" fill="#f8d8d8" fill-opacity="0.85"/><circle cx="570.1" cy="558.1" r="2.0" fill="#c94242"/><circle cx="569.3" cy="557.5" r="0.8" fill="#f8d8d8" fill-opacity="0.85"/><circle cx="577.1" cy="557.9" r="2.0" fill="#c94242"/><circle cx="576.3" cy="557.3" r="0.8" fill="#f8d8d8" fill-opacity="0.85"/><circle cx="584.2" cy="557.6" r="2.0" fill="#c94242"/><circle cx="583.4" cy="557" r="0.8" fill="#f8d8d8" fill-opacity="0.85"/><circle cx="591.2" cy="557.4" r="2.0" fill="#c94242"/><circle cx="590.4" cy="556.8" r="0.8" fill="#f8d8d8" fill-opacity="0.85"/><circle cx="598.2" cy="557.2" r="2.0" fill="#c94242"/><circle cx="597.4" cy="556.6" r="0.8" fill="#f8d8d8" fill-opacity="0.85"/><circle cx="605.2" cy="557" r="2.0" fill="#c94242"/><circle cx="604.4" cy="556.4" r="0.8" fill="#f8d8d8" fill-opacity="0.85"/><circle cx="612.3" cy="556.5" r="2.0" fill="#c94242"/><circle cx="611.5" cy="555.9" r="0.8" fill="#f8d8d8" fill-opacity="0.85"/><circle cx="619.3" cy="556" r="2.0" fill="#c94242"/><circle cx="618.5" cy="555.4" r="0.8" fill="#f8d8d8" fill-opacity="0.85"/><circle cx="626.3" cy="555.4" r="2.0" fill="#c94242"/><circle cx="625.5" cy="554.8" r="0.8" fill="#f8d8d8" fill-opacity="0.85"/><circle cx="633.3" cy="554.4" r="2.0" fill="#c94242"/><circle cx="632.5" cy="553.8" r="0.8" fill="#f8d8d8" fill-opacity="0.85"/><circle cx="640.4" cy="553.1" r="2.0" fill="#c94242"/><circle cx="639.6" cy="552.5" r="0.8" fill="#f8d8d8" fill-opacity="0.85"/><circle cx="647.4" cy="548.9" r="2.0" fill="#c94242"/><circle cx="646.6" cy="548.3" r="0.8" fill="#f8d8d8" fill-opacity="0.85"/><circle cx="654.4" cy="537.3" r="2.0" fill="#c94242"/><circle cx="653.6" cy="536.7" r="0.8" fill="#f8d8d8" fill-opacity="0.85"/><circle cx="661.4" cy="515.9" r="2.0" fill="#c94242"/><circle cx="660.6" cy="515.3" r="0.8" fill="#f8d8d8" fill-opacity="0.85"/><circle cx="668.5" cy="462.5" r="2.0" fill="#c94242"/><circle cx="667.7" cy="461.9" r="0.8" fill="#f8d8d8" fill-opacity="0.85"/></g><line x1="514.2" y1="443.5" x2="534.9" y2="443.5" stroke="#5f86b2" stroke-width="1" /><circle cx="524.5" cy="443.5" r="2.1" fill="#2f5f92"/><circle cx="523.7" cy="442.9" r="0.8" fill="#d6e4f2" fill-opacity="0.85"/><text x="537.5" y="446.6" font-size="9" text-anchor="start" font-weight="normal" fill="#1a1a1a" >PM6:PY-DT</text><line x1="514.2" y1="454.5" x2="534.9" y2="454.5" stroke="#e07f7f" stroke-width="1" /><circle cx="524.5" cy="454.5" r="2.1" fill="#c94242"/><circle cx="523.7" cy="453.9" r="0.8" fill="#f8d8d8" fill-opacity="0.85"/><text x="537.5" y="457.6" font-size="9" text-anchor="start" font-weight="normal" fill="#1a1a1a" >PM6:PY-DT- sonicated</text></svg></body></html>
